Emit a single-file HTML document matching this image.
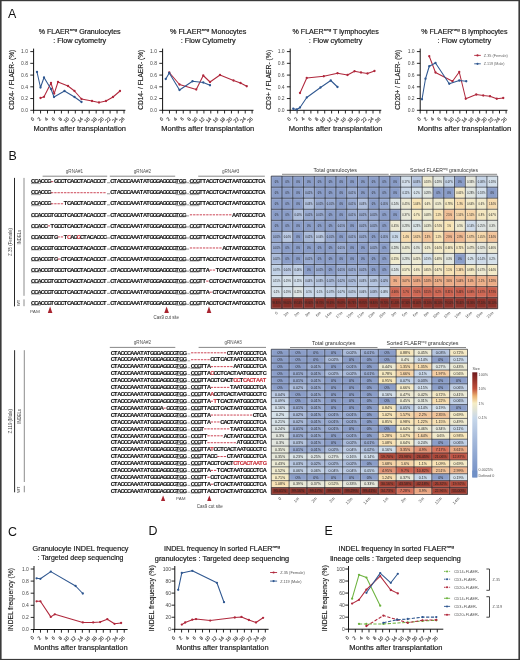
<!DOCTYPE html>
<html><head><meta charset="utf-8"><style>
html,body{margin:0;padding:0;background:#fff;}
svg{display:block;will-change:transform;}
text{font-family:"Liberation Sans", sans-serif;}
</style></head><body>
<svg width="520" height="660" viewBox="0 0 520 660">
<rect x="0" y="0" width="520" height="660" fill="#fff"/>
<rect x="0" y="0" width="520" height="1.2" fill="#3a3a3a"/>
<rect x="0" y="0" width="1.6" height="660" fill="#3a3a3a"/>
<rect x="518.4" y="0" width="1.6" height="660" fill="#3a3a3a"/>
<rect x="0" y="658.9" width="520" height="1.1" fill="#3a3a3a"/>
<text x="7.9" y="17.9" font-size="12.4" fill="#111" font-family='"Liberation Sans", sans-serif'>A</text>
<line x1="33.6" y1="48.6" x2="33.6" y2="110.8" stroke="#111" stroke-width="1.0"/>
<line x1="33.1" y1="110.3" x2="125.4" y2="110.3" stroke="#111" stroke-width="1.0"/>
<line x1="30.3" y1="110.30" x2="33.6" y2="110.30" stroke="#111" stroke-width="0.9"/>
<text x="28.0" y="112.00" font-size="5.0" fill="#4a4a4a" text-anchor="end">0.0</text>
<line x1="30.3" y1="98.56" x2="33.6" y2="98.56" stroke="#111" stroke-width="0.9"/>
<text x="28.0" y="100.26" font-size="5.0" fill="#4a4a4a" text-anchor="end">0.2</text>
<line x1="30.3" y1="86.82" x2="33.6" y2="86.82" stroke="#111" stroke-width="0.9"/>
<text x="28.0" y="88.52" font-size="5.0" fill="#4a4a4a" text-anchor="end">0.4</text>
<line x1="30.3" y1="75.08" x2="33.6" y2="75.08" stroke="#111" stroke-width="0.9"/>
<text x="28.0" y="76.78" font-size="5.0" fill="#4a4a4a" text-anchor="end">0.6</text>
<line x1="30.3" y1="63.34" x2="33.6" y2="63.34" stroke="#111" stroke-width="0.9"/>
<text x="28.0" y="65.04" font-size="5.0" fill="#4a4a4a" text-anchor="end">0.8</text>
<line x1="30.3" y1="51.60" x2="33.6" y2="51.60" stroke="#111" stroke-width="0.9"/>
<text x="28.0" y="53.30" font-size="5.0" fill="#4a4a4a" text-anchor="end">1.0</text>
<line x1="33.60" y1="110.3" x2="33.60" y2="113.5" stroke="#111" stroke-width="0.9"/>
<text x="34.60" y="119.2" font-size="4.9" fill="#333" stroke="#333" stroke-width="0.12" text-anchor="end" transform="rotate(-45 34.60 119.2)">0</text>
<line x1="40.55" y1="110.3" x2="40.55" y2="113.5" stroke="#111" stroke-width="0.9"/>
<text x="41.55" y="119.2" font-size="4.9" fill="#333" stroke="#333" stroke-width="0.12" text-anchor="end" transform="rotate(-45 41.55 119.2)">2</text>
<line x1="47.51" y1="110.3" x2="47.51" y2="113.5" stroke="#111" stroke-width="0.9"/>
<text x="48.51" y="119.2" font-size="4.9" fill="#333" stroke="#333" stroke-width="0.12" text-anchor="end" transform="rotate(-45 48.51 119.2)">4</text>
<line x1="54.46" y1="110.3" x2="54.46" y2="113.5" stroke="#111" stroke-width="0.9"/>
<text x="55.46" y="119.2" font-size="4.9" fill="#333" stroke="#333" stroke-width="0.12" text-anchor="end" transform="rotate(-45 55.46 119.2)">6</text>
<line x1="61.42" y1="110.3" x2="61.42" y2="113.5" stroke="#111" stroke-width="0.9"/>
<text x="62.42" y="119.2" font-size="4.9" fill="#333" stroke="#333" stroke-width="0.12" text-anchor="end" transform="rotate(-45 62.42 119.2)">8</text>
<line x1="68.37" y1="110.3" x2="68.37" y2="113.5" stroke="#111" stroke-width="0.9"/>
<text x="69.37" y="119.2" font-size="4.9" fill="#333" stroke="#333" stroke-width="0.12" text-anchor="end" transform="rotate(-45 69.37 119.2)">10</text>
<line x1="75.32" y1="110.3" x2="75.32" y2="113.5" stroke="#111" stroke-width="0.9"/>
<text x="76.32" y="119.2" font-size="4.9" fill="#333" stroke="#333" stroke-width="0.12" text-anchor="end" transform="rotate(-45 76.32 119.2)">12</text>
<line x1="82.28" y1="110.3" x2="82.28" y2="113.5" stroke="#111" stroke-width="0.9"/>
<text x="83.28" y="119.2" font-size="4.9" fill="#333" stroke="#333" stroke-width="0.12" text-anchor="end" transform="rotate(-45 83.28 119.2)">14</text>
<line x1="89.23" y1="110.3" x2="89.23" y2="113.5" stroke="#111" stroke-width="0.9"/>
<text x="90.23" y="119.2" font-size="4.9" fill="#333" stroke="#333" stroke-width="0.12" text-anchor="end" transform="rotate(-45 90.23 119.2)">16</text>
<line x1="96.18" y1="110.3" x2="96.18" y2="113.5" stroke="#111" stroke-width="0.9"/>
<text x="97.18" y="119.2" font-size="4.9" fill="#333" stroke="#333" stroke-width="0.12" text-anchor="end" transform="rotate(-45 97.18 119.2)">18</text>
<line x1="103.14" y1="110.3" x2="103.14" y2="113.5" stroke="#111" stroke-width="0.9"/>
<text x="104.14" y="119.2" font-size="4.9" fill="#333" stroke="#333" stroke-width="0.12" text-anchor="end" transform="rotate(-45 104.14 119.2)">20</text>
<line x1="110.09" y1="110.3" x2="110.09" y2="113.5" stroke="#111" stroke-width="0.9"/>
<text x="111.09" y="119.2" font-size="4.9" fill="#333" stroke="#333" stroke-width="0.12" text-anchor="end" transform="rotate(-45 111.09 119.2)">22</text>
<line x1="117.05" y1="110.3" x2="117.05" y2="113.5" stroke="#111" stroke-width="0.9"/>
<text x="118.05" y="119.2" font-size="4.9" fill="#333" stroke="#333" stroke-width="0.12" text-anchor="end" transform="rotate(-45 118.05 119.2)">24</text>
<line x1="124.00" y1="110.3" x2="124.00" y2="113.5" stroke="#111" stroke-width="0.9"/>
<text x="125.00" y="119.2" font-size="4.9" fill="#333" stroke="#333" stroke-width="0.12" text-anchor="end" transform="rotate(-45 125.00 119.2)">26</text>
<text x="79.69999999999999" y="34.2" font-size="6.6" fill="#1a1a1a" stroke="#1a1a1a" stroke-width="0.18" font-family='"Liberation Sans", sans-serif' text-anchor="middle" textLength="81.8" lengthAdjust="spacingAndGlyphs">% FLAER<tspan font-size="4.2" dy="-3.2">neg</tspan><tspan dy="3.2"> Granulocytes</tspan></text>
<text x="79.69999999999999" y="43.0" font-size="6.6" fill="#1a1a1a" stroke="#1a1a1a" stroke-width="0.18" font-family='"Liberation Sans", sans-serif' text-anchor="middle" textLength="53.099999999999994" lengthAdjust="spacingAndGlyphs">: Flow cytometry</text>
<text x="14.3" y="79.8" font-size="7.4" fill="#1a1a1a" stroke="#1a1a1a" stroke-width="0.14" font-family='"Liberation Sans", sans-serif' text-anchor="middle" textLength="60.0" lengthAdjust="spacingAndGlyphs" transform="rotate(-90 14.3 79.8)">CD24- / FLAER- (%)</text>
<text x="79.75" y="131.4" font-size="7.4" fill="#1a1a1a" stroke="#1a1a1a" stroke-width="0.18" font-family='"Liberation Sans", sans-serif' text-anchor="middle" textLength="92.50" lengthAdjust="spacingAndGlyphs">Months after transplantation</text>
<polyline points="40.5,98 44,96.8 51,83 54.2,93.6 58,82 68,86 74.5,91 81.5,99 92,101 99,102.5 106,101 113,97 120,91" fill="none" stroke="#b0283c" stroke-width="1.05" stroke-linejoin="round"/>
<circle cx="40.5" cy="98" r="1.15" fill="#b0283c"/>
<circle cx="44" cy="96.8" r="1.15" fill="#b0283c"/>
<circle cx="51" cy="83" r="1.15" fill="#b0283c"/>
<circle cx="54.2" cy="93.6" r="1.15" fill="#b0283c"/>
<circle cx="58" cy="82" r="1.15" fill="#b0283c"/>
<circle cx="68" cy="86" r="1.15" fill="#b0283c"/>
<circle cx="74.5" cy="91" r="1.15" fill="#b0283c"/>
<circle cx="81.5" cy="99" r="1.15" fill="#b0283c"/>
<circle cx="92" cy="101" r="1.15" fill="#b0283c"/>
<circle cx="99" cy="102.5" r="1.15" fill="#b0283c"/>
<circle cx="106" cy="101" r="1.15" fill="#b0283c"/>
<circle cx="113" cy="97" r="1.15" fill="#b0283c"/>
<circle cx="120" cy="91" r="1.15" fill="#b0283c"/>
<polyline points="37,72 40.5,87.5 44,77.5 51,89 54,97 64.5,91 74.5,97 81.5,102" fill="none" stroke="#2f5790" stroke-width="1.05" stroke-linejoin="round"/>
<circle cx="37" cy="72" r="1.15" fill="#2f5790"/>
<circle cx="40.5" cy="87.5" r="1.15" fill="#2f5790"/>
<circle cx="44" cy="77.5" r="1.15" fill="#2f5790"/>
<circle cx="51" cy="89" r="1.15" fill="#2f5790"/>
<circle cx="54" cy="97" r="1.15" fill="#2f5790"/>
<circle cx="64.5" cy="91" r="1.15" fill="#2f5790"/>
<circle cx="74.5" cy="97" r="1.15" fill="#2f5790"/>
<circle cx="81.5" cy="102" r="1.15" fill="#2f5790"/>
<line x1="162.6" y1="48.6" x2="162.6" y2="110.8" stroke="#111" stroke-width="1.0"/>
<line x1="162.1" y1="110.3" x2="253.5" y2="110.3" stroke="#111" stroke-width="1.0"/>
<line x1="159.29999999999998" y1="110.30" x2="162.6" y2="110.30" stroke="#111" stroke-width="0.9"/>
<text x="157.0" y="112.00" font-size="5.0" fill="#4a4a4a" text-anchor="end">0.0</text>
<line x1="159.29999999999998" y1="98.56" x2="162.6" y2="98.56" stroke="#111" stroke-width="0.9"/>
<text x="157.0" y="100.26" font-size="5.0" fill="#4a4a4a" text-anchor="end">0.2</text>
<line x1="159.29999999999998" y1="86.82" x2="162.6" y2="86.82" stroke="#111" stroke-width="0.9"/>
<text x="157.0" y="88.52" font-size="5.0" fill="#4a4a4a" text-anchor="end">0.4</text>
<line x1="159.29999999999998" y1="75.08" x2="162.6" y2="75.08" stroke="#111" stroke-width="0.9"/>
<text x="157.0" y="76.78" font-size="5.0" fill="#4a4a4a" text-anchor="end">0.6</text>
<line x1="159.29999999999998" y1="63.34" x2="162.6" y2="63.34" stroke="#111" stroke-width="0.9"/>
<text x="157.0" y="65.04" font-size="5.0" fill="#4a4a4a" text-anchor="end">0.8</text>
<line x1="159.29999999999998" y1="51.60" x2="162.6" y2="51.60" stroke="#111" stroke-width="0.9"/>
<text x="157.0" y="53.30" font-size="5.0" fill="#4a4a4a" text-anchor="end">1.0</text>
<line x1="162.60" y1="110.3" x2="162.60" y2="113.5" stroke="#111" stroke-width="0.9"/>
<text x="163.60" y="119.2" font-size="4.9" fill="#333" stroke="#333" stroke-width="0.12" text-anchor="end" transform="rotate(-45 163.60 119.2)">0</text>
<line x1="169.48" y1="110.3" x2="169.48" y2="113.5" stroke="#111" stroke-width="0.9"/>
<text x="170.48" y="119.2" font-size="4.9" fill="#333" stroke="#333" stroke-width="0.12" text-anchor="end" transform="rotate(-45 170.48 119.2)">2</text>
<line x1="176.37" y1="110.3" x2="176.37" y2="113.5" stroke="#111" stroke-width="0.9"/>
<text x="177.37" y="119.2" font-size="4.9" fill="#333" stroke="#333" stroke-width="0.12" text-anchor="end" transform="rotate(-45 177.37 119.2)">4</text>
<line x1="183.25" y1="110.3" x2="183.25" y2="113.5" stroke="#111" stroke-width="0.9"/>
<text x="184.25" y="119.2" font-size="4.9" fill="#333" stroke="#333" stroke-width="0.12" text-anchor="end" transform="rotate(-45 184.25 119.2)">6</text>
<line x1="190.14" y1="110.3" x2="190.14" y2="113.5" stroke="#111" stroke-width="0.9"/>
<text x="191.14" y="119.2" font-size="4.9" fill="#333" stroke="#333" stroke-width="0.12" text-anchor="end" transform="rotate(-45 191.14 119.2)">8</text>
<line x1="197.02" y1="110.3" x2="197.02" y2="113.5" stroke="#111" stroke-width="0.9"/>
<text x="198.02" y="119.2" font-size="4.9" fill="#333" stroke="#333" stroke-width="0.12" text-anchor="end" transform="rotate(-45 198.02 119.2)">10</text>
<line x1="203.91" y1="110.3" x2="203.91" y2="113.5" stroke="#111" stroke-width="0.9"/>
<text x="204.91" y="119.2" font-size="4.9" fill="#333" stroke="#333" stroke-width="0.12" text-anchor="end" transform="rotate(-45 204.91 119.2)">12</text>
<line x1="210.79" y1="110.3" x2="210.79" y2="113.5" stroke="#111" stroke-width="0.9"/>
<text x="211.79" y="119.2" font-size="4.9" fill="#333" stroke="#333" stroke-width="0.12" text-anchor="end" transform="rotate(-45 211.79 119.2)">14</text>
<line x1="217.68" y1="110.3" x2="217.68" y2="113.5" stroke="#111" stroke-width="0.9"/>
<text x="218.68" y="119.2" font-size="4.9" fill="#333" stroke="#333" stroke-width="0.12" text-anchor="end" transform="rotate(-45 218.68 119.2)">16</text>
<line x1="224.56" y1="110.3" x2="224.56" y2="113.5" stroke="#111" stroke-width="0.9"/>
<text x="225.56" y="119.2" font-size="4.9" fill="#333" stroke="#333" stroke-width="0.12" text-anchor="end" transform="rotate(-45 225.56 119.2)">18</text>
<line x1="231.45" y1="110.3" x2="231.45" y2="113.5" stroke="#111" stroke-width="0.9"/>
<text x="232.45" y="119.2" font-size="4.9" fill="#333" stroke="#333" stroke-width="0.12" text-anchor="end" transform="rotate(-45 232.45 119.2)">20</text>
<line x1="238.33" y1="110.3" x2="238.33" y2="113.5" stroke="#111" stroke-width="0.9"/>
<text x="239.33" y="119.2" font-size="4.9" fill="#333" stroke="#333" stroke-width="0.12" text-anchor="end" transform="rotate(-45 239.33 119.2)">22</text>
<line x1="245.22" y1="110.3" x2="245.22" y2="113.5" stroke="#111" stroke-width="0.9"/>
<text x="246.22" y="119.2" font-size="4.9" fill="#333" stroke="#333" stroke-width="0.12" text-anchor="end" transform="rotate(-45 246.22 119.2)">24</text>
<line x1="252.10" y1="110.3" x2="252.10" y2="113.5" stroke="#111" stroke-width="0.9"/>
<text x="253.10" y="119.2" font-size="4.9" fill="#333" stroke="#333" stroke-width="0.12" text-anchor="end" transform="rotate(-45 253.10 119.2)">26</text>
<text x="208.15" y="34.2" font-size="6.6" fill="#1a1a1a" stroke="#1a1a1a" stroke-width="0.18" font-family='"Liberation Sans", sans-serif' text-anchor="middle" textLength="76.30000000000001" lengthAdjust="spacingAndGlyphs">% FLAER<tspan font-size="4.2" dy="-3.2">neg</tspan><tspan dy="3.2">  Monocytes</tspan></text>
<text x="208.15" y="43.0" font-size="6.6" fill="#1a1a1a" stroke="#1a1a1a" stroke-width="0.18" font-family='"Liberation Sans", sans-serif' text-anchor="middle" textLength="55.0" lengthAdjust="spacingAndGlyphs">: Flow Cytometry</text>
<text x="143.4" y="79.8" font-size="7.4" fill="#1a1a1a" stroke="#1a1a1a" stroke-width="0.14" font-family='"Liberation Sans", sans-serif' text-anchor="middle" textLength="60.0" lengthAdjust="spacingAndGlyphs" transform="rotate(-90 143.4 79.8)">CD14- / FLAER- (%)</text>
<text x="207.80" y="131.4" font-size="7.4" fill="#1a1a1a" stroke="#1a1a1a" stroke-width="0.18" font-family='"Liberation Sans", sans-serif' text-anchor="middle" textLength="93.00" lengthAdjust="spacingAndGlyphs">Months after transplantation</text>
<polyline points="169.25,72.5 179.5,84.5 196.25,89.5 203.25,75.5 210,82 220,75 233.5,80.5 240.5,83 246.75,86.25" fill="none" stroke="#b0283c" stroke-width="1.05" stroke-linejoin="round"/>
<circle cx="169.25" cy="72.5" r="1.15" fill="#b0283c"/>
<circle cx="179.5" cy="84.5" r="1.15" fill="#b0283c"/>
<circle cx="196.25" cy="89.5" r="1.15" fill="#b0283c"/>
<circle cx="203.25" cy="75.5" r="1.15" fill="#b0283c"/>
<circle cx="210" cy="82" r="1.15" fill="#b0283c"/>
<circle cx="220" cy="75" r="1.15" fill="#b0283c"/>
<circle cx="233.5" cy="80.5" r="1.15" fill="#b0283c"/>
<circle cx="240.5" cy="83" r="1.15" fill="#b0283c"/>
<circle cx="246.75" cy="86.25" r="1.15" fill="#b0283c"/>
<polyline points="165.75,79 169.25,73 179.5,90 192.5,81.25 203.25,82.5 210,85.25" fill="none" stroke="#2f5790" stroke-width="1.05" stroke-linejoin="round"/>
<circle cx="165.75" cy="79" r="1.15" fill="#2f5790"/>
<circle cx="169.25" cy="73" r="1.15" fill="#2f5790"/>
<circle cx="179.5" cy="90" r="1.15" fill="#2f5790"/>
<circle cx="192.5" cy="81.25" r="1.15" fill="#2f5790"/>
<circle cx="203.25" cy="82.5" r="1.15" fill="#2f5790"/>
<circle cx="210" cy="85.25" r="1.15" fill="#2f5790"/>
<line x1="290.2" y1="48.6" x2="290.2" y2="110.8" stroke="#111" stroke-width="1.0"/>
<line x1="289.7" y1="110.3" x2="381.3" y2="110.3" stroke="#111" stroke-width="1.0"/>
<line x1="286.9" y1="110.30" x2="290.2" y2="110.30" stroke="#111" stroke-width="0.9"/>
<text x="284.6" y="112.00" font-size="5.0" fill="#4a4a4a" text-anchor="end">0.0</text>
<line x1="286.9" y1="98.56" x2="290.2" y2="98.56" stroke="#111" stroke-width="0.9"/>
<text x="284.6" y="100.26" font-size="5.0" fill="#4a4a4a" text-anchor="end">0.2</text>
<line x1="286.9" y1="86.82" x2="290.2" y2="86.82" stroke="#111" stroke-width="0.9"/>
<text x="284.6" y="88.52" font-size="5.0" fill="#4a4a4a" text-anchor="end">0.4</text>
<line x1="286.9" y1="75.08" x2="290.2" y2="75.08" stroke="#111" stroke-width="0.9"/>
<text x="284.6" y="76.78" font-size="5.0" fill="#4a4a4a" text-anchor="end">0.6</text>
<line x1="286.9" y1="63.34" x2="290.2" y2="63.34" stroke="#111" stroke-width="0.9"/>
<text x="284.6" y="65.04" font-size="5.0" fill="#4a4a4a" text-anchor="end">0.8</text>
<line x1="286.9" y1="51.60" x2="290.2" y2="51.60" stroke="#111" stroke-width="0.9"/>
<text x="284.6" y="53.30" font-size="5.0" fill="#4a4a4a" text-anchor="end">1.0</text>
<line x1="290.20" y1="110.3" x2="290.20" y2="113.5" stroke="#111" stroke-width="0.9"/>
<text x="291.20" y="119.2" font-size="4.9" fill="#333" stroke="#333" stroke-width="0.12" text-anchor="end" transform="rotate(-45 291.20 119.2)">0</text>
<line x1="297.10" y1="110.3" x2="297.10" y2="113.5" stroke="#111" stroke-width="0.9"/>
<text x="298.10" y="119.2" font-size="4.9" fill="#333" stroke="#333" stroke-width="0.12" text-anchor="end" transform="rotate(-45 298.10 119.2)">2</text>
<line x1="304.00" y1="110.3" x2="304.00" y2="113.5" stroke="#111" stroke-width="0.9"/>
<text x="305.00" y="119.2" font-size="4.9" fill="#333" stroke="#333" stroke-width="0.12" text-anchor="end" transform="rotate(-45 305.00 119.2)">4</text>
<line x1="310.90" y1="110.3" x2="310.90" y2="113.5" stroke="#111" stroke-width="0.9"/>
<text x="311.90" y="119.2" font-size="4.9" fill="#333" stroke="#333" stroke-width="0.12" text-anchor="end" transform="rotate(-45 311.90 119.2)">6</text>
<line x1="317.80" y1="110.3" x2="317.80" y2="113.5" stroke="#111" stroke-width="0.9"/>
<text x="318.80" y="119.2" font-size="4.9" fill="#333" stroke="#333" stroke-width="0.12" text-anchor="end" transform="rotate(-45 318.80 119.2)">8</text>
<line x1="324.70" y1="110.3" x2="324.70" y2="113.5" stroke="#111" stroke-width="0.9"/>
<text x="325.70" y="119.2" font-size="4.9" fill="#333" stroke="#333" stroke-width="0.12" text-anchor="end" transform="rotate(-45 325.70 119.2)">10</text>
<line x1="331.60" y1="110.3" x2="331.60" y2="113.5" stroke="#111" stroke-width="0.9"/>
<text x="332.60" y="119.2" font-size="4.9" fill="#333" stroke="#333" stroke-width="0.12" text-anchor="end" transform="rotate(-45 332.60 119.2)">12</text>
<line x1="338.50" y1="110.3" x2="338.50" y2="113.5" stroke="#111" stroke-width="0.9"/>
<text x="339.50" y="119.2" font-size="4.9" fill="#333" stroke="#333" stroke-width="0.12" text-anchor="end" transform="rotate(-45 339.50 119.2)">14</text>
<line x1="345.40" y1="110.3" x2="345.40" y2="113.5" stroke="#111" stroke-width="0.9"/>
<text x="346.40" y="119.2" font-size="4.9" fill="#333" stroke="#333" stroke-width="0.12" text-anchor="end" transform="rotate(-45 346.40 119.2)">16</text>
<line x1="352.30" y1="110.3" x2="352.30" y2="113.5" stroke="#111" stroke-width="0.9"/>
<text x="353.30" y="119.2" font-size="4.9" fill="#333" stroke="#333" stroke-width="0.12" text-anchor="end" transform="rotate(-45 353.30 119.2)">18</text>
<line x1="359.20" y1="110.3" x2="359.20" y2="113.5" stroke="#111" stroke-width="0.9"/>
<text x="360.20" y="119.2" font-size="4.9" fill="#333" stroke="#333" stroke-width="0.12" text-anchor="end" transform="rotate(-45 360.20 119.2)">20</text>
<line x1="366.10" y1="110.3" x2="366.10" y2="113.5" stroke="#111" stroke-width="0.9"/>
<text x="367.10" y="119.2" font-size="4.9" fill="#333" stroke="#333" stroke-width="0.12" text-anchor="end" transform="rotate(-45 367.10 119.2)">22</text>
<line x1="373.00" y1="110.3" x2="373.00" y2="113.5" stroke="#111" stroke-width="0.9"/>
<text x="374.00" y="119.2" font-size="4.9" fill="#333" stroke="#333" stroke-width="0.12" text-anchor="end" transform="rotate(-45 374.00 119.2)">24</text>
<line x1="379.90" y1="110.3" x2="379.90" y2="113.5" stroke="#111" stroke-width="0.9"/>
<text x="380.90" y="119.2" font-size="4.9" fill="#333" stroke="#333" stroke-width="0.12" text-anchor="end" transform="rotate(-45 380.90 119.2)">26</text>
<text x="335.65" y="34.2" font-size="6.6" fill="#1a1a1a" stroke="#1a1a1a" stroke-width="0.18" font-family='"Liberation Sans", sans-serif' text-anchor="middle" textLength="86.30000000000001" lengthAdjust="spacingAndGlyphs">% FLAER<tspan font-size="4.2" dy="-3.2">neg</tspan><tspan dy="3.2">  T lymphocytes</tspan></text>
<text x="335.65" y="43.0" font-size="6.6" fill="#1a1a1a" stroke="#1a1a1a" stroke-width="0.18" font-family='"Liberation Sans", sans-serif' text-anchor="middle" textLength="53.69999999999999" lengthAdjust="spacingAndGlyphs">: Flow cytometry</text>
<text x="270.8" y="79.8" font-size="7.4" fill="#1a1a1a" stroke="#1a1a1a" stroke-width="0.14" font-family='"Liberation Sans", sans-serif' text-anchor="middle" textLength="60.0" lengthAdjust="spacingAndGlyphs" transform="rotate(-90 270.8 79.8)">CD3+ / FLAER- (%)</text>
<text x="335.65" y="131.4" font-size="7.4" fill="#1a1a1a" stroke="#1a1a1a" stroke-width="0.18" font-family='"Liberation Sans", sans-serif' text-anchor="middle" textLength="93.70" lengthAdjust="spacingAndGlyphs">Months after transplantation</text>
<polyline points="300,93 306.75,78 323.75,76.25 337.5,73.25 347.5,75 354.5,71.25 361,72.5 367.5,73.5 374.5,71" fill="none" stroke="#b0283c" stroke-width="1.05" stroke-linejoin="round"/>
<circle cx="300" cy="93" r="1.15" fill="#b0283c"/>
<circle cx="306.75" cy="78" r="1.15" fill="#b0283c"/>
<circle cx="323.75" cy="76.25" r="1.15" fill="#b0283c"/>
<circle cx="337.5" cy="73.25" r="1.15" fill="#b0283c"/>
<circle cx="347.5" cy="75" r="1.15" fill="#b0283c"/>
<circle cx="354.5" cy="71.25" r="1.15" fill="#b0283c"/>
<circle cx="361" cy="72.5" r="1.15" fill="#b0283c"/>
<circle cx="367.5" cy="73.5" r="1.15" fill="#b0283c"/>
<circle cx="374.5" cy="71" r="1.15" fill="#b0283c"/>
<polyline points="293.25,108.75 296.75,109.5 300,107.5 306.75,97.5 320.5,87.5 330.75,80.5 337.5,87" fill="none" stroke="#2f5790" stroke-width="1.05" stroke-linejoin="round"/>
<circle cx="293.25" cy="108.75" r="1.15" fill="#2f5790"/>
<circle cx="296.75" cy="109.5" r="1.15" fill="#2f5790"/>
<circle cx="300" cy="107.5" r="1.15" fill="#2f5790"/>
<circle cx="306.75" cy="97.5" r="1.15" fill="#2f5790"/>
<circle cx="320.5" cy="87.5" r="1.15" fill="#2f5790"/>
<circle cx="330.75" cy="80.5" r="1.15" fill="#2f5790"/>
<circle cx="337.5" cy="87" r="1.15" fill="#2f5790"/>
<line x1="420.2" y1="48.6" x2="420.2" y2="110.8" stroke="#111" stroke-width="1.0"/>
<line x1="419.7" y1="110.3" x2="507.5" y2="110.3" stroke="#111" stroke-width="1.0"/>
<line x1="416.9" y1="110.30" x2="420.2" y2="110.30" stroke="#111" stroke-width="0.9"/>
<text x="414.6" y="112.00" font-size="5.0" fill="#4a4a4a" text-anchor="end">0.0</text>
<line x1="416.9" y1="98.56" x2="420.2" y2="98.56" stroke="#111" stroke-width="0.9"/>
<text x="414.6" y="100.26" font-size="5.0" fill="#4a4a4a" text-anchor="end">0.2</text>
<line x1="416.9" y1="86.82" x2="420.2" y2="86.82" stroke="#111" stroke-width="0.9"/>
<text x="414.6" y="88.52" font-size="5.0" fill="#4a4a4a" text-anchor="end">0.4</text>
<line x1="416.9" y1="75.08" x2="420.2" y2="75.08" stroke="#111" stroke-width="0.9"/>
<text x="414.6" y="76.78" font-size="5.0" fill="#4a4a4a" text-anchor="end">0.6</text>
<line x1="416.9" y1="63.34" x2="420.2" y2="63.34" stroke="#111" stroke-width="0.9"/>
<text x="414.6" y="65.04" font-size="5.0" fill="#4a4a4a" text-anchor="end">0.8</text>
<line x1="416.9" y1="51.60" x2="420.2" y2="51.60" stroke="#111" stroke-width="0.9"/>
<text x="414.6" y="53.30" font-size="5.0" fill="#4a4a4a" text-anchor="end">1.0</text>
<line x1="420.20" y1="110.3" x2="420.20" y2="113.5" stroke="#111" stroke-width="0.9"/>
<text x="421.20" y="119.2" font-size="4.9" fill="#333" stroke="#333" stroke-width="0.12" text-anchor="end" transform="rotate(-45 421.20 119.2)">0</text>
<line x1="426.81" y1="110.3" x2="426.81" y2="113.5" stroke="#111" stroke-width="0.9"/>
<text x="427.81" y="119.2" font-size="4.9" fill="#333" stroke="#333" stroke-width="0.12" text-anchor="end" transform="rotate(-45 427.81 119.2)">2</text>
<line x1="433.42" y1="110.3" x2="433.42" y2="113.5" stroke="#111" stroke-width="0.9"/>
<text x="434.42" y="119.2" font-size="4.9" fill="#333" stroke="#333" stroke-width="0.12" text-anchor="end" transform="rotate(-45 434.42 119.2)">4</text>
<line x1="440.02" y1="110.3" x2="440.02" y2="113.5" stroke="#111" stroke-width="0.9"/>
<text x="441.02" y="119.2" font-size="4.9" fill="#333" stroke="#333" stroke-width="0.12" text-anchor="end" transform="rotate(-45 441.02 119.2)">6</text>
<line x1="446.63" y1="110.3" x2="446.63" y2="113.5" stroke="#111" stroke-width="0.9"/>
<text x="447.63" y="119.2" font-size="4.9" fill="#333" stroke="#333" stroke-width="0.12" text-anchor="end" transform="rotate(-45 447.63 119.2)">8</text>
<line x1="453.24" y1="110.3" x2="453.24" y2="113.5" stroke="#111" stroke-width="0.9"/>
<text x="454.24" y="119.2" font-size="4.9" fill="#333" stroke="#333" stroke-width="0.12" text-anchor="end" transform="rotate(-45 454.24 119.2)">10</text>
<line x1="459.85" y1="110.3" x2="459.85" y2="113.5" stroke="#111" stroke-width="0.9"/>
<text x="460.85" y="119.2" font-size="4.9" fill="#333" stroke="#333" stroke-width="0.12" text-anchor="end" transform="rotate(-45 460.85 119.2)">12</text>
<line x1="466.45" y1="110.3" x2="466.45" y2="113.5" stroke="#111" stroke-width="0.9"/>
<text x="467.45" y="119.2" font-size="4.9" fill="#333" stroke="#333" stroke-width="0.12" text-anchor="end" transform="rotate(-45 467.45 119.2)">14</text>
<line x1="473.06" y1="110.3" x2="473.06" y2="113.5" stroke="#111" stroke-width="0.9"/>
<text x="474.06" y="119.2" font-size="4.9" fill="#333" stroke="#333" stroke-width="0.12" text-anchor="end" transform="rotate(-45 474.06 119.2)">16</text>
<line x1="479.67" y1="110.3" x2="479.67" y2="113.5" stroke="#111" stroke-width="0.9"/>
<text x="480.67" y="119.2" font-size="4.9" fill="#333" stroke="#333" stroke-width="0.12" text-anchor="end" transform="rotate(-45 480.67 119.2)">18</text>
<line x1="486.28" y1="110.3" x2="486.28" y2="113.5" stroke="#111" stroke-width="0.9"/>
<text x="487.28" y="119.2" font-size="4.9" fill="#333" stroke="#333" stroke-width="0.12" text-anchor="end" transform="rotate(-45 487.28 119.2)">20</text>
<line x1="492.88" y1="110.3" x2="492.88" y2="113.5" stroke="#111" stroke-width="0.9"/>
<text x="493.88" y="119.2" font-size="4.9" fill="#333" stroke="#333" stroke-width="0.12" text-anchor="end" transform="rotate(-45 493.88 119.2)">22</text>
<line x1="499.49" y1="110.3" x2="499.49" y2="113.5" stroke="#111" stroke-width="0.9"/>
<text x="500.49" y="119.2" font-size="4.9" fill="#333" stroke="#333" stroke-width="0.12" text-anchor="end" transform="rotate(-45 500.49 119.2)">24</text>
<line x1="506.10" y1="110.3" x2="506.10" y2="113.5" stroke="#111" stroke-width="0.9"/>
<text x="507.10" y="119.2" font-size="4.9" fill="#333" stroke="#333" stroke-width="0.12" text-anchor="end" transform="rotate(-45 507.10 119.2)">26</text>
<text x="464.4" y="34.2" font-size="6.6" fill="#1a1a1a" stroke="#1a1a1a" stroke-width="0.18" font-family='"Liberation Sans", sans-serif' text-anchor="middle" textLength="86.19999999999999" lengthAdjust="spacingAndGlyphs">% FLAER<tspan font-size="4.2" dy="-3.2">neg</tspan><tspan dy="3.2">  B lymphocytes</tspan></text>
<text x="464.4" y="43.0" font-size="6.6" fill="#1a1a1a" stroke="#1a1a1a" stroke-width="0.18" font-family='"Liberation Sans", sans-serif' text-anchor="middle" textLength="53.80000000000001" lengthAdjust="spacingAndGlyphs">: Flow cytometry</text>
<text x="399.6" y="79.8" font-size="7.4" fill="#1a1a1a" stroke="#1a1a1a" stroke-width="0.14" font-family='"Liberation Sans", sans-serif' text-anchor="middle" textLength="60.0" lengthAdjust="spacingAndGlyphs" transform="rotate(-90 399.6 79.8)">CD20+ / FLAER- (%)</text>
<text x="464.40" y="131.4" font-size="7.4" fill="#1a1a1a" stroke="#1a1a1a" stroke-width="0.18" font-family='"Liberation Sans", sans-serif' text-anchor="middle" textLength="93.80" lengthAdjust="spacingAndGlyphs">Months after transplantation</text>
<polyline points="429.25,56.25 435.5,72.5 452.5,81.25 459.25,72 465.75,98.75 476.25,94.5 483.25,95.5 490,96.25 496.75,98.75 503.25,98" fill="none" stroke="#b0283c" stroke-width="1.05" stroke-linejoin="round"/>
<circle cx="429.25" cy="56.25" r="1.15" fill="#b0283c"/>
<circle cx="435.5" cy="72.5" r="1.15" fill="#b0283c"/>
<circle cx="452.5" cy="81.25" r="1.15" fill="#b0283c"/>
<circle cx="459.25" cy="72" r="1.15" fill="#b0283c"/>
<circle cx="465.75" cy="98.75" r="1.15" fill="#b0283c"/>
<circle cx="476.25" cy="94.5" r="1.15" fill="#b0283c"/>
<circle cx="483.25" cy="95.5" r="1.15" fill="#b0283c"/>
<circle cx="490" cy="96.25" r="1.15" fill="#b0283c"/>
<circle cx="496.75" cy="98.75" r="1.15" fill="#b0283c"/>
<circle cx="503.25" cy="98" r="1.15" fill="#b0283c"/>
<polyline points="422,99.25 425.5,78.75 429.25,66.25 435.5,63 449.25,83.75 459.25,80.5 466.25,81.25" fill="none" stroke="#2f5790" stroke-width="1.05" stroke-linejoin="round"/>
<circle cx="422" cy="99.25" r="1.15" fill="#2f5790"/>
<circle cx="425.5" cy="78.75" r="1.15" fill="#2f5790"/>
<circle cx="429.25" cy="66.25" r="1.15" fill="#2f5790"/>
<circle cx="435.5" cy="63" r="1.15" fill="#2f5790"/>
<circle cx="449.25" cy="83.75" r="1.15" fill="#2f5790"/>
<circle cx="459.25" cy="80.5" r="1.15" fill="#2f5790"/>
<circle cx="466.25" cy="81.25" r="1.15" fill="#2f5790"/>
<line x1="474.2" y1="55.4" x2="480.8" y2="55.4" stroke="#b0283c" stroke-width="0.9"/>
<circle cx="477.5" cy="55.4" r="1.1" fill="#b0283c"/>
<text x="483.8" y="56.85" font-size="4.2" fill="#666" font-family='"Liberation Sans", sans-serif' textLength="24.0" lengthAdjust="spacingAndGlyphs" >Z.35 (Female)</text>
<line x1="474.2" y1="63.8" x2="480.8" y2="63.8" stroke="#2f5790" stroke-width="0.9"/>
<circle cx="477.5" cy="63.8" r="1.1" fill="#2f5790"/>
<text x="483.8" y="65.25" font-size="4.2" fill="#666" font-family='"Liberation Sans", sans-serif' textLength="20.8" lengthAdjust="spacingAndGlyphs" >Z.119 (Male)</text>
<text x="8.6" y="159.9" font-size="12.4" fill="#111" font-family='"Liberation Sans", sans-serif'>B</text>
<line x1="42.6" y1="176.2" x2="107.2" y2="176.2" stroke="#555" stroke-width="0.7"/>
<text x="74.5" y="173.20" font-size="4.6" fill="#555" text-anchor="middle">gRNA#1</text>
<line x1="109.8" y1="176.2" x2="175.2" y2="176.2" stroke="#555" stroke-width="0.7"/>
<text x="142.5" y="173.20" font-size="4.6" fill="#555" text-anchor="middle">gRNA#2</text>
<line x1="198.2" y1="176.2" x2="264.8" y2="176.2" stroke="#555" stroke-width="0.7"/>
<text x="230.7" y="173.20" font-size="4.6" fill="#555" text-anchor="middle">gRNA#3</text>
<line x1="50.97" y1="181.68" x2="53.29" y2="181.68" stroke="#cc4656" stroke-width="1.0"/>
<text x="31.00 34.27 37.54 40.81 44.08 47.35 53.89 57.16 60.43 63.70 66.97 70.24 73.51 76.78 80.05 83.32 86.59 89.86 93.13 96.40 99.67 102.94" y="183.38" font-size="5.6" fill="#111" font-family='"Liberation Mono", monospace' font-weight="bold" stroke="#111" stroke-width="0.15">CCACCGGCCTCAGCTACACCCT</text>
<line x1="31.00" y1="183.57" x2="40.81" y2="183.57" stroke="#555" stroke-width="0.55"/>
<rect x="107.10" y="182.38" width="0.8" height="0.8" fill="#555"/>
<rect x="108.10" y="182.38" width="0.8" height="0.8" fill="#555"/>
<rect x="109.10" y="182.38" width="0.8" height="0.8" fill="#555"/>
<text x="110.20 113.47 116.74 120.01 123.28 126.55 129.82 133.09 136.36 139.63 142.90 146.17 149.44 152.71 155.98 159.25 162.52 165.79 169.06 172.33 175.60 178.87 182.14" y="183.38" font-size="5.6" fill="#111" font-family='"Liberation Mono", monospace' font-weight="bold" stroke="#111" stroke-width="0.15">CTACCCAAATATGGGAGGCGTGG</text>
<line x1="175.60" y1="183.57" x2="185.41" y2="183.57" stroke="#555" stroke-width="0.55"/>
<rect x="185.65" y="182.38" width="0.8" height="0.8" fill="#555"/>
<rect x="186.95" y="182.38" width="0.8" height="0.8" fill="#555"/>
<rect x="188.25" y="182.38" width="0.8" height="0.8" fill="#555"/>
<text x="189.50 192.77 196.04 199.31 202.58 205.85 209.12 212.39 215.66 218.93 222.20 225.47 228.74 232.01 235.28 238.55 241.82 245.09 248.36 251.63 254.90 258.17 261.44" y="183.38" font-size="5.6" fill="#111" font-family='"Liberation Mono", monospace' font-weight="bold" stroke="#111" stroke-width="0.15">CCGTTACCTCACTAATGGCCTCA</text>
<line x1="189.50" y1="183.57" x2="199.31" y2="183.57" stroke="#555" stroke-width="0.55"/>
<line x1="50.97" y1="192.72" x2="53.29" y2="192.72" stroke="#cc4656" stroke-width="1.0"/>
<line x1="54.24" y1="192.72" x2="56.56" y2="192.72" stroke="#cc4656" stroke-width="1.0"/>
<line x1="57.51" y1="192.72" x2="59.83" y2="192.72" stroke="#cc4656" stroke-width="1.0"/>
<line x1="60.78" y1="192.72" x2="63.10" y2="192.72" stroke="#cc4656" stroke-width="1.0"/>
<line x1="64.05" y1="192.72" x2="66.37" y2="192.72" stroke="#cc4656" stroke-width="1.0"/>
<line x1="67.32" y1="192.72" x2="69.64" y2="192.72" stroke="#cc4656" stroke-width="1.0"/>
<line x1="70.59" y1="192.72" x2="72.91" y2="192.72" stroke="#cc4656" stroke-width="1.0"/>
<line x1="73.86" y1="192.72" x2="76.18" y2="192.72" stroke="#cc4656" stroke-width="1.0"/>
<line x1="77.13" y1="192.72" x2="79.45" y2="192.72" stroke="#cc4656" stroke-width="1.0"/>
<line x1="80.40" y1="192.72" x2="82.72" y2="192.72" stroke="#cc4656" stroke-width="1.0"/>
<line x1="83.67" y1="192.72" x2="85.99" y2="192.72" stroke="#cc4656" stroke-width="1.0"/>
<line x1="86.94" y1="192.72" x2="89.26" y2="192.72" stroke="#cc4656" stroke-width="1.0"/>
<line x1="90.21" y1="192.72" x2="92.53" y2="192.72" stroke="#cc4656" stroke-width="1.0"/>
<line x1="93.48" y1="192.72" x2="95.80" y2="192.72" stroke="#cc4656" stroke-width="1.0"/>
<line x1="96.75" y1="192.72" x2="99.07" y2="192.72" stroke="#cc4656" stroke-width="1.0"/>
<line x1="100.02" y1="192.72" x2="102.34" y2="192.72" stroke="#cc4656" stroke-width="1.0"/>
<line x1="103.29" y1="192.72" x2="105.61" y2="192.72" stroke="#cc4656" stroke-width="1.0"/>
<text x="31.00 34.27 37.54 40.81 44.08 47.35" y="194.42" font-size="5.6" fill="#111" font-family='"Liberation Mono", monospace' font-weight="bold" stroke="#111" stroke-width="0.15">CCACCG</text>
<line x1="31.00" y1="194.62" x2="40.81" y2="194.62" stroke="#555" stroke-width="0.55"/>
<rect x="107.10" y="193.42" width="0.8" height="0.8" fill="#555"/>
<rect x="108.10" y="193.42" width="0.8" height="0.8" fill="#555"/>
<rect x="109.10" y="193.42" width="0.8" height="0.8" fill="#555"/>
<text x="110.20 113.47 116.74 120.01 123.28 126.55 129.82 133.09 136.36 139.63 142.90 146.17 149.44 152.71 155.98 159.25 162.52 165.79 169.06 172.33 175.60 178.87 182.14" y="194.42" font-size="5.6" fill="#111" font-family='"Liberation Mono", monospace' font-weight="bold" stroke="#111" stroke-width="0.15">CTACCCAAATATGGGAGGCGTGG</text>
<line x1="175.60" y1="194.62" x2="185.41" y2="194.62" stroke="#555" stroke-width="0.55"/>
<rect x="185.65" y="193.42" width="0.8" height="0.8" fill="#555"/>
<rect x="186.95" y="193.42" width="0.8" height="0.8" fill="#555"/>
<rect x="188.25" y="193.42" width="0.8" height="0.8" fill="#555"/>
<text x="189.50 192.77 196.04 199.31 202.58 205.85 209.12 212.39 215.66 218.93 222.20 225.47 228.74 232.01 235.28 238.55 241.82 245.09 248.36 251.63 254.90 258.17 261.44" y="194.42" font-size="5.6" fill="#111" font-family='"Liberation Mono", monospace' font-weight="bold" stroke="#111" stroke-width="0.15">CCGTTACCTCACTAATGGCCTCA</text>
<line x1="189.50" y1="194.62" x2="199.31" y2="194.62" stroke="#555" stroke-width="0.55"/>
<line x1="50.97" y1="203.78" x2="53.29" y2="203.78" stroke="#cc4656" stroke-width="1.0"/>
<line x1="54.24" y1="203.78" x2="56.56" y2="203.78" stroke="#cc4656" stroke-width="1.0"/>
<line x1="57.51" y1="203.78" x2="59.83" y2="203.78" stroke="#cc4656" stroke-width="1.0"/>
<line x1="60.78" y1="203.78" x2="63.10" y2="203.78" stroke="#cc4656" stroke-width="1.0"/>
<text x="31.00 34.27 37.54 40.81 44.08 47.35 63.70 66.97 70.24 73.51 76.78 80.05 83.32 86.59 89.86 93.13 96.40 99.67 102.94" y="205.47" font-size="5.6" fill="#111" font-family='"Liberation Mono", monospace' font-weight="bold" stroke="#111" stroke-width="0.15">CCACCGTCAGCTACACCCT</text>
<line x1="31.00" y1="205.67" x2="40.81" y2="205.67" stroke="#555" stroke-width="0.55"/>
<rect x="107.10" y="204.47" width="0.8" height="0.8" fill="#555"/>
<rect x="108.10" y="204.47" width="0.8" height="0.8" fill="#555"/>
<rect x="109.10" y="204.47" width="0.8" height="0.8" fill="#555"/>
<text x="110.20 113.47 116.74 120.01 123.28 126.55 129.82 133.09 136.36 139.63 142.90 146.17 149.44 152.71 155.98 159.25 162.52 165.79 169.06 172.33 175.60 178.87 182.14" y="205.47" font-size="5.6" fill="#111" font-family='"Liberation Mono", monospace' font-weight="bold" stroke="#111" stroke-width="0.15">CTACCCAAATATGGGAGGCGTGG</text>
<line x1="175.60" y1="205.67" x2="185.41" y2="205.67" stroke="#555" stroke-width="0.55"/>
<rect x="185.65" y="204.47" width="0.8" height="0.8" fill="#555"/>
<rect x="186.95" y="204.47" width="0.8" height="0.8" fill="#555"/>
<rect x="188.25" y="204.47" width="0.8" height="0.8" fill="#555"/>
<text x="189.50 192.77 196.04 199.31 202.58 205.85 209.12 212.39 215.66 218.93 222.20 225.47 228.74 232.01 235.28 238.55 241.82 245.09 248.36 251.63 254.90 258.17 261.44" y="205.47" font-size="5.6" fill="#111" font-family='"Liberation Mono", monospace' font-weight="bold" stroke="#111" stroke-width="0.15">CCGTTACCTCACTAATGGCCTCA</text>
<line x1="189.50" y1="205.67" x2="199.31" y2="205.67" stroke="#555" stroke-width="0.55"/>
<text x="31.00 34.27 37.54 40.81 44.08 47.35 50.62 53.89 57.16 60.43 63.70 66.97 70.24 73.51 76.78 80.05 83.32 86.59 89.86 93.13 96.40 99.67 102.94" y="216.52" font-size="5.6" fill="#111" font-family='"Liberation Mono", monospace' font-weight="bold" stroke="#111" stroke-width="0.15">CCACCGTGCCTCAGCTACACCCT</text>
<line x1="31.00" y1="216.72" x2="40.81" y2="216.72" stroke="#555" stroke-width="0.55"/>
<rect x="107.10" y="215.52" width="0.8" height="0.8" fill="#555"/>
<rect x="108.10" y="215.52" width="0.8" height="0.8" fill="#555"/>
<rect x="109.10" y="215.52" width="0.8" height="0.8" fill="#555"/>
<text x="110.20 113.47 116.74 120.01 123.28 126.55 129.82 133.09 136.36 139.63 142.90 146.17 149.44 152.71 155.98 159.25 162.52 165.79 169.06 172.33 175.60 178.87 182.14" y="216.52" font-size="5.6" fill="#111" font-family='"Liberation Mono", monospace' font-weight="bold" stroke="#111" stroke-width="0.15">CTACCCAAATATGGGAGGCGTGG</text>
<line x1="175.60" y1="216.72" x2="185.41" y2="216.72" stroke="#555" stroke-width="0.55"/>
<rect x="185.65" y="215.52" width="0.8" height="0.8" fill="#555"/>
<rect x="186.95" y="215.52" width="0.8" height="0.8" fill="#555"/>
<rect x="188.25" y="215.52" width="0.8" height="0.8" fill="#555"/>
<line x1="189.85" y1="214.82" x2="192.17" y2="214.82" stroke="#cc4656" stroke-width="1.0"/>
<line x1="193.12" y1="214.82" x2="195.44" y2="214.82" stroke="#cc4656" stroke-width="1.0"/>
<line x1="196.39" y1="214.82" x2="198.71" y2="214.82" stroke="#cc4656" stroke-width="1.0"/>
<line x1="199.66" y1="214.82" x2="201.98" y2="214.82" stroke="#cc4656" stroke-width="1.0"/>
<line x1="202.93" y1="214.82" x2="205.25" y2="214.82" stroke="#cc4656" stroke-width="1.0"/>
<line x1="206.20" y1="214.82" x2="208.52" y2="214.82" stroke="#cc4656" stroke-width="1.0"/>
<line x1="209.47" y1="214.82" x2="211.79" y2="214.82" stroke="#cc4656" stroke-width="1.0"/>
<line x1="212.74" y1="214.82" x2="215.06" y2="214.82" stroke="#cc4656" stroke-width="1.0"/>
<line x1="216.01" y1="214.82" x2="218.33" y2="214.82" stroke="#cc4656" stroke-width="1.0"/>
<line x1="219.28" y1="214.82" x2="221.60" y2="214.82" stroke="#cc4656" stroke-width="1.0"/>
<line x1="222.55" y1="214.82" x2="224.87" y2="214.82" stroke="#cc4656" stroke-width="1.0"/>
<line x1="225.82" y1="214.82" x2="228.14" y2="214.82" stroke="#cc4656" stroke-width="1.0"/>
<line x1="229.09" y1="214.82" x2="231.41" y2="214.82" stroke="#cc4656" stroke-width="1.0"/>
<text x="232.01 235.28 238.55 241.82 245.09 248.36 251.63 254.90 258.17 261.44" y="216.52" font-size="5.6" fill="#111" font-family='"Liberation Mono", monospace' font-weight="bold" stroke="#111" stroke-width="0.15">AATGGCCTCA</text>
<line x1="47.70" y1="225.88" x2="50.02" y2="225.88" stroke="#cc4656" stroke-width="1.0"/>
<text x="31.00 34.27 37.54 40.81 44.08 50.62 53.89 57.16 60.43 63.70 66.97 70.24 73.51 76.78 80.05 83.32 86.59 89.86 93.13 96.40 99.67 102.94" y="227.57" font-size="5.6" fill="#111" font-family='"Liberation Mono", monospace' font-weight="bold" stroke="#111" stroke-width="0.15">CCACCTGCCTCAGCTACACCCT</text>
<line x1="31.00" y1="227.77" x2="40.81" y2="227.77" stroke="#555" stroke-width="0.55"/>
<rect x="107.10" y="226.57" width="0.8" height="0.8" fill="#555"/>
<rect x="108.10" y="226.57" width="0.8" height="0.8" fill="#555"/>
<rect x="109.10" y="226.57" width="0.8" height="0.8" fill="#555"/>
<text x="110.20 113.47 116.74 120.01 123.28 126.55 129.82 133.09 136.36 139.63 142.90 146.17 149.44 152.71 155.98 159.25 162.52 165.79 169.06 172.33 175.60 178.87 182.14" y="227.57" font-size="5.6" fill="#111" font-family='"Liberation Mono", monospace' font-weight="bold" stroke="#111" stroke-width="0.15">CTACCCAAATATGGGAGGCGTGG</text>
<line x1="175.60" y1="227.77" x2="185.41" y2="227.77" stroke="#555" stroke-width="0.55"/>
<rect x="185.65" y="226.57" width="0.8" height="0.8" fill="#555"/>
<rect x="186.95" y="226.57" width="0.8" height="0.8" fill="#555"/>
<rect x="188.25" y="226.57" width="0.8" height="0.8" fill="#555"/>
<text x="189.50 192.77 196.04 199.31 202.58 205.85 209.12 212.39 215.66 218.93 222.20 225.47 228.74 232.01 235.28 238.55 241.82 245.09 248.36 251.63 254.90 258.17 261.44" y="227.57" font-size="5.6" fill="#111" font-family='"Liberation Mono", monospace' font-weight="bold" stroke="#111" stroke-width="0.15">CCGTTACCTCACTAATGGCCTCA</text>
<line x1="189.50" y1="227.77" x2="199.31" y2="227.77" stroke="#555" stroke-width="0.55"/>
<line x1="57.51" y1="236.93" x2="59.83" y2="236.93" stroke="#cc4656" stroke-width="1.0"/>
<line x1="60.78" y1="236.93" x2="63.10" y2="236.93" stroke="#cc4656" stroke-width="1.0"/>
<text x="31.00 34.27 37.54 40.81 44.08 47.35 50.62 53.89 63.70" y="238.62" font-size="5.6" fill="#111" font-family='"Liberation Mono", monospace' font-weight="bold" stroke="#111" stroke-width="0.15">CCACCGTGT</text>
<text x="66.97" y="238.62" font-size="5.6" fill="#c8323c" font-family='"Liberation Mono", monospace' font-weight="bold" stroke="#c8323c" stroke-width="0.15">C</text>
<text x="70.24 73.51" y="238.62" font-size="5.6" fill="#111" font-family='"Liberation Mono", monospace' font-weight="bold" stroke="#111" stroke-width="0.15">AG</text>
<text x="76.78" y="238.62" font-size="5.6" fill="#c8323c" font-family='"Liberation Mono", monospace' font-weight="bold" stroke="#c8323c" stroke-width="0.15">G</text>
<text x="80.05 83.32 86.59 89.86 93.13 96.40 99.67 102.94" y="238.62" font-size="5.6" fill="#111" font-family='"Liberation Mono", monospace' font-weight="bold" stroke="#111" stroke-width="0.15">CTACACCC</text>
<line x1="31.00" y1="238.82" x2="40.81" y2="238.82" stroke="#555" stroke-width="0.55"/>
<rect x="107.10" y="237.62" width="0.8" height="0.8" fill="#555"/>
<rect x="108.10" y="237.62" width="0.8" height="0.8" fill="#555"/>
<rect x="109.10" y="237.62" width="0.8" height="0.8" fill="#555"/>
<text x="110.20 113.47 116.74 120.01 123.28 126.55 129.82 133.09 136.36 139.63 142.90 146.17 149.44 152.71 155.98 159.25 162.52 165.79 169.06 172.33 175.60 178.87 182.14" y="238.62" font-size="5.6" fill="#111" font-family='"Liberation Mono", monospace' font-weight="bold" stroke="#111" stroke-width="0.15">CTACCCAAATATGGGAGGCGTGG</text>
<line x1="175.60" y1="238.82" x2="185.41" y2="238.82" stroke="#555" stroke-width="0.55"/>
<rect x="185.65" y="237.62" width="0.8" height="0.8" fill="#555"/>
<rect x="186.95" y="237.62" width="0.8" height="0.8" fill="#555"/>
<rect x="188.25" y="237.62" width="0.8" height="0.8" fill="#555"/>
<text x="189.50 192.77 196.04 199.31 202.58 205.85 209.12 212.39 215.66 218.93 222.20 225.47 228.74 232.01 235.28 238.55 241.82 245.09 248.36 251.63 254.90 258.17 261.44" y="238.62" font-size="5.6" fill="#111" font-family='"Liberation Mono", monospace' font-weight="bold" stroke="#111" stroke-width="0.15">CCGTTACCTCACTAATGGCCTCA</text>
<line x1="189.50" y1="238.82" x2="199.31" y2="238.82" stroke="#555" stroke-width="0.55"/>
<text x="31.00 34.27 37.54 40.81 44.08 47.35 50.62 53.89 57.16 60.43 63.70 66.97 70.24 73.51 76.78 80.05 83.32 86.59 89.86 93.13 96.40 99.67 102.94" y="249.67" font-size="5.6" fill="#111" font-family='"Liberation Mono", monospace' font-weight="bold" stroke="#111" stroke-width="0.15">CCACCGTGCCTCAGCTACACCCT</text>
<line x1="31.00" y1="249.87" x2="40.81" y2="249.87" stroke="#555" stroke-width="0.55"/>
<rect x="107.10" y="248.67" width="0.8" height="0.8" fill="#555"/>
<rect x="108.10" y="248.67" width="0.8" height="0.8" fill="#555"/>
<rect x="109.10" y="248.67" width="0.8" height="0.8" fill="#555"/>
<text x="110.20 113.47 116.74 120.01 123.28 126.55 129.82 133.09 136.36 139.63 142.90 146.17 149.44 152.71 155.98 159.25 162.52 165.79 169.06 172.33 175.60 178.87 182.14" y="249.67" font-size="5.6" fill="#111" font-family='"Liberation Mono", monospace' font-weight="bold" stroke="#111" stroke-width="0.15">CTACCCAAATATGGGAGGCGTGG</text>
<line x1="175.60" y1="249.87" x2="185.41" y2="249.87" stroke="#555" stroke-width="0.55"/>
<rect x="185.65" y="248.67" width="0.8" height="0.8" fill="#555"/>
<rect x="186.95" y="248.67" width="0.8" height="0.8" fill="#555"/>
<rect x="188.25" y="248.67" width="0.8" height="0.8" fill="#555"/>
<line x1="189.85" y1="247.97" x2="192.17" y2="247.97" stroke="#cc4656" stroke-width="1.0"/>
<line x1="193.12" y1="247.97" x2="195.44" y2="247.97" stroke="#cc4656" stroke-width="1.0"/>
<line x1="196.39" y1="247.97" x2="198.71" y2="247.97" stroke="#cc4656" stroke-width="1.0"/>
<line x1="199.66" y1="247.97" x2="201.98" y2="247.97" stroke="#cc4656" stroke-width="1.0"/>
<line x1="202.93" y1="247.97" x2="205.25" y2="247.97" stroke="#cc4656" stroke-width="1.0"/>
<line x1="206.20" y1="247.97" x2="208.52" y2="247.97" stroke="#cc4656" stroke-width="1.0"/>
<line x1="209.47" y1="247.97" x2="211.79" y2="247.97" stroke="#cc4656" stroke-width="1.0"/>
<line x1="212.74" y1="247.97" x2="215.06" y2="247.97" stroke="#cc4656" stroke-width="1.0"/>
<line x1="216.01" y1="247.97" x2="218.33" y2="247.97" stroke="#cc4656" stroke-width="1.0"/>
<line x1="219.28" y1="247.97" x2="221.60" y2="247.97" stroke="#cc4656" stroke-width="1.0"/>
<text x="222.20 225.47 228.74 232.01 235.28 238.55 241.82 245.09 248.36 251.63 254.90 258.17 261.44" y="249.67" font-size="5.6" fill="#111" font-family='"Liberation Mono", monospace' font-weight="bold" stroke="#111" stroke-width="0.15">ACTAATGGCCTCA</text>
<line x1="57.51" y1="259.02" x2="59.83" y2="259.02" stroke="#cc4656" stroke-width="1.0"/>
<text x="31.00 34.27 37.54 40.81 44.08 47.35 50.62 53.89 60.43 63.70 66.97 70.24 73.51 76.78 80.05 83.32 86.59 89.86 93.13 96.40 99.67 102.94" y="260.72" font-size="5.6" fill="#111" font-family='"Liberation Mono", monospace' font-weight="bold" stroke="#111" stroke-width="0.15">CCACCGTGCTCAGCTACACCCT</text>
<line x1="31.00" y1="260.92" x2="40.81" y2="260.92" stroke="#555" stroke-width="0.55"/>
<rect x="107.10" y="259.72" width="0.8" height="0.8" fill="#555"/>
<rect x="108.10" y="259.72" width="0.8" height="0.8" fill="#555"/>
<rect x="109.10" y="259.72" width="0.8" height="0.8" fill="#555"/>
<text x="110.20 113.47 116.74 120.01 123.28 126.55 129.82 133.09 136.36 139.63 142.90 146.17 149.44 152.71 155.98 159.25 162.52 165.79 169.06 172.33 175.60 178.87 182.14" y="260.72" font-size="5.6" fill="#111" font-family='"Liberation Mono", monospace' font-weight="bold" stroke="#111" stroke-width="0.15">CTACCCAAATATGGGAGGCGTGG</text>
<line x1="175.60" y1="260.92" x2="185.41" y2="260.92" stroke="#555" stroke-width="0.55"/>
<rect x="185.65" y="259.72" width="0.8" height="0.8" fill="#555"/>
<rect x="186.95" y="259.72" width="0.8" height="0.8" fill="#555"/>
<rect x="188.25" y="259.72" width="0.8" height="0.8" fill="#555"/>
<text x="189.50 192.77 196.04 199.31 202.58 205.85 209.12 212.39 215.66 218.93 222.20 225.47 228.74 232.01 235.28 238.55 241.82 245.09 248.36 251.63 254.90 258.17 261.44" y="260.72" font-size="5.6" fill="#111" font-family='"Liberation Mono", monospace' font-weight="bold" stroke="#111" stroke-width="0.15">CCGTTACCTCACTAATGGCCTCA</text>
<line x1="189.50" y1="260.92" x2="199.31" y2="260.92" stroke="#555" stroke-width="0.55"/>
<text x="31.00 34.27 37.54 40.81 44.08 47.35 50.62 53.89 57.16 60.43 63.70 66.97 70.24 73.51 76.78 80.05 83.32 86.59 89.86 93.13 96.40 99.67 102.94" y="271.77" font-size="5.6" fill="#111" font-family='"Liberation Mono", monospace' font-weight="bold" stroke="#111" stroke-width="0.15">CCACCGTGCCTCAGCTACACCCT</text>
<line x1="31.00" y1="271.97" x2="40.81" y2="271.97" stroke="#555" stroke-width="0.55"/>
<rect x="107.10" y="270.77" width="0.8" height="0.8" fill="#555"/>
<rect x="108.10" y="270.77" width="0.8" height="0.8" fill="#555"/>
<rect x="109.10" y="270.77" width="0.8" height="0.8" fill="#555"/>
<text x="110.20 113.47 116.74 120.01 123.28 126.55 129.82 133.09 136.36 139.63 142.90 146.17 149.44 152.71 155.98 159.25 162.52 165.79 169.06 172.33 175.60 178.87 182.14" y="271.77" font-size="5.6" fill="#111" font-family='"Liberation Mono", monospace' font-weight="bold" stroke="#111" stroke-width="0.15">CTACCCAAATATGGGAGGCGTGG</text>
<line x1="175.60" y1="271.97" x2="185.41" y2="271.97" stroke="#555" stroke-width="0.55"/>
<rect x="185.65" y="270.77" width="0.8" height="0.8" fill="#555"/>
<rect x="186.95" y="270.77" width="0.8" height="0.8" fill="#555"/>
<rect x="188.25" y="270.77" width="0.8" height="0.8" fill="#555"/>
<line x1="209.47" y1="270.07" x2="211.79" y2="270.07" stroke="#cc4656" stroke-width="1.0"/>
<line x1="212.74" y1="270.07" x2="215.06" y2="270.07" stroke="#cc4656" stroke-width="1.0"/>
<text x="189.50 192.77 196.04 199.31 202.58 205.85 215.66 218.93 222.20 225.47 228.74 232.01 235.28 238.55 241.82 245.09 248.36 251.63 254.90 258.17 261.44" y="271.77" font-size="5.6" fill="#111" font-family='"Liberation Mono", monospace' font-weight="bold" stroke="#111" stroke-width="0.15">CCGTTATCACTAATGGCCTCA</text>
<line x1="189.50" y1="271.97" x2="199.31" y2="271.97" stroke="#555" stroke-width="0.55"/>
<text x="31.00 34.27 37.54 40.81 44.08 47.35 50.62 53.89 57.16 60.43 63.70 66.97 70.24 73.51 76.78 80.05 83.32 86.59 89.86 93.13 96.40 99.67 102.94" y="282.82" font-size="5.6" fill="#111" font-family='"Liberation Mono", monospace' font-weight="bold" stroke="#111" stroke-width="0.15">CCACCGTGCCTCAGCTACACCCT</text>
<line x1="31.00" y1="283.02" x2="40.81" y2="283.02" stroke="#555" stroke-width="0.55"/>
<rect x="107.10" y="281.82" width="0.8" height="0.8" fill="#555"/>
<rect x="108.10" y="281.82" width="0.8" height="0.8" fill="#555"/>
<rect x="109.10" y="281.82" width="0.8" height="0.8" fill="#555"/>
<text x="110.20 113.47 116.74 120.01 123.28 126.55 129.82 133.09 136.36 139.63 142.90 146.17 149.44 152.71 155.98 159.25 162.52 165.79 169.06 172.33 175.60 178.87 182.14" y="282.82" font-size="5.6" fill="#111" font-family='"Liberation Mono", monospace' font-weight="bold" stroke="#111" stroke-width="0.15">CTACCCAAATATGGGAGGCGTGG</text>
<line x1="175.60" y1="283.02" x2="185.41" y2="283.02" stroke="#555" stroke-width="0.55"/>
<rect x="185.65" y="281.82" width="0.8" height="0.8" fill="#555"/>
<rect x="186.95" y="281.82" width="0.8" height="0.8" fill="#555"/>
<rect x="188.25" y="281.82" width="0.8" height="0.8" fill="#555"/>
<line x1="206.20" y1="281.12" x2="208.52" y2="281.12" stroke="#cc4656" stroke-width="1.0"/>
<text x="189.50 192.77 196.04 199.31 202.58 209.12 212.39 215.66 218.93 222.20 225.47 228.74 232.01 235.28 238.55 241.82 245.09 248.36 251.63 254.90 258.17 261.44" y="282.82" font-size="5.6" fill="#111" font-family='"Liberation Mono", monospace' font-weight="bold" stroke="#111" stroke-width="0.15">CCGTTCCTCACTAATGGCCTCA</text>
<line x1="189.50" y1="283.02" x2="199.31" y2="283.02" stroke="#555" stroke-width="0.55"/>
<text x="31.00 34.27 37.54 40.81 44.08 47.35 50.62 53.89 57.16 60.43 63.70 66.97 70.24 73.51 76.78 80.05 83.32 86.59 89.86 93.13 96.40 99.67 102.94" y="293.88" font-size="5.6" fill="#111" font-family='"Liberation Mono", monospace' font-weight="bold" stroke="#111" stroke-width="0.15">CCACCGTGCCTCAGCTACACCCT</text>
<line x1="31.00" y1="294.07" x2="40.81" y2="294.07" stroke="#555" stroke-width="0.55"/>
<rect x="107.10" y="292.88" width="0.8" height="0.8" fill="#555"/>
<rect x="108.10" y="292.88" width="0.8" height="0.8" fill="#555"/>
<rect x="109.10" y="292.88" width="0.8" height="0.8" fill="#555"/>
<text x="110.20 113.47 116.74 120.01 123.28 126.55 129.82 133.09 136.36 139.63 142.90 146.17 149.44 152.71 155.98 159.25 162.52 165.79 169.06 172.33 175.60 178.87 182.14" y="293.88" font-size="5.6" fill="#111" font-family='"Liberation Mono", monospace' font-weight="bold" stroke="#111" stroke-width="0.15">CTACCCAAATATGGGAGGCGTGG</text>
<line x1="175.60" y1="294.07" x2="185.41" y2="294.07" stroke="#555" stroke-width="0.55"/>
<rect x="185.65" y="292.88" width="0.8" height="0.8" fill="#555"/>
<rect x="186.95" y="292.88" width="0.8" height="0.8" fill="#555"/>
<rect x="188.25" y="292.88" width="0.8" height="0.8" fill="#555"/>
<line x1="209.47" y1="292.18" x2="211.79" y2="292.18" stroke="#cc4656" stroke-width="1.0"/>
<text x="189.50 192.77 196.04 199.31 202.58 205.85 212.39 215.66 218.93 222.20 225.47 228.74 232.01 235.28 238.55 241.82 245.09 248.36 251.63 254.90 258.17 261.44" y="293.88" font-size="5.6" fill="#111" font-family='"Liberation Mono", monospace' font-weight="bold" stroke="#111" stroke-width="0.15">CCGTTACTCACTAATGGCCTCA</text>
<line x1="189.50" y1="294.07" x2="199.31" y2="294.07" stroke="#555" stroke-width="0.55"/>
<text x="31.00 34.27 37.54 40.81 44.08 47.35 50.62 53.89 57.16 60.43 63.70 66.97 70.24 73.51 76.78 80.05 83.32 86.59 89.86 93.13 96.40 99.67 102.94" y="304.92" font-size="5.6" fill="#111" font-family='"Liberation Mono", monospace' font-weight="bold" stroke="#111" stroke-width="0.15">CCACCGTGCCTCAGCTACACCCT</text>
<line x1="31.00" y1="305.12" x2="40.81" y2="305.12" stroke="#555" stroke-width="0.55"/>
<rect x="107.10" y="303.92" width="0.8" height="0.8" fill="#555"/>
<rect x="108.10" y="303.92" width="0.8" height="0.8" fill="#555"/>
<rect x="109.10" y="303.92" width="0.8" height="0.8" fill="#555"/>
<text x="110.20 113.47 116.74 120.01 123.28 126.55 129.82 133.09 136.36 139.63 142.90 146.17 149.44 152.71 155.98 159.25 162.52 165.79 169.06 172.33 175.60 178.87 182.14" y="304.92" font-size="5.6" fill="#111" font-family='"Liberation Mono", monospace' font-weight="bold" stroke="#111" stroke-width="0.15">CTACCCAAATATGGGAGGCGTGG</text>
<line x1="175.60" y1="305.12" x2="185.41" y2="305.12" stroke="#555" stroke-width="0.55"/>
<rect x="185.65" y="303.92" width="0.8" height="0.8" fill="#555"/>
<rect x="186.95" y="303.92" width="0.8" height="0.8" fill="#555"/>
<rect x="188.25" y="303.92" width="0.8" height="0.8" fill="#555"/>
<text x="189.50 192.77 196.04 199.31 202.58 205.85 209.12 212.39 215.66 218.93 222.20 225.47 228.74 232.01 235.28 238.55 241.82 245.09 248.36 251.63 254.90 258.17 261.44" y="304.92" font-size="5.6" fill="#111" font-family='"Liberation Mono", monospace' font-weight="bold" stroke="#111" stroke-width="0.15">CCGTTACCTCACTAATGGCCTCA</text>
<line x1="189.50" y1="305.12" x2="199.31" y2="305.12" stroke="#555" stroke-width="0.55"/>
<rect x="271.20" y="176.10" width="10.79" height="11.05" fill="#8a9dc8"/>
<rect x="272.10" y="177.00" width="8.99" height="9.25" fill="none" stroke="#ffffff" stroke-opacity="0.22" stroke-width="0.6"/>
<text x="276.59" y="182.56" font-size="2.6" fill="#262626" text-anchor="middle">0%</text>
<rect x="281.99" y="176.10" width="10.79" height="11.05" fill="#8a9dc8"/>
<rect x="282.89" y="177.00" width="8.99" height="9.25" fill="none" stroke="#ffffff" stroke-opacity="0.22" stroke-width="0.6"/>
<text x="287.38" y="182.56" font-size="2.6" fill="#262626" text-anchor="middle">0%</text>
<rect x="292.77" y="176.10" width="10.79" height="11.05" fill="#8a9dc8"/>
<rect x="293.67" y="177.00" width="8.99" height="9.25" fill="none" stroke="#ffffff" stroke-opacity="0.22" stroke-width="0.6"/>
<text x="298.16" y="182.56" font-size="2.6" fill="#262626" text-anchor="middle">0%</text>
<rect x="303.56" y="176.10" width="10.79" height="11.05" fill="#8a9dc8"/>
<rect x="304.46" y="177.00" width="8.99" height="9.25" fill="none" stroke="#ffffff" stroke-opacity="0.22" stroke-width="0.6"/>
<text x="308.95" y="182.56" font-size="2.6" fill="#262626" text-anchor="middle">0%</text>
<rect x="314.34" y="176.10" width="10.79" height="11.05" fill="#8a9dc8"/>
<rect x="315.24" y="177.00" width="8.99" height="9.25" fill="none" stroke="#ffffff" stroke-opacity="0.22" stroke-width="0.6"/>
<text x="319.74" y="182.56" font-size="2.6" fill="#262626" text-anchor="middle">0%</text>
<rect x="325.13" y="176.10" width="10.79" height="11.05" fill="#8a9dc8"/>
<rect x="326.03" y="177.00" width="8.99" height="9.25" fill="none" stroke="#ffffff" stroke-opacity="0.22" stroke-width="0.6"/>
<text x="330.52" y="182.56" font-size="2.6" fill="#262626" text-anchor="middle">0%</text>
<rect x="335.91" y="176.10" width="10.79" height="11.05" fill="#8a9dc8"/>
<rect x="336.81" y="177.00" width="8.99" height="9.25" fill="none" stroke="#ffffff" stroke-opacity="0.22" stroke-width="0.6"/>
<text x="341.31" y="182.56" font-size="2.6" fill="#262626" text-anchor="middle">0%</text>
<rect x="346.70" y="176.10" width="10.79" height="11.05" fill="#8a9dc8"/>
<rect x="347.60" y="177.00" width="8.99" height="9.25" fill="none" stroke="#ffffff" stroke-opacity="0.22" stroke-width="0.6"/>
<text x="352.09" y="182.56" font-size="2.6" fill="#262626" text-anchor="middle">0%</text>
<rect x="357.49" y="176.10" width="10.79" height="11.05" fill="#8a9dc8"/>
<rect x="358.39" y="177.00" width="8.99" height="9.25" fill="none" stroke="#ffffff" stroke-opacity="0.22" stroke-width="0.6"/>
<text x="362.88" y="182.56" font-size="2.6" fill="#262626" text-anchor="middle">0%</text>
<rect x="368.27" y="176.10" width="10.79" height="11.05" fill="#8a9dc8"/>
<rect x="369.17" y="177.00" width="8.99" height="9.25" fill="none" stroke="#ffffff" stroke-opacity="0.22" stroke-width="0.6"/>
<text x="373.66" y="182.56" font-size="2.6" fill="#262626" text-anchor="middle">0%</text>
<rect x="379.06" y="176.10" width="10.79" height="11.05" fill="#8a9dc8"/>
<rect x="379.96" y="177.00" width="8.99" height="9.25" fill="none" stroke="#ffffff" stroke-opacity="0.22" stroke-width="0.6"/>
<text x="384.45" y="182.56" font-size="2.6" fill="#262626" text-anchor="middle">0%</text>
<rect x="389.84" y="176.10" width="10.79" height="11.05" fill="#8a9dc8"/>
<rect x="390.74" y="177.00" width="8.99" height="9.25" fill="none" stroke="#ffffff" stroke-opacity="0.22" stroke-width="0.6"/>
<text x="395.24" y="182.56" font-size="2.6" fill="#262626" text-anchor="middle">0%</text>
<rect x="400.63" y="176.10" width="10.79" height="11.05" fill="#d2deea"/>
<rect x="401.53" y="177.00" width="8.99" height="9.25" fill="none" stroke="#ffffff" stroke-opacity="0.22" stroke-width="0.6"/>
<text x="406.02" y="182.56" font-size="2.6" fill="#262626" text-anchor="middle">0.17%</text>
<rect x="411.41" y="176.10" width="10.79" height="11.05" fill="#b4c4df"/>
<rect x="412.31" y="177.00" width="8.99" height="9.25" fill="none" stroke="#ffffff" stroke-opacity="0.22" stroke-width="0.6"/>
<text x="416.81" y="182.56" font-size="2.6" fill="#262626" text-anchor="middle">0.03%</text>
<rect x="422.20" y="176.10" width="10.79" height="11.05" fill="#eeeacf"/>
<rect x="423.10" y="177.00" width="8.99" height="9.25" fill="none" stroke="#ffffff" stroke-opacity="0.22" stroke-width="0.6"/>
<text x="427.59" y="182.56" font-size="2.6" fill="#262626" text-anchor="middle">0.18%</text>
<rect x="432.99" y="176.10" width="10.79" height="11.05" fill="#dfe5e0"/>
<rect x="433.89" y="177.00" width="8.99" height="9.25" fill="none" stroke="#ffffff" stroke-opacity="0.22" stroke-width="0.6"/>
<text x="438.38" y="182.56" font-size="2.6" fill="#262626" text-anchor="middle">0.28%</text>
<rect x="443.77" y="176.10" width="10.79" height="11.05" fill="#c1d1e6"/>
<rect x="444.67" y="177.00" width="8.99" height="9.25" fill="none" stroke="#ffffff" stroke-opacity="0.22" stroke-width="0.6"/>
<text x="449.16" y="182.56" font-size="2.6" fill="#262626" text-anchor="middle">0.07%</text>
<rect x="454.56" y="176.10" width="10.79" height="11.05" fill="#8a9dc8"/>
<rect x="455.46" y="177.00" width="8.99" height="9.25" fill="none" stroke="#ffffff" stroke-opacity="0.22" stroke-width="0.6"/>
<text x="459.95" y="182.56" font-size="2.6" fill="#262626" text-anchor="middle">0%</text>
<rect x="465.34" y="176.10" width="10.79" height="11.05" fill="#e4e6db"/>
<rect x="466.24" y="177.00" width="8.99" height="9.25" fill="none" stroke="#ffffff" stroke-opacity="0.22" stroke-width="0.6"/>
<text x="470.74" y="182.56" font-size="2.6" fill="#262626" text-anchor="middle">0.33%</text>
<rect x="476.13" y="176.10" width="10.79" height="11.05" fill="#c4d3e6"/>
<rect x="477.03" y="177.00" width="8.99" height="9.25" fill="none" stroke="#ffffff" stroke-opacity="0.22" stroke-width="0.6"/>
<text x="481.52" y="182.56" font-size="2.6" fill="#262626" text-anchor="middle">0.08%</text>
<rect x="486.91" y="176.10" width="10.79" height="11.05" fill="#d3dfea"/>
<rect x="487.81" y="177.00" width="8.99" height="9.25" fill="none" stroke="#ffffff" stroke-opacity="0.22" stroke-width="0.6"/>
<text x="492.31" y="182.56" font-size="2.6" fill="#262626" text-anchor="middle">0.18%</text>
<rect x="271.20" y="187.15" width="10.79" height="11.05" fill="#8a9dc8"/>
<rect x="272.10" y="188.05" width="8.99" height="9.25" fill="none" stroke="#ffffff" stroke-opacity="0.22" stroke-width="0.6"/>
<text x="276.59" y="193.61" font-size="2.6" fill="#262626" text-anchor="middle">0%</text>
<rect x="281.99" y="187.15" width="10.79" height="11.05" fill="#8a9dc8"/>
<rect x="282.89" y="188.05" width="8.99" height="9.25" fill="none" stroke="#ffffff" stroke-opacity="0.22" stroke-width="0.6"/>
<text x="287.38" y="193.61" font-size="2.6" fill="#262626" text-anchor="middle">0%</text>
<rect x="292.77" y="187.15" width="10.79" height="11.05" fill="#8a9dc8"/>
<rect x="293.67" y="188.05" width="8.99" height="9.25" fill="none" stroke="#ffffff" stroke-opacity="0.22" stroke-width="0.6"/>
<text x="298.16" y="193.61" font-size="2.6" fill="#262626" text-anchor="middle">0%</text>
<rect x="303.56" y="187.15" width="10.79" height="11.05" fill="#98aad1"/>
<rect x="304.46" y="188.05" width="8.99" height="9.25" fill="none" stroke="#ffffff" stroke-opacity="0.22" stroke-width="0.6"/>
<text x="308.95" y="193.61" font-size="2.6" fill="#262626" text-anchor="middle">0.01%</text>
<rect x="314.34" y="187.15" width="10.79" height="11.05" fill="#8a9dc8"/>
<rect x="315.24" y="188.05" width="8.99" height="9.25" fill="none" stroke="#ffffff" stroke-opacity="0.22" stroke-width="0.6"/>
<text x="319.74" y="193.61" font-size="2.6" fill="#262626" text-anchor="middle">0%</text>
<rect x="325.13" y="187.15" width="10.79" height="11.05" fill="#8a9dc8"/>
<rect x="326.03" y="188.05" width="8.99" height="9.25" fill="none" stroke="#ffffff" stroke-opacity="0.22" stroke-width="0.6"/>
<text x="330.52" y="193.61" font-size="2.6" fill="#262626" text-anchor="middle">0%</text>
<rect x="335.91" y="187.15" width="10.79" height="11.05" fill="#8a9dc8"/>
<rect x="336.81" y="188.05" width="8.99" height="9.25" fill="none" stroke="#ffffff" stroke-opacity="0.22" stroke-width="0.6"/>
<text x="341.31" y="193.61" font-size="2.6" fill="#262626" text-anchor="middle">0%</text>
<rect x="346.70" y="187.15" width="10.79" height="11.05" fill="#98aad1"/>
<rect x="347.60" y="188.05" width="8.99" height="9.25" fill="none" stroke="#ffffff" stroke-opacity="0.22" stroke-width="0.6"/>
<text x="352.09" y="193.61" font-size="2.6" fill="#262626" text-anchor="middle">0.01%</text>
<rect x="357.49" y="187.15" width="10.79" height="11.05" fill="#8a9dc8"/>
<rect x="358.39" y="188.05" width="8.99" height="9.25" fill="none" stroke="#ffffff" stroke-opacity="0.22" stroke-width="0.6"/>
<text x="362.88" y="193.61" font-size="2.6" fill="#262626" text-anchor="middle">0%</text>
<rect x="368.27" y="187.15" width="10.79" height="11.05" fill="#8a9dc8"/>
<rect x="369.17" y="188.05" width="8.99" height="9.25" fill="none" stroke="#ffffff" stroke-opacity="0.22" stroke-width="0.6"/>
<text x="373.66" y="193.61" font-size="2.6" fill="#262626" text-anchor="middle">0%</text>
<rect x="379.06" y="187.15" width="10.79" height="11.05" fill="#8a9dc8"/>
<rect x="379.96" y="188.05" width="8.99" height="9.25" fill="none" stroke="#ffffff" stroke-opacity="0.22" stroke-width="0.6"/>
<text x="384.45" y="193.61" font-size="2.6" fill="#262626" text-anchor="middle">0%</text>
<rect x="389.84" y="187.15" width="10.79" height="11.05" fill="#8a9dc8"/>
<rect x="390.74" y="188.05" width="8.99" height="9.25" fill="none" stroke="#ffffff" stroke-opacity="0.22" stroke-width="0.6"/>
<text x="395.24" y="193.61" font-size="2.6" fill="#262626" text-anchor="middle">0%</text>
<rect x="400.63" y="187.15" width="10.79" height="11.05" fill="#c9d8e8"/>
<rect x="401.53" y="188.05" width="8.99" height="9.25" fill="none" stroke="#ffffff" stroke-opacity="0.22" stroke-width="0.6"/>
<text x="406.02" y="193.61" font-size="2.6" fill="#262626" text-anchor="middle">0.11%</text>
<rect x="411.41" y="187.15" width="10.79" height="11.05" fill="#d5e1ea"/>
<rect x="412.31" y="188.05" width="8.99" height="9.25" fill="none" stroke="#ffffff" stroke-opacity="0.22" stroke-width="0.6"/>
<text x="416.81" y="193.61" font-size="2.6" fill="#262626" text-anchor="middle">0.2%</text>
<rect x="422.20" y="187.15" width="10.79" height="11.05" fill="#dfe5e0"/>
<rect x="423.10" y="188.05" width="8.99" height="9.25" fill="none" stroke="#ffffff" stroke-opacity="0.22" stroke-width="0.6"/>
<text x="427.59" y="193.61" font-size="2.6" fill="#262626" text-anchor="middle">0.28%</text>
<rect x="432.99" y="187.15" width="10.79" height="11.05" fill="#8a9dc8"/>
<rect x="433.89" y="188.05" width="8.99" height="9.25" fill="none" stroke="#ffffff" stroke-opacity="0.22" stroke-width="0.6"/>
<text x="438.38" y="193.61" font-size="2.6" fill="#262626" text-anchor="middle">0%</text>
<rect x="443.77" y="187.15" width="10.79" height="11.05" fill="#8a9dc8"/>
<rect x="444.67" y="188.05" width="8.99" height="9.25" fill="none" stroke="#ffffff" stroke-opacity="0.22" stroke-width="0.6"/>
<text x="449.16" y="193.61" font-size="2.6" fill="#262626" text-anchor="middle">0%</text>
<rect x="454.56" y="187.15" width="10.79" height="11.05" fill="#f3e9c6"/>
<rect x="455.46" y="188.05" width="8.99" height="9.25" fill="none" stroke="#ffffff" stroke-opacity="0.22" stroke-width="0.6"/>
<text x="459.95" y="193.61" font-size="2.6" fill="#262626" text-anchor="middle">0.65%</text>
<rect x="465.34" y="187.15" width="10.79" height="11.05" fill="#dfe5e0"/>
<rect x="466.24" y="188.05" width="8.99" height="9.25" fill="none" stroke="#ffffff" stroke-opacity="0.22" stroke-width="0.6"/>
<text x="470.74" y="193.61" font-size="2.6" fill="#262626" text-anchor="middle">0.28%</text>
<rect x="476.13" y="187.15" width="10.79" height="11.05" fill="#d3dfea"/>
<rect x="477.03" y="188.05" width="8.99" height="9.25" fill="none" stroke="#ffffff" stroke-opacity="0.22" stroke-width="0.6"/>
<text x="481.52" y="193.61" font-size="2.6" fill="#262626" text-anchor="middle">0.18%</text>
<rect x="486.91" y="187.15" width="10.79" height="11.05" fill="#8a9dc8"/>
<rect x="487.81" y="188.05" width="8.99" height="9.25" fill="none" stroke="#ffffff" stroke-opacity="0.22" stroke-width="0.6"/>
<text x="492.31" y="193.61" font-size="2.6" fill="#262626" text-anchor="middle">0%</text>
<rect x="271.20" y="198.20" width="10.79" height="11.05" fill="#8a9dc8"/>
<rect x="272.10" y="199.10" width="8.99" height="9.25" fill="none" stroke="#ffffff" stroke-opacity="0.22" stroke-width="0.6"/>
<text x="276.59" y="204.66" font-size="2.6" fill="#262626" text-anchor="middle">0%</text>
<rect x="281.99" y="198.20" width="10.79" height="11.05" fill="#8a9dc8"/>
<rect x="282.89" y="199.10" width="8.99" height="9.25" fill="none" stroke="#ffffff" stroke-opacity="0.22" stroke-width="0.6"/>
<text x="287.38" y="204.66" font-size="2.6" fill="#262626" text-anchor="middle">0%</text>
<rect x="292.77" y="198.20" width="10.79" height="11.05" fill="#8a9dc8"/>
<rect x="293.67" y="199.10" width="8.99" height="9.25" fill="none" stroke="#ffffff" stroke-opacity="0.22" stroke-width="0.6"/>
<text x="298.16" y="204.66" font-size="2.6" fill="#262626" text-anchor="middle">0%</text>
<rect x="303.56" y="198.20" width="10.79" height="11.05" fill="#afbfdd"/>
<rect x="304.46" y="199.10" width="8.99" height="9.25" fill="none" stroke="#ffffff" stroke-opacity="0.22" stroke-width="0.6"/>
<text x="308.95" y="204.66" font-size="2.6" fill="#262626" text-anchor="middle">0.03%</text>
<rect x="314.34" y="198.20" width="10.79" height="11.05" fill="#98aad1"/>
<rect x="315.24" y="199.10" width="8.99" height="9.25" fill="none" stroke="#ffffff" stroke-opacity="0.22" stroke-width="0.6"/>
<text x="319.74" y="204.66" font-size="2.6" fill="#262626" text-anchor="middle">0.01%</text>
<rect x="325.13" y="198.20" width="10.79" height="11.05" fill="#98aad1"/>
<rect x="326.03" y="199.10" width="8.99" height="9.25" fill="none" stroke="#ffffff" stroke-opacity="0.22" stroke-width="0.6"/>
<text x="330.52" y="204.66" font-size="2.6" fill="#262626" text-anchor="middle">0.01%</text>
<rect x="335.91" y="198.20" width="10.79" height="11.05" fill="#8a9dc8"/>
<rect x="336.81" y="199.10" width="8.99" height="9.25" fill="none" stroke="#ffffff" stroke-opacity="0.22" stroke-width="0.6"/>
<text x="341.31" y="204.66" font-size="2.6" fill="#262626" text-anchor="middle">0%</text>
<rect x="346.70" y="198.20" width="10.79" height="11.05" fill="#98aad1"/>
<rect x="347.60" y="199.10" width="8.99" height="9.25" fill="none" stroke="#ffffff" stroke-opacity="0.22" stroke-width="0.6"/>
<text x="352.09" y="204.66" font-size="2.6" fill="#262626" text-anchor="middle">0.01%</text>
<rect x="357.49" y="198.20" width="10.79" height="11.05" fill="#afbfdd"/>
<rect x="358.39" y="199.10" width="8.99" height="9.25" fill="none" stroke="#ffffff" stroke-opacity="0.22" stroke-width="0.6"/>
<text x="362.88" y="204.66" font-size="2.6" fill="#262626" text-anchor="middle">0.03%</text>
<rect x="368.27" y="198.20" width="10.79" height="11.05" fill="#8a9dc8"/>
<rect x="369.17" y="199.10" width="8.99" height="9.25" fill="none" stroke="#ffffff" stroke-opacity="0.22" stroke-width="0.6"/>
<text x="373.66" y="204.66" font-size="2.6" fill="#262626" text-anchor="middle">0%</text>
<rect x="379.06" y="198.20" width="10.79" height="11.05" fill="#98aad1"/>
<rect x="379.96" y="199.10" width="8.99" height="9.25" fill="none" stroke="#ffffff" stroke-opacity="0.22" stroke-width="0.6"/>
<text x="384.45" y="204.66" font-size="2.6" fill="#262626" text-anchor="middle">0.01%</text>
<rect x="389.84" y="198.20" width="10.79" height="11.05" fill="#dbe3e4"/>
<rect x="390.74" y="199.10" width="8.99" height="9.25" fill="none" stroke="#ffffff" stroke-opacity="0.22" stroke-width="0.6"/>
<text x="395.24" y="204.66" font-size="2.6" fill="#262626" text-anchor="middle">0.24%</text>
<rect x="400.63" y="198.20" width="10.79" height="11.05" fill="#ece9d2"/>
<rect x="401.53" y="199.10" width="8.99" height="9.25" fill="none" stroke="#ffffff" stroke-opacity="0.22" stroke-width="0.6"/>
<text x="406.02" y="204.66" font-size="2.6" fill="#262626" text-anchor="middle">0.45%</text>
<rect x="411.41" y="198.20" width="10.79" height="11.05" fill="#f8e4b5"/>
<rect x="412.31" y="199.10" width="8.99" height="9.25" fill="none" stroke="#ffffff" stroke-opacity="0.22" stroke-width="0.6"/>
<text x="416.81" y="204.66" font-size="2.6" fill="#262626" text-anchor="middle">1.04%</text>
<rect x="422.20" y="198.20" width="10.79" height="11.05" fill="#f2eaca"/>
<rect x="423.10" y="199.10" width="8.99" height="9.25" fill="none" stroke="#ffffff" stroke-opacity="0.22" stroke-width="0.6"/>
<text x="427.59" y="204.66" font-size="2.6" fill="#262626" text-anchor="middle">0.6%</text>
<rect x="432.99" y="198.20" width="10.79" height="11.05" fill="#eeeacf"/>
<rect x="433.89" y="199.10" width="8.99" height="9.25" fill="none" stroke="#ffffff" stroke-opacity="0.22" stroke-width="0.6"/>
<text x="438.38" y="204.66" font-size="2.6" fill="#262626" text-anchor="middle">0.5%</text>
<rect x="443.77" y="198.20" width="10.79" height="11.05" fill="#f5e8bf"/>
<rect x="444.67" y="199.10" width="8.99" height="9.25" fill="none" stroke="#ffffff" stroke-opacity="0.22" stroke-width="0.6"/>
<text x="449.16" y="204.66" font-size="2.6" fill="#262626" text-anchor="middle">0.78%</text>
<rect x="454.56" y="198.20" width="10.79" height="11.05" fill="#f6dcae"/>
<rect x="455.46" y="199.10" width="8.99" height="9.25" fill="none" stroke="#ffffff" stroke-opacity="0.22" stroke-width="0.6"/>
<text x="459.95" y="204.66" font-size="2.6" fill="#262626" text-anchor="middle">1.3%</text>
<rect x="465.34" y="198.20" width="10.79" height="11.05" fill="#f3eac7"/>
<rect x="466.24" y="199.10" width="8.99" height="9.25" fill="none" stroke="#ffffff" stroke-opacity="0.22" stroke-width="0.6"/>
<text x="470.74" y="204.66" font-size="2.6" fill="#262626" text-anchor="middle">0.64%</text>
<rect x="476.13" y="198.20" width="10.79" height="11.05" fill="#f2eaca"/>
<rect x="477.03" y="199.10" width="8.99" height="9.25" fill="none" stroke="#ffffff" stroke-opacity="0.22" stroke-width="0.6"/>
<text x="481.52" y="204.66" font-size="2.6" fill="#262626" text-anchor="middle">0.6%</text>
<rect x="486.91" y="198.20" width="10.79" height="11.05" fill="#f6daad"/>
<rect x="487.81" y="199.10" width="8.99" height="9.25" fill="none" stroke="#ffffff" stroke-opacity="0.22" stroke-width="0.6"/>
<text x="492.31" y="204.66" font-size="2.6" fill="#262626" text-anchor="middle">1.34%</text>
<rect x="271.20" y="209.25" width="10.79" height="11.05" fill="#8a9dc8"/>
<rect x="272.10" y="210.15" width="8.99" height="9.25" fill="none" stroke="#ffffff" stroke-opacity="0.22" stroke-width="0.6"/>
<text x="276.59" y="215.71" font-size="2.6" fill="#262626" text-anchor="middle">0%</text>
<rect x="281.99" y="209.25" width="10.79" height="11.05" fill="#8a9dc8"/>
<rect x="282.89" y="210.15" width="8.99" height="9.25" fill="none" stroke="#ffffff" stroke-opacity="0.22" stroke-width="0.6"/>
<text x="287.38" y="215.71" font-size="2.6" fill="#262626" text-anchor="middle">0%</text>
<rect x="292.77" y="209.25" width="10.79" height="11.05" fill="#afbfdd"/>
<rect x="293.67" y="210.15" width="8.99" height="9.25" fill="none" stroke="#ffffff" stroke-opacity="0.22" stroke-width="0.6"/>
<text x="298.16" y="215.71" font-size="2.6" fill="#262626" text-anchor="middle">0.03%</text>
<rect x="303.56" y="209.25" width="10.79" height="11.05" fill="#98aad1"/>
<rect x="304.46" y="210.15" width="8.99" height="9.25" fill="none" stroke="#ffffff" stroke-opacity="0.22" stroke-width="0.6"/>
<text x="308.95" y="215.71" font-size="2.6" fill="#262626" text-anchor="middle">0.01%</text>
<rect x="314.34" y="209.25" width="10.79" height="11.05" fill="#98aad1"/>
<rect x="315.24" y="210.15" width="8.99" height="9.25" fill="none" stroke="#ffffff" stroke-opacity="0.22" stroke-width="0.6"/>
<text x="319.74" y="215.71" font-size="2.6" fill="#262626" text-anchor="middle">0.01%</text>
<rect x="325.13" y="209.25" width="10.79" height="11.05" fill="#8a9dc8"/>
<rect x="326.03" y="210.15" width="8.99" height="9.25" fill="none" stroke="#ffffff" stroke-opacity="0.22" stroke-width="0.6"/>
<text x="330.52" y="215.71" font-size="2.6" fill="#262626" text-anchor="middle">0%</text>
<rect x="335.91" y="209.25" width="10.79" height="11.05" fill="#8a9dc8"/>
<rect x="336.81" y="210.15" width="8.99" height="9.25" fill="none" stroke="#ffffff" stroke-opacity="0.22" stroke-width="0.6"/>
<text x="341.31" y="215.71" font-size="2.6" fill="#262626" text-anchor="middle">0%</text>
<rect x="346.70" y="209.25" width="10.79" height="11.05" fill="#98aad1"/>
<rect x="347.60" y="210.15" width="8.99" height="9.25" fill="none" stroke="#ffffff" stroke-opacity="0.22" stroke-width="0.6"/>
<text x="352.09" y="215.71" font-size="2.6" fill="#262626" text-anchor="middle">0.01%</text>
<rect x="357.49" y="209.25" width="10.79" height="11.05" fill="#98aad1"/>
<rect x="358.39" y="210.15" width="8.99" height="9.25" fill="none" stroke="#ffffff" stroke-opacity="0.22" stroke-width="0.6"/>
<text x="362.88" y="215.71" font-size="2.6" fill="#262626" text-anchor="middle">0.01%</text>
<rect x="368.27" y="209.25" width="10.79" height="11.05" fill="#98aad1"/>
<rect x="369.17" y="210.15" width="8.99" height="9.25" fill="none" stroke="#ffffff" stroke-opacity="0.22" stroke-width="0.6"/>
<text x="373.66" y="215.71" font-size="2.6" fill="#262626" text-anchor="middle">0.01%</text>
<rect x="379.06" y="209.25" width="10.79" height="11.05" fill="#8a9dc8"/>
<rect x="379.96" y="210.15" width="8.99" height="9.25" fill="none" stroke="#ffffff" stroke-opacity="0.22" stroke-width="0.6"/>
<text x="384.45" y="215.71" font-size="2.6" fill="#262626" text-anchor="middle">0%</text>
<rect x="389.84" y="209.25" width="10.79" height="11.05" fill="#8a9dc8"/>
<rect x="390.74" y="210.15" width="8.99" height="9.25" fill="none" stroke="#ffffff" stroke-opacity="0.22" stroke-width="0.6"/>
<text x="395.24" y="215.71" font-size="2.6" fill="#262626" text-anchor="middle">0%</text>
<rect x="400.63" y="209.25" width="10.79" height="11.05" fill="#e7e7d8"/>
<rect x="401.53" y="210.15" width="8.99" height="9.25" fill="none" stroke="#ffffff" stroke-opacity="0.22" stroke-width="0.6"/>
<text x="406.02" y="215.71" font-size="2.6" fill="#262626" text-anchor="middle">0.37%</text>
<rect x="411.41" y="209.25" width="10.79" height="11.05" fill="#f4e9c4"/>
<rect x="412.31" y="210.15" width="8.99" height="9.25" fill="none" stroke="#ffffff" stroke-opacity="0.22" stroke-width="0.6"/>
<text x="416.81" y="215.71" font-size="2.6" fill="#262626" text-anchor="middle">0.7%</text>
<rect x="422.20" y="209.25" width="10.79" height="11.05" fill="#edead0"/>
<rect x="423.10" y="210.15" width="8.99" height="9.25" fill="none" stroke="#ffffff" stroke-opacity="0.22" stroke-width="0.6"/>
<text x="427.59" y="215.71" font-size="2.6" fill="#262626" text-anchor="middle">0.48%</text>
<rect x="432.99" y="209.25" width="10.79" height="11.05" fill="#f7e2b3"/>
<rect x="433.89" y="210.15" width="8.99" height="9.25" fill="none" stroke="#ffffff" stroke-opacity="0.22" stroke-width="0.6"/>
<text x="438.38" y="215.71" font-size="2.6" fill="#262626" text-anchor="middle">1.1%</text>
<rect x="443.77" y="209.25" width="10.79" height="11.05" fill="#f1bf96"/>
<rect x="444.67" y="210.15" width="8.99" height="9.25" fill="none" stroke="#ffffff" stroke-opacity="0.22" stroke-width="0.6"/>
<text x="449.16" y="215.71" font-size="2.6" fill="#262626" text-anchor="middle">2.5%</text>
<rect x="454.56" y="209.25" width="10.79" height="11.05" fill="#f5d5a8"/>
<rect x="455.46" y="210.15" width="8.99" height="9.25" fill="none" stroke="#ffffff" stroke-opacity="0.22" stroke-width="0.6"/>
<text x="459.95" y="215.71" font-size="2.6" fill="#262626" text-anchor="middle">1.55%</text>
<rect x="465.34" y="209.25" width="10.79" height="11.05" fill="#f5d5a8"/>
<rect x="466.24" y="210.15" width="8.99" height="9.25" fill="none" stroke="#ffffff" stroke-opacity="0.22" stroke-width="0.6"/>
<text x="470.74" y="215.71" font-size="2.6" fill="#262626" text-anchor="middle">1.55%</text>
<rect x="476.13" y="209.25" width="10.79" height="11.05" fill="#f5e7bf"/>
<rect x="477.03" y="210.15" width="8.99" height="9.25" fill="none" stroke="#ffffff" stroke-opacity="0.22" stroke-width="0.6"/>
<text x="481.52" y="215.71" font-size="2.6" fill="#262626" text-anchor="middle">0.8%</text>
<rect x="486.91" y="209.25" width="10.79" height="11.05" fill="#f3e9c5"/>
<rect x="487.81" y="210.15" width="8.99" height="9.25" fill="none" stroke="#ffffff" stroke-opacity="0.22" stroke-width="0.6"/>
<text x="492.31" y="215.71" font-size="2.6" fill="#262626" text-anchor="middle">0.67%</text>
<rect x="271.20" y="220.30" width="10.79" height="11.05" fill="#8a9dc8"/>
<rect x="272.10" y="221.20" width="8.99" height="9.25" fill="none" stroke="#ffffff" stroke-opacity="0.22" stroke-width="0.6"/>
<text x="276.59" y="226.76" font-size="2.6" fill="#262626" text-anchor="middle">0%</text>
<rect x="281.99" y="220.30" width="10.79" height="11.05" fill="#8a9dc8"/>
<rect x="282.89" y="221.20" width="8.99" height="9.25" fill="none" stroke="#ffffff" stroke-opacity="0.22" stroke-width="0.6"/>
<text x="287.38" y="226.76" font-size="2.6" fill="#262626" text-anchor="middle">0%</text>
<rect x="292.77" y="220.30" width="10.79" height="11.05" fill="#8a9dc8"/>
<rect x="293.67" y="221.20" width="8.99" height="9.25" fill="none" stroke="#ffffff" stroke-opacity="0.22" stroke-width="0.6"/>
<text x="298.16" y="226.76" font-size="2.6" fill="#262626" text-anchor="middle">0%</text>
<rect x="303.56" y="220.30" width="10.79" height="11.05" fill="#8a9dc8"/>
<rect x="304.46" y="221.20" width="8.99" height="9.25" fill="none" stroke="#ffffff" stroke-opacity="0.22" stroke-width="0.6"/>
<text x="308.95" y="226.76" font-size="2.6" fill="#262626" text-anchor="middle">0%</text>
<rect x="314.34" y="220.30" width="10.79" height="11.05" fill="#8a9dc8"/>
<rect x="315.24" y="221.20" width="8.99" height="9.25" fill="none" stroke="#ffffff" stroke-opacity="0.22" stroke-width="0.6"/>
<text x="319.74" y="226.76" font-size="2.6" fill="#262626" text-anchor="middle">0%</text>
<rect x="325.13" y="220.30" width="10.79" height="11.05" fill="#8a9dc8"/>
<rect x="326.03" y="221.20" width="8.99" height="9.25" fill="none" stroke="#ffffff" stroke-opacity="0.22" stroke-width="0.6"/>
<text x="330.52" y="226.76" font-size="2.6" fill="#262626" text-anchor="middle">0%</text>
<rect x="335.91" y="220.30" width="10.79" height="11.05" fill="#98aad1"/>
<rect x="336.81" y="221.20" width="8.99" height="9.25" fill="none" stroke="#ffffff" stroke-opacity="0.22" stroke-width="0.6"/>
<text x="341.31" y="226.76" font-size="2.6" fill="#262626" text-anchor="middle">0.01%</text>
<rect x="346.70" y="220.30" width="10.79" height="11.05" fill="#8a9dc8"/>
<rect x="347.60" y="221.20" width="8.99" height="9.25" fill="none" stroke="#ffffff" stroke-opacity="0.22" stroke-width="0.6"/>
<text x="352.09" y="226.76" font-size="2.6" fill="#262626" text-anchor="middle">0%</text>
<rect x="357.49" y="220.30" width="10.79" height="11.05" fill="#98aad1"/>
<rect x="358.39" y="221.20" width="8.99" height="9.25" fill="none" stroke="#ffffff" stroke-opacity="0.22" stroke-width="0.6"/>
<text x="362.88" y="226.76" font-size="2.6" fill="#262626" text-anchor="middle">0.01%</text>
<rect x="368.27" y="220.30" width="10.79" height="11.05" fill="#98aad1"/>
<rect x="369.17" y="221.20" width="8.99" height="9.25" fill="none" stroke="#ffffff" stroke-opacity="0.22" stroke-width="0.6"/>
<text x="373.66" y="226.76" font-size="2.6" fill="#262626" text-anchor="middle">0.01%</text>
<rect x="379.06" y="220.30" width="10.79" height="11.05" fill="#8a9dc8"/>
<rect x="379.96" y="221.20" width="8.99" height="9.25" fill="none" stroke="#ffffff" stroke-opacity="0.22" stroke-width="0.6"/>
<text x="384.45" y="226.76" font-size="2.6" fill="#262626" text-anchor="middle">0%</text>
<rect x="389.84" y="220.30" width="10.79" height="11.05" fill="#ece9d2"/>
<rect x="390.74" y="221.20" width="8.99" height="9.25" fill="none" stroke="#ffffff" stroke-opacity="0.22" stroke-width="0.6"/>
<text x="395.24" y="226.76" font-size="2.6" fill="#262626" text-anchor="middle">0.45%</text>
<rect x="400.63" y="220.30" width="10.79" height="11.05" fill="#dfe5e0"/>
<rect x="401.53" y="221.20" width="8.99" height="9.25" fill="none" stroke="#ffffff" stroke-opacity="0.22" stroke-width="0.6"/>
<text x="406.02" y="226.76" font-size="2.6" fill="#262626" text-anchor="middle">0.28%</text>
<rect x="411.41" y="220.30" width="10.79" height="11.05" fill="#d9e3e6"/>
<rect x="412.31" y="221.20" width="8.99" height="9.25" fill="none" stroke="#ffffff" stroke-opacity="0.22" stroke-width="0.6"/>
<text x="416.81" y="226.76" font-size="2.6" fill="#262626" text-anchor="middle">0.23%</text>
<rect x="422.20" y="220.30" width="10.79" height="11.05" fill="#eae9d3"/>
<rect x="423.10" y="221.20" width="8.99" height="9.25" fill="none" stroke="#ffffff" stroke-opacity="0.22" stroke-width="0.6"/>
<text x="427.59" y="226.76" font-size="2.6" fill="#262626" text-anchor="middle">0.43%</text>
<rect x="432.99" y="220.30" width="10.79" height="11.05" fill="#f4e8c2"/>
<rect x="433.89" y="221.20" width="8.99" height="9.25" fill="none" stroke="#ffffff" stroke-opacity="0.22" stroke-width="0.6"/>
<text x="438.38" y="226.76" font-size="2.6" fill="#262626" text-anchor="middle">0.74%</text>
<rect x="443.77" y="220.30" width="10.79" height="11.05" fill="#f8e5b6"/>
<rect x="444.67" y="221.20" width="8.99" height="9.25" fill="none" stroke="#ffffff" stroke-opacity="0.22" stroke-width="0.6"/>
<text x="449.16" y="226.76" font-size="2.6" fill="#262626" text-anchor="middle">1%</text>
<rect x="454.56" y="220.30" width="10.79" height="11.05" fill="#eeeacf"/>
<rect x="455.46" y="221.20" width="8.99" height="9.25" fill="none" stroke="#ffffff" stroke-opacity="0.22" stroke-width="0.6"/>
<text x="459.95" y="226.76" font-size="2.6" fill="#262626" text-anchor="middle">0.5%</text>
<rect x="465.34" y="220.30" width="10.79" height="11.05" fill="#cedbe9"/>
<rect x="466.24" y="221.20" width="8.99" height="9.25" fill="none" stroke="#ffffff" stroke-opacity="0.22" stroke-width="0.6"/>
<text x="470.74" y="226.76" font-size="2.6" fill="#262626" text-anchor="middle">0.14%</text>
<rect x="476.13" y="220.30" width="10.79" height="11.05" fill="#dce3e3"/>
<rect x="477.03" y="221.20" width="8.99" height="9.25" fill="none" stroke="#ffffff" stroke-opacity="0.22" stroke-width="0.6"/>
<text x="481.52" y="226.76" font-size="2.6" fill="#262626" text-anchor="middle">0.25%</text>
<rect x="486.91" y="220.30" width="10.79" height="11.05" fill="#e1e5de"/>
<rect x="487.81" y="221.20" width="8.99" height="9.25" fill="none" stroke="#ffffff" stroke-opacity="0.22" stroke-width="0.6"/>
<text x="492.31" y="226.76" font-size="2.6" fill="#262626" text-anchor="middle">0.3%</text>
<rect x="271.20" y="231.35" width="10.79" height="11.05" fill="#98aad1"/>
<rect x="272.10" y="232.25" width="8.99" height="9.25" fill="none" stroke="#ffffff" stroke-opacity="0.22" stroke-width="0.6"/>
<text x="276.59" y="237.81" font-size="2.6" fill="#262626" text-anchor="middle">0.01%</text>
<rect x="281.99" y="231.35" width="10.79" height="11.05" fill="#b9c8e2"/>
<rect x="282.89" y="232.25" width="8.99" height="9.25" fill="none" stroke="#ffffff" stroke-opacity="0.22" stroke-width="0.6"/>
<text x="287.38" y="237.81" font-size="2.6" fill="#262626" text-anchor="middle">0.04%</text>
<rect x="292.77" y="231.35" width="10.79" height="11.05" fill="#8a9dc8"/>
<rect x="293.67" y="232.25" width="8.99" height="9.25" fill="none" stroke="#ffffff" stroke-opacity="0.22" stroke-width="0.6"/>
<text x="298.16" y="237.81" font-size="2.6" fill="#262626" text-anchor="middle">0%</text>
<rect x="303.56" y="231.35" width="10.79" height="11.05" fill="#a9bada"/>
<rect x="304.46" y="232.25" width="8.99" height="9.25" fill="none" stroke="#ffffff" stroke-opacity="0.22" stroke-width="0.6"/>
<text x="308.95" y="237.81" font-size="2.6" fill="#262626" text-anchor="middle">0.02%</text>
<rect x="314.34" y="231.35" width="10.79" height="11.05" fill="#b9c8e2"/>
<rect x="315.24" y="232.25" width="8.99" height="9.25" fill="none" stroke="#ffffff" stroke-opacity="0.22" stroke-width="0.6"/>
<text x="319.74" y="237.81" font-size="2.6" fill="#262626" text-anchor="middle">0.04%</text>
<rect x="325.13" y="231.35" width="10.79" height="11.05" fill="#98aad1"/>
<rect x="326.03" y="232.25" width="8.99" height="9.25" fill="none" stroke="#ffffff" stroke-opacity="0.22" stroke-width="0.6"/>
<text x="330.52" y="237.81" font-size="2.6" fill="#262626" text-anchor="middle">0.01%</text>
<rect x="335.91" y="231.35" width="10.79" height="11.05" fill="#8a9dc8"/>
<rect x="336.81" y="232.25" width="8.99" height="9.25" fill="none" stroke="#ffffff" stroke-opacity="0.22" stroke-width="0.6"/>
<text x="341.31" y="237.81" font-size="2.6" fill="#262626" text-anchor="middle">0%</text>
<rect x="346.70" y="231.35" width="10.79" height="11.05" fill="#98aad1"/>
<rect x="347.60" y="232.25" width="8.99" height="9.25" fill="none" stroke="#ffffff" stroke-opacity="0.22" stroke-width="0.6"/>
<text x="352.09" y="237.81" font-size="2.6" fill="#262626" text-anchor="middle">0.01%</text>
<rect x="357.49" y="231.35" width="10.79" height="11.05" fill="#98aad1"/>
<rect x="358.39" y="232.25" width="8.99" height="9.25" fill="none" stroke="#ffffff" stroke-opacity="0.22" stroke-width="0.6"/>
<text x="362.88" y="237.81" font-size="2.6" fill="#262626" text-anchor="middle">0.01%</text>
<rect x="368.27" y="231.35" width="10.79" height="11.05" fill="#8a9dc8"/>
<rect x="369.17" y="232.25" width="8.99" height="9.25" fill="none" stroke="#ffffff" stroke-opacity="0.22" stroke-width="0.6"/>
<text x="373.66" y="237.81" font-size="2.6" fill="#262626" text-anchor="middle">0%</text>
<rect x="379.06" y="231.35" width="10.79" height="11.05" fill="#98aad1"/>
<rect x="379.96" y="232.25" width="8.99" height="9.25" fill="none" stroke="#ffffff" stroke-opacity="0.22" stroke-width="0.6"/>
<text x="384.45" y="237.81" font-size="2.6" fill="#262626" text-anchor="middle">0.01%</text>
<rect x="389.84" y="231.35" width="10.79" height="11.05" fill="#c7d6e8"/>
<rect x="390.74" y="232.25" width="8.99" height="9.25" fill="none" stroke="#ffffff" stroke-opacity="0.22" stroke-width="0.6"/>
<text x="395.24" y="237.81" font-size="2.6" fill="#262626" text-anchor="middle">0.1%</text>
<rect x="400.63" y="231.35" width="10.79" height="11.05" fill="#f6d9ab"/>
<rect x="401.53" y="232.25" width="8.99" height="9.25" fill="none" stroke="#ffffff" stroke-opacity="0.22" stroke-width="0.6"/>
<text x="406.02" y="237.81" font-size="2.6" fill="#262626" text-anchor="middle">1.4%</text>
<rect x="411.41" y="231.35" width="10.79" height="11.05" fill="#f5d4a7"/>
<rect x="412.31" y="232.25" width="8.99" height="9.25" fill="none" stroke="#ffffff" stroke-opacity="0.22" stroke-width="0.6"/>
<text x="416.81" y="237.81" font-size="2.6" fill="#262626" text-anchor="middle">1.61%</text>
<rect x="422.20" y="231.35" width="10.79" height="11.05" fill="#f2c499"/>
<rect x="423.10" y="232.25" width="8.99" height="9.25" fill="none" stroke="#ffffff" stroke-opacity="0.22" stroke-width="0.6"/>
<text x="427.59" y="237.81" font-size="2.6" fill="#262626" text-anchor="middle">2.3%</text>
<rect x="432.99" y="231.35" width="10.79" height="11.05" fill="#f7e2b3"/>
<rect x="433.89" y="232.25" width="8.99" height="9.25" fill="none" stroke="#ffffff" stroke-opacity="0.22" stroke-width="0.6"/>
<text x="438.38" y="237.81" font-size="2.6" fill="#262626" text-anchor="middle">1.1%</text>
<rect x="443.77" y="231.35" width="10.79" height="11.05" fill="#efb68f"/>
<rect x="444.67" y="232.25" width="8.99" height="9.25" fill="none" stroke="#ffffff" stroke-opacity="0.22" stroke-width="0.6"/>
<text x="449.16" y="237.81" font-size="2.6" fill="#262626" text-anchor="middle">2.9%</text>
<rect x="454.56" y="231.35" width="10.79" height="11.05" fill="#efb890"/>
<rect x="455.46" y="232.25" width="8.99" height="9.25" fill="none" stroke="#ffffff" stroke-opacity="0.22" stroke-width="0.6"/>
<text x="459.95" y="237.81" font-size="2.6" fill="#262626" text-anchor="middle">2.8%</text>
<rect x="465.34" y="231.35" width="10.79" height="11.05" fill="#f5d2a6"/>
<rect x="466.24" y="232.25" width="8.99" height="9.25" fill="none" stroke="#ffffff" stroke-opacity="0.22" stroke-width="0.6"/>
<text x="470.74" y="237.81" font-size="2.6" fill="#262626" text-anchor="middle">1.67%</text>
<rect x="476.13" y="231.35" width="10.79" height="11.05" fill="#f6d8aa"/>
<rect x="477.03" y="232.25" width="8.99" height="9.25" fill="none" stroke="#ffffff" stroke-opacity="0.22" stroke-width="0.6"/>
<text x="481.52" y="237.81" font-size="2.6" fill="#262626" text-anchor="middle">1.45%</text>
<rect x="486.91" y="231.35" width="10.79" height="11.05" fill="#f2c399"/>
<rect x="487.81" y="232.25" width="8.99" height="9.25" fill="none" stroke="#ffffff" stroke-opacity="0.22" stroke-width="0.6"/>
<text x="492.31" y="237.81" font-size="2.6" fill="#262626" text-anchor="middle">2.34%</text>
<rect x="271.20" y="242.40" width="10.79" height="11.05" fill="#98aad1"/>
<rect x="272.10" y="243.30" width="8.99" height="9.25" fill="none" stroke="#ffffff" stroke-opacity="0.22" stroke-width="0.6"/>
<text x="276.59" y="248.86" font-size="2.6" fill="#262626" text-anchor="middle">0.01%</text>
<rect x="281.99" y="242.40" width="10.79" height="11.05" fill="#8a9dc8"/>
<rect x="282.89" y="243.30" width="8.99" height="9.25" fill="none" stroke="#ffffff" stroke-opacity="0.22" stroke-width="0.6"/>
<text x="287.38" y="248.86" font-size="2.6" fill="#262626" text-anchor="middle">0%</text>
<rect x="292.77" y="242.40" width="10.79" height="11.05" fill="#8a9dc8"/>
<rect x="293.67" y="243.30" width="8.99" height="9.25" fill="none" stroke="#ffffff" stroke-opacity="0.22" stroke-width="0.6"/>
<text x="298.16" y="248.86" font-size="2.6" fill="#262626" text-anchor="middle">0%</text>
<rect x="303.56" y="242.40" width="10.79" height="11.05" fill="#8a9dc8"/>
<rect x="304.46" y="243.30" width="8.99" height="9.25" fill="none" stroke="#ffffff" stroke-opacity="0.22" stroke-width="0.6"/>
<text x="308.95" y="248.86" font-size="2.6" fill="#262626" text-anchor="middle">0%</text>
<rect x="314.34" y="242.40" width="10.79" height="11.05" fill="#8a9dc8"/>
<rect x="315.24" y="243.30" width="8.99" height="9.25" fill="none" stroke="#ffffff" stroke-opacity="0.22" stroke-width="0.6"/>
<text x="319.74" y="248.86" font-size="2.6" fill="#262626" text-anchor="middle">0%</text>
<rect x="325.13" y="242.40" width="10.79" height="11.05" fill="#8a9dc8"/>
<rect x="326.03" y="243.30" width="8.99" height="9.25" fill="none" stroke="#ffffff" stroke-opacity="0.22" stroke-width="0.6"/>
<text x="330.52" y="248.86" font-size="2.6" fill="#262626" text-anchor="middle">0%</text>
<rect x="335.91" y="242.40" width="10.79" height="11.05" fill="#98aad1"/>
<rect x="336.81" y="243.30" width="8.99" height="9.25" fill="none" stroke="#ffffff" stroke-opacity="0.22" stroke-width="0.6"/>
<text x="341.31" y="248.86" font-size="2.6" fill="#262626" text-anchor="middle">0.01%</text>
<rect x="346.70" y="242.40" width="10.79" height="11.05" fill="#8a9dc8"/>
<rect x="347.60" y="243.30" width="8.99" height="9.25" fill="none" stroke="#ffffff" stroke-opacity="0.22" stroke-width="0.6"/>
<text x="352.09" y="248.86" font-size="2.6" fill="#262626" text-anchor="middle">0%</text>
<rect x="357.49" y="242.40" width="10.79" height="11.05" fill="#8a9dc8"/>
<rect x="358.39" y="243.30" width="8.99" height="9.25" fill="none" stroke="#ffffff" stroke-opacity="0.22" stroke-width="0.6"/>
<text x="362.88" y="248.86" font-size="2.6" fill="#262626" text-anchor="middle">0%</text>
<rect x="368.27" y="242.40" width="10.79" height="11.05" fill="#98aad1"/>
<rect x="369.17" y="243.30" width="8.99" height="9.25" fill="none" stroke="#ffffff" stroke-opacity="0.22" stroke-width="0.6"/>
<text x="373.66" y="248.86" font-size="2.6" fill="#262626" text-anchor="middle">0.01%</text>
<rect x="379.06" y="242.40" width="10.79" height="11.05" fill="#8a9dc8"/>
<rect x="379.96" y="243.30" width="8.99" height="9.25" fill="none" stroke="#ffffff" stroke-opacity="0.22" stroke-width="0.6"/>
<text x="384.45" y="248.86" font-size="2.6" fill="#262626" text-anchor="middle">0%</text>
<rect x="389.84" y="242.40" width="10.79" height="11.05" fill="#dfe5e0"/>
<rect x="390.74" y="243.30" width="8.99" height="9.25" fill="none" stroke="#ffffff" stroke-opacity="0.22" stroke-width="0.6"/>
<text x="395.24" y="248.86" font-size="2.6" fill="#262626" text-anchor="middle">0.28%</text>
<rect x="400.63" y="242.40" width="10.79" height="11.05" fill="#eae9d3"/>
<rect x="401.53" y="243.30" width="8.99" height="9.25" fill="none" stroke="#ffffff" stroke-opacity="0.22" stroke-width="0.6"/>
<text x="406.02" y="248.86" font-size="2.6" fill="#262626" text-anchor="middle">0.43%</text>
<rect x="411.41" y="242.40" width="10.79" height="11.05" fill="#e1e5de"/>
<rect x="412.31" y="243.30" width="8.99" height="9.25" fill="none" stroke="#ffffff" stroke-opacity="0.22" stroke-width="0.6"/>
<text x="416.81" y="248.86" font-size="2.6" fill="#262626" text-anchor="middle">0.3%</text>
<rect x="422.20" y="242.40" width="10.79" height="11.05" fill="#eeeacf"/>
<rect x="423.10" y="243.30" width="8.99" height="9.25" fill="none" stroke="#ffffff" stroke-opacity="0.22" stroke-width="0.6"/>
<text x="427.59" y="248.86" font-size="2.6" fill="#262626" text-anchor="middle">0.5%</text>
<rect x="432.99" y="242.40" width="10.79" height="11.05" fill="#f3eac7"/>
<rect x="433.89" y="243.30" width="8.99" height="9.25" fill="none" stroke="#ffffff" stroke-opacity="0.22" stroke-width="0.6"/>
<text x="438.38" y="248.86" font-size="2.6" fill="#262626" text-anchor="middle">0.64%</text>
<rect x="443.77" y="242.40" width="10.79" height="11.05" fill="#f3e9c6"/>
<rect x="444.67" y="243.30" width="8.99" height="9.25" fill="none" stroke="#ffffff" stroke-opacity="0.22" stroke-width="0.6"/>
<text x="449.16" y="248.86" font-size="2.6" fill="#262626" text-anchor="middle">0.66%</text>
<rect x="454.56" y="242.40" width="10.79" height="11.05" fill="#f5e8c1"/>
<rect x="455.46" y="243.30" width="8.99" height="9.25" fill="none" stroke="#ffffff" stroke-opacity="0.22" stroke-width="0.6"/>
<text x="459.95" y="248.86" font-size="2.6" fill="#262626" text-anchor="middle">0.75%</text>
<rect x="465.34" y="242.40" width="10.79" height="11.05" fill="#ede9d1"/>
<rect x="466.24" y="243.30" width="8.99" height="9.25" fill="none" stroke="#ffffff" stroke-opacity="0.22" stroke-width="0.6"/>
<text x="470.74" y="248.86" font-size="2.6" fill="#262626" text-anchor="middle">0.47%</text>
<rect x="476.13" y="242.40" width="10.79" height="11.05" fill="#e3e6dc"/>
<rect x="477.03" y="243.30" width="8.99" height="9.25" fill="none" stroke="#ffffff" stroke-opacity="0.22" stroke-width="0.6"/>
<text x="481.52" y="248.86" font-size="2.6" fill="#262626" text-anchor="middle">0.32%</text>
<rect x="486.91" y="242.40" width="10.79" height="11.05" fill="#ece9d2"/>
<rect x="487.81" y="243.30" width="8.99" height="9.25" fill="none" stroke="#ffffff" stroke-opacity="0.22" stroke-width="0.6"/>
<text x="492.31" y="248.86" font-size="2.6" fill="#262626" text-anchor="middle">0.46%</text>
<rect x="271.20" y="253.45" width="10.79" height="11.05" fill="#a9bada"/>
<rect x="272.10" y="254.35" width="8.99" height="9.25" fill="none" stroke="#ffffff" stroke-opacity="0.22" stroke-width="0.6"/>
<text x="276.59" y="259.91" font-size="2.6" fill="#262626" text-anchor="middle">0.02%</text>
<rect x="281.99" y="253.45" width="10.79" height="11.05" fill="#8a9dc8"/>
<rect x="282.89" y="254.35" width="8.99" height="9.25" fill="none" stroke="#ffffff" stroke-opacity="0.22" stroke-width="0.6"/>
<text x="287.38" y="259.91" font-size="2.6" fill="#262626" text-anchor="middle">0%</text>
<rect x="292.77" y="253.45" width="10.79" height="11.05" fill="#8a9dc8"/>
<rect x="293.67" y="254.35" width="8.99" height="9.25" fill="none" stroke="#ffffff" stroke-opacity="0.22" stroke-width="0.6"/>
<text x="298.16" y="259.91" font-size="2.6" fill="#262626" text-anchor="middle">0%</text>
<rect x="303.56" y="253.45" width="10.79" height="11.05" fill="#98aad1"/>
<rect x="304.46" y="254.35" width="8.99" height="9.25" fill="none" stroke="#ffffff" stroke-opacity="0.22" stroke-width="0.6"/>
<text x="308.95" y="259.91" font-size="2.6" fill="#262626" text-anchor="middle">0.01%</text>
<rect x="314.34" y="253.45" width="10.79" height="11.05" fill="#8a9dc8"/>
<rect x="315.24" y="254.35" width="8.99" height="9.25" fill="none" stroke="#ffffff" stroke-opacity="0.22" stroke-width="0.6"/>
<text x="319.74" y="259.91" font-size="2.6" fill="#262626" text-anchor="middle">0%</text>
<rect x="325.13" y="253.45" width="10.79" height="11.05" fill="#8a9dc8"/>
<rect x="326.03" y="254.35" width="8.99" height="9.25" fill="none" stroke="#ffffff" stroke-opacity="0.22" stroke-width="0.6"/>
<text x="330.52" y="259.91" font-size="2.6" fill="#262626" text-anchor="middle">0%</text>
<rect x="335.91" y="253.45" width="10.79" height="11.05" fill="#8a9dc8"/>
<rect x="336.81" y="254.35" width="8.99" height="9.25" fill="none" stroke="#ffffff" stroke-opacity="0.22" stroke-width="0.6"/>
<text x="341.31" y="259.91" font-size="2.6" fill="#262626" text-anchor="middle">0%</text>
<rect x="346.70" y="253.45" width="10.79" height="11.05" fill="#8a9dc8"/>
<rect x="347.60" y="254.35" width="8.99" height="9.25" fill="none" stroke="#ffffff" stroke-opacity="0.22" stroke-width="0.6"/>
<text x="352.09" y="259.91" font-size="2.6" fill="#262626" text-anchor="middle">0%</text>
<rect x="357.49" y="253.45" width="10.79" height="11.05" fill="#8a9dc8"/>
<rect x="358.39" y="254.35" width="8.99" height="9.25" fill="none" stroke="#ffffff" stroke-opacity="0.22" stroke-width="0.6"/>
<text x="362.88" y="259.91" font-size="2.6" fill="#262626" text-anchor="middle">0%</text>
<rect x="368.27" y="253.45" width="10.79" height="11.05" fill="#8a9dc8"/>
<rect x="369.17" y="254.35" width="8.99" height="9.25" fill="none" stroke="#ffffff" stroke-opacity="0.22" stroke-width="0.6"/>
<text x="373.66" y="259.91" font-size="2.6" fill="#262626" text-anchor="middle">0%</text>
<rect x="379.06" y="253.45" width="10.79" height="11.05" fill="#8a9dc8"/>
<rect x="379.96" y="254.35" width="8.99" height="9.25" fill="none" stroke="#ffffff" stroke-opacity="0.22" stroke-width="0.6"/>
<text x="384.45" y="259.91" font-size="2.6" fill="#262626" text-anchor="middle">0%</text>
<rect x="389.84" y="253.45" width="10.79" height="11.05" fill="#f0ebcd"/>
<rect x="390.74" y="254.35" width="8.99" height="9.25" fill="none" stroke="#ffffff" stroke-opacity="0.22" stroke-width="0.6"/>
<text x="395.24" y="259.91" font-size="2.6" fill="#262626" text-anchor="middle">0.55%</text>
<rect x="400.63" y="253.45" width="10.79" height="11.05" fill="#dfe5e0"/>
<rect x="401.53" y="254.35" width="8.99" height="9.25" fill="none" stroke="#ffffff" stroke-opacity="0.22" stroke-width="0.6"/>
<text x="406.02" y="259.91" font-size="2.6" fill="#262626" text-anchor="middle">0.28%</text>
<rect x="411.41" y="253.45" width="10.79" height="11.05" fill="#ece9d2"/>
<rect x="412.31" y="254.35" width="8.99" height="9.25" fill="none" stroke="#ffffff" stroke-opacity="0.22" stroke-width="0.6"/>
<text x="416.81" y="259.91" font-size="2.6" fill="#262626" text-anchor="middle">0.45%</text>
<rect x="422.20" y="253.45" width="10.79" height="11.05" fill="#d4e0ea"/>
<rect x="423.10" y="254.35" width="8.99" height="9.25" fill="none" stroke="#ffffff" stroke-opacity="0.22" stroke-width="0.6"/>
<text x="427.59" y="259.91" font-size="2.6" fill="#262626" text-anchor="middle">0.19%</text>
<rect x="432.99" y="253.45" width="10.79" height="11.05" fill="#edead0"/>
<rect x="433.89" y="254.35" width="8.99" height="9.25" fill="none" stroke="#ffffff" stroke-opacity="0.22" stroke-width="0.6"/>
<text x="438.38" y="259.91" font-size="2.6" fill="#262626" text-anchor="middle">0.48%</text>
<rect x="443.77" y="253.45" width="10.79" height="11.05" fill="#e1e5de"/>
<rect x="444.67" y="254.35" width="8.99" height="9.25" fill="none" stroke="#ffffff" stroke-opacity="0.22" stroke-width="0.6"/>
<text x="449.16" y="259.91" font-size="2.6" fill="#262626" text-anchor="middle">0.3%</text>
<rect x="454.56" y="253.45" width="10.79" height="11.05" fill="#8a9dc8"/>
<rect x="455.46" y="254.35" width="8.99" height="9.25" fill="none" stroke="#ffffff" stroke-opacity="0.22" stroke-width="0.6"/>
<text x="459.95" y="259.91" font-size="2.6" fill="#262626" text-anchor="middle">0%</text>
<rect x="465.34" y="253.45" width="10.79" height="11.05" fill="#d5e1ea"/>
<rect x="466.24" y="254.35" width="8.99" height="9.25" fill="none" stroke="#ffffff" stroke-opacity="0.22" stroke-width="0.6"/>
<text x="470.74" y="259.91" font-size="2.6" fill="#262626" text-anchor="middle">0.2%</text>
<rect x="476.13" y="253.45" width="10.79" height="11.05" fill="#cedbe9"/>
<rect x="477.03" y="254.35" width="8.99" height="9.25" fill="none" stroke="#ffffff" stroke-opacity="0.22" stroke-width="0.6"/>
<text x="481.52" y="259.91" font-size="2.6" fill="#262626" text-anchor="middle">0.14%</text>
<rect x="486.91" y="253.45" width="10.79" height="11.05" fill="#d5e1ea"/>
<rect x="487.81" y="254.35" width="8.99" height="9.25" fill="none" stroke="#ffffff" stroke-opacity="0.22" stroke-width="0.6"/>
<text x="492.31" y="259.91" font-size="2.6" fill="#262626" text-anchor="middle">0.2%</text>
<rect x="271.20" y="264.50" width="10.79" height="11.05" fill="#c1d1e6"/>
<rect x="272.10" y="265.40" width="8.99" height="9.25" fill="none" stroke="#ffffff" stroke-opacity="0.22" stroke-width="0.6"/>
<text x="276.59" y="270.96" font-size="2.6" fill="#262626" text-anchor="middle">0.07%</text>
<rect x="281.99" y="264.50" width="10.79" height="11.05" fill="#b9c8e2"/>
<rect x="282.89" y="265.40" width="8.99" height="9.25" fill="none" stroke="#ffffff" stroke-opacity="0.22" stroke-width="0.6"/>
<text x="287.38" y="270.96" font-size="2.6" fill="#262626" text-anchor="middle">0.04%</text>
<rect x="292.77" y="264.50" width="10.79" height="11.05" fill="#bfcee4"/>
<rect x="293.67" y="265.40" width="8.99" height="9.25" fill="none" stroke="#ffffff" stroke-opacity="0.22" stroke-width="0.6"/>
<text x="298.16" y="270.96" font-size="2.6" fill="#262626" text-anchor="middle">0.06%</text>
<rect x="303.56" y="264.50" width="10.79" height="11.05" fill="#8a9dc8"/>
<rect x="304.46" y="265.40" width="8.99" height="9.25" fill="none" stroke="#ffffff" stroke-opacity="0.22" stroke-width="0.6"/>
<text x="308.95" y="270.96" font-size="2.6" fill="#262626" text-anchor="middle">0%</text>
<rect x="314.34" y="264.50" width="10.79" height="11.05" fill="#98aad1"/>
<rect x="315.24" y="265.40" width="8.99" height="9.25" fill="none" stroke="#ffffff" stroke-opacity="0.22" stroke-width="0.6"/>
<text x="319.74" y="270.96" font-size="2.6" fill="#262626" text-anchor="middle">0.01%</text>
<rect x="325.13" y="264.50" width="10.79" height="11.05" fill="#8a9dc8"/>
<rect x="326.03" y="265.40" width="8.99" height="9.25" fill="none" stroke="#ffffff" stroke-opacity="0.22" stroke-width="0.6"/>
<text x="330.52" y="270.96" font-size="2.6" fill="#262626" text-anchor="middle">0%</text>
<rect x="335.91" y="264.50" width="10.79" height="11.05" fill="#98aad1"/>
<rect x="336.81" y="265.40" width="8.99" height="9.25" fill="none" stroke="#ffffff" stroke-opacity="0.22" stroke-width="0.6"/>
<text x="341.31" y="270.96" font-size="2.6" fill="#262626" text-anchor="middle">0.01%</text>
<rect x="346.70" y="264.50" width="10.79" height="11.05" fill="#98aad1"/>
<rect x="347.60" y="265.40" width="8.99" height="9.25" fill="none" stroke="#ffffff" stroke-opacity="0.22" stroke-width="0.6"/>
<text x="352.09" y="270.96" font-size="2.6" fill="#262626" text-anchor="middle">0.01%</text>
<rect x="357.49" y="264.50" width="10.79" height="11.05" fill="#98aad1"/>
<rect x="358.39" y="265.40" width="8.99" height="9.25" fill="none" stroke="#ffffff" stroke-opacity="0.22" stroke-width="0.6"/>
<text x="362.88" y="270.96" font-size="2.6" fill="#262626" text-anchor="middle">0.01%</text>
<rect x="368.27" y="264.50" width="10.79" height="11.05" fill="#8a9dc8"/>
<rect x="369.17" y="265.40" width="8.99" height="9.25" fill="none" stroke="#ffffff" stroke-opacity="0.22" stroke-width="0.6"/>
<text x="373.66" y="270.96" font-size="2.6" fill="#262626" text-anchor="middle">0%</text>
<rect x="379.06" y="264.50" width="10.79" height="11.05" fill="#8a9dc8"/>
<rect x="379.96" y="265.40" width="8.99" height="9.25" fill="none" stroke="#ffffff" stroke-opacity="0.22" stroke-width="0.6"/>
<text x="384.45" y="270.96" font-size="2.6" fill="#262626" text-anchor="middle">0%</text>
<rect x="389.84" y="264.50" width="10.79" height="11.05" fill="#dbe3e4"/>
<rect x="390.74" y="265.40" width="8.99" height="9.25" fill="none" stroke="#ffffff" stroke-opacity="0.22" stroke-width="0.6"/>
<text x="395.24" y="270.96" font-size="2.6" fill="#262626" text-anchor="middle">0.24%</text>
<rect x="400.63" y="264.50" width="10.79" height="11.05" fill="#f1ebcb"/>
<rect x="401.53" y="265.40" width="8.99" height="9.25" fill="none" stroke="#ffffff" stroke-opacity="0.22" stroke-width="0.6"/>
<text x="406.02" y="270.96" font-size="2.6" fill="#262626" text-anchor="middle">0.57%</text>
<rect x="411.41" y="264.50" width="10.79" height="11.05" fill="#f2eaca"/>
<rect x="412.31" y="265.40" width="8.99" height="9.25" fill="none" stroke="#ffffff" stroke-opacity="0.22" stroke-width="0.6"/>
<text x="416.81" y="270.96" font-size="2.6" fill="#262626" text-anchor="middle">0.6%</text>
<rect x="422.20" y="264.50" width="10.79" height="11.05" fill="#f3e9c6"/>
<rect x="423.10" y="265.40" width="8.99" height="9.25" fill="none" stroke="#ffffff" stroke-opacity="0.22" stroke-width="0.6"/>
<text x="427.59" y="270.96" font-size="2.6" fill="#262626" text-anchor="middle">0.65%</text>
<rect x="432.99" y="264.50" width="10.79" height="11.05" fill="#f3e9c5"/>
<rect x="433.89" y="265.40" width="8.99" height="9.25" fill="none" stroke="#ffffff" stroke-opacity="0.22" stroke-width="0.6"/>
<text x="438.38" y="270.96" font-size="2.6" fill="#262626" text-anchor="middle">0.67%</text>
<rect x="443.77" y="264.50" width="10.79" height="11.05" fill="#f7e2b3"/>
<rect x="444.67" y="265.40" width="8.99" height="9.25" fill="none" stroke="#ffffff" stroke-opacity="0.22" stroke-width="0.6"/>
<text x="449.16" y="270.96" font-size="2.6" fill="#262626" text-anchor="middle">1.1%</text>
<rect x="454.56" y="264.50" width="10.79" height="11.05" fill="#f6daad"/>
<rect x="455.46" y="265.40" width="8.99" height="9.25" fill="none" stroke="#ffffff" stroke-opacity="0.22" stroke-width="0.6"/>
<text x="459.95" y="270.96" font-size="2.6" fill="#262626" text-anchor="middle">1.34%</text>
<rect x="465.34" y="264.50" width="10.79" height="11.05" fill="#f3e9c4"/>
<rect x="466.24" y="265.40" width="8.99" height="9.25" fill="none" stroke="#ffffff" stroke-opacity="0.22" stroke-width="0.6"/>
<text x="470.74" y="270.96" font-size="2.6" fill="#262626" text-anchor="middle">0.69%</text>
<rect x="476.13" y="264.50" width="10.79" height="11.05" fill="#ede9d1"/>
<rect x="477.03" y="265.40" width="8.99" height="9.25" fill="none" stroke="#ffffff" stroke-opacity="0.22" stroke-width="0.6"/>
<text x="481.52" y="270.96" font-size="2.6" fill="#262626" text-anchor="middle">0.47%</text>
<rect x="486.91" y="264.50" width="10.79" height="11.05" fill="#f3eac7"/>
<rect x="487.81" y="265.40" width="8.99" height="9.25" fill="none" stroke="#ffffff" stroke-opacity="0.22" stroke-width="0.6"/>
<text x="492.31" y="270.96" font-size="2.6" fill="#262626" text-anchor="middle">0.64%</text>
<rect x="271.20" y="275.55" width="10.79" height="11.05" fill="#cfdce9"/>
<rect x="272.10" y="276.45" width="8.99" height="9.25" fill="none" stroke="#ffffff" stroke-opacity="0.22" stroke-width="0.6"/>
<text x="276.59" y="282.01" font-size="2.6" fill="#262626" text-anchor="middle">0.15%</text>
<rect x="281.99" y="275.55" width="10.79" height="11.05" fill="#d4e0ea"/>
<rect x="282.89" y="276.45" width="8.99" height="9.25" fill="none" stroke="#ffffff" stroke-opacity="0.22" stroke-width="0.6"/>
<text x="287.38" y="282.01" font-size="2.6" fill="#262626" text-anchor="middle">0.19%</text>
<rect x="292.77" y="275.55" width="10.79" height="11.05" fill="#cfdce9"/>
<rect x="293.67" y="276.45" width="8.99" height="9.25" fill="none" stroke="#ffffff" stroke-opacity="0.22" stroke-width="0.6"/>
<text x="298.16" y="282.01" font-size="2.6" fill="#262626" text-anchor="middle">0.15%</text>
<rect x="303.56" y="275.55" width="10.79" height="11.05" fill="#b9c8e2"/>
<rect x="304.46" y="276.45" width="8.99" height="9.25" fill="none" stroke="#ffffff" stroke-opacity="0.22" stroke-width="0.6"/>
<text x="308.95" y="282.01" font-size="2.6" fill="#262626" text-anchor="middle">0.04%</text>
<rect x="314.34" y="275.55" width="10.79" height="11.05" fill="#b4c4df"/>
<rect x="315.24" y="276.45" width="8.99" height="9.25" fill="none" stroke="#ffffff" stroke-opacity="0.22" stroke-width="0.6"/>
<text x="319.74" y="282.01" font-size="2.6" fill="#262626" text-anchor="middle">0.03%</text>
<rect x="325.13" y="275.55" width="10.79" height="11.05" fill="#a9bada"/>
<rect x="326.03" y="276.45" width="8.99" height="9.25" fill="none" stroke="#ffffff" stroke-opacity="0.22" stroke-width="0.6"/>
<text x="330.52" y="282.01" font-size="2.6" fill="#262626" text-anchor="middle">0.02%</text>
<rect x="335.91" y="275.55" width="10.79" height="11.05" fill="#a9bada"/>
<rect x="336.81" y="276.45" width="8.99" height="9.25" fill="none" stroke="#ffffff" stroke-opacity="0.22" stroke-width="0.6"/>
<text x="341.31" y="282.01" font-size="2.6" fill="#262626" text-anchor="middle">0.02%</text>
<rect x="346.70" y="275.55" width="10.79" height="11.05" fill="#a9bada"/>
<rect x="347.60" y="276.45" width="8.99" height="9.25" fill="none" stroke="#ffffff" stroke-opacity="0.22" stroke-width="0.6"/>
<text x="352.09" y="282.01" font-size="2.6" fill="#262626" text-anchor="middle">0.02%</text>
<rect x="357.49" y="275.55" width="10.79" height="11.05" fill="#b4c4df"/>
<rect x="358.39" y="276.45" width="8.99" height="9.25" fill="none" stroke="#ffffff" stroke-opacity="0.22" stroke-width="0.6"/>
<text x="362.88" y="282.01" font-size="2.6" fill="#262626" text-anchor="middle">0.03%</text>
<rect x="368.27" y="275.55" width="10.79" height="11.05" fill="#b4c4df"/>
<rect x="369.17" y="276.45" width="8.99" height="9.25" fill="none" stroke="#ffffff" stroke-opacity="0.22" stroke-width="0.6"/>
<text x="373.66" y="282.01" font-size="2.6" fill="#262626" text-anchor="middle">0.03%</text>
<rect x="379.06" y="275.55" width="10.79" height="11.05" fill="#a9bada"/>
<rect x="379.96" y="276.45" width="8.99" height="9.25" fill="none" stroke="#ffffff" stroke-opacity="0.22" stroke-width="0.6"/>
<text x="384.45" y="282.01" font-size="2.6" fill="#262626" text-anchor="middle">0.02%</text>
<rect x="389.84" y="275.55" width="10.79" height="11.05" fill="#ecac87"/>
<rect x="390.74" y="276.45" width="8.99" height="9.25" fill="none" stroke="#ffffff" stroke-opacity="0.22" stroke-width="0.6"/>
<text x="395.24" y="282.01" font-size="2.6" fill="#262626" text-anchor="middle">3%</text>
<rect x="400.63" y="275.55" width="10.79" height="11.05" fill="#ecac86"/>
<rect x="401.53" y="276.45" width="8.99" height="9.25" fill="none" stroke="#ffffff" stroke-opacity="0.22" stroke-width="0.6"/>
<text x="406.02" y="282.01" font-size="2.6" fill="#262626" text-anchor="middle">3.07%</text>
<rect x="411.41" y="275.55" width="10.79" height="11.05" fill="#eba783"/>
<rect x="412.31" y="276.45" width="8.99" height="9.25" fill="none" stroke="#ffffff" stroke-opacity="0.22" stroke-width="0.6"/>
<text x="416.81" y="282.01" font-size="2.6" fill="#262626" text-anchor="middle">5.03%</text>
<rect x="422.20" y="275.55" width="10.79" height="11.05" fill="#eba782"/>
<rect x="423.10" y="276.45" width="8.99" height="9.25" fill="none" stroke="#ffffff" stroke-opacity="0.22" stroke-width="0.6"/>
<text x="427.59" y="282.01" font-size="2.6" fill="#262626" text-anchor="middle">5.18%</text>
<rect x="432.99" y="275.55" width="10.79" height="11.05" fill="#ecad87"/>
<rect x="433.89" y="276.45" width="8.99" height="9.25" fill="none" stroke="#ffffff" stroke-opacity="0.22" stroke-width="0.6"/>
<text x="438.38" y="282.01" font-size="2.6" fill="#262626" text-anchor="middle">2.67%</text>
<rect x="443.77" y="275.55" width="10.79" height="11.05" fill="#ecab85"/>
<rect x="444.67" y="276.45" width="8.99" height="9.25" fill="none" stroke="#ffffff" stroke-opacity="0.22" stroke-width="0.6"/>
<text x="449.16" y="282.01" font-size="2.6" fill="#262626" text-anchor="middle">3.6%</text>
<rect x="454.56" y="275.55" width="10.79" height="11.05" fill="#eba783"/>
<rect x="455.46" y="276.45" width="8.99" height="9.25" fill="none" stroke="#ffffff" stroke-opacity="0.22" stroke-width="0.6"/>
<text x="459.95" y="282.01" font-size="2.6" fill="#262626" text-anchor="middle">5.04%</text>
<rect x="465.34" y="275.55" width="10.79" height="11.05" fill="#ecab86"/>
<rect x="466.24" y="276.45" width="8.99" height="9.25" fill="none" stroke="#ffffff" stroke-opacity="0.22" stroke-width="0.6"/>
<text x="470.74" y="282.01" font-size="2.6" fill="#262626" text-anchor="middle">3.4%</text>
<rect x="476.13" y="275.55" width="10.79" height="11.05" fill="#edaf88"/>
<rect x="477.03" y="276.45" width="8.99" height="9.25" fill="none" stroke="#ffffff" stroke-opacity="0.22" stroke-width="0.6"/>
<text x="481.52" y="282.01" font-size="2.6" fill="#262626" text-anchor="middle">2.1%</text>
<rect x="486.91" y="275.55" width="10.79" height="11.05" fill="#ecac86"/>
<rect x="487.81" y="276.45" width="8.99" height="9.25" fill="none" stroke="#ffffff" stroke-opacity="0.22" stroke-width="0.6"/>
<text x="492.31" y="282.01" font-size="2.6" fill="#262626" text-anchor="middle">3.28%</text>
<rect x="271.20" y="286.60" width="10.79" height="11.05" fill="#d5e1ea"/>
<rect x="272.10" y="287.50" width="8.99" height="9.25" fill="none" stroke="#ffffff" stroke-opacity="0.22" stroke-width="0.6"/>
<text x="276.59" y="293.06" font-size="2.6" fill="#262626" text-anchor="middle">0.2%</text>
<rect x="281.99" y="286.60" width="10.79" height="11.05" fill="#d4e0ea"/>
<rect x="282.89" y="287.50" width="8.99" height="9.25" fill="none" stroke="#ffffff" stroke-opacity="0.22" stroke-width="0.6"/>
<text x="287.38" y="293.06" font-size="2.6" fill="#262626" text-anchor="middle">0.19%</text>
<rect x="292.77" y="286.60" width="10.79" height="11.05" fill="#dce3e3"/>
<rect x="293.67" y="287.50" width="8.99" height="9.25" fill="none" stroke="#ffffff" stroke-opacity="0.22" stroke-width="0.6"/>
<text x="298.16" y="293.06" font-size="2.6" fill="#262626" text-anchor="middle">0.25%</text>
<rect x="303.56" y="286.60" width="10.79" height="11.05" fill="#c7d6e8"/>
<rect x="304.46" y="287.50" width="8.99" height="9.25" fill="none" stroke="#ffffff" stroke-opacity="0.22" stroke-width="0.6"/>
<text x="308.95" y="293.06" font-size="2.6" fill="#262626" text-anchor="middle">0.1%</text>
<rect x="314.34" y="286.60" width="10.79" height="11.05" fill="#c7d6e8"/>
<rect x="315.24" y="287.50" width="8.99" height="9.25" fill="none" stroke="#ffffff" stroke-opacity="0.22" stroke-width="0.6"/>
<text x="319.74" y="293.06" font-size="2.6" fill="#262626" text-anchor="middle">0.1%</text>
<rect x="325.13" y="286.60" width="10.79" height="11.05" fill="#c1d1e6"/>
<rect x="326.03" y="287.50" width="8.99" height="9.25" fill="none" stroke="#ffffff" stroke-opacity="0.22" stroke-width="0.6"/>
<text x="330.52" y="293.06" font-size="2.6" fill="#262626" text-anchor="middle">0.07%</text>
<rect x="335.91" y="286.60" width="10.79" height="11.05" fill="#c1d1e6"/>
<rect x="336.81" y="287.50" width="8.99" height="9.25" fill="none" stroke="#ffffff" stroke-opacity="0.22" stroke-width="0.6"/>
<text x="341.31" y="293.06" font-size="2.6" fill="#262626" text-anchor="middle">0.07%</text>
<rect x="346.70" y="286.60" width="10.79" height="11.05" fill="#bccce3"/>
<rect x="347.60" y="287.50" width="8.99" height="9.25" fill="none" stroke="#ffffff" stroke-opacity="0.22" stroke-width="0.6"/>
<text x="352.09" y="293.06" font-size="2.6" fill="#262626" text-anchor="middle">0.05%</text>
<rect x="357.49" y="286.60" width="10.79" height="11.05" fill="#bfcee4"/>
<rect x="358.39" y="287.50" width="8.99" height="9.25" fill="none" stroke="#ffffff" stroke-opacity="0.22" stroke-width="0.6"/>
<text x="362.88" y="293.06" font-size="2.6" fill="#262626" text-anchor="middle">0.06%</text>
<rect x="368.27" y="286.60" width="10.79" height="11.05" fill="#b4c4df"/>
<rect x="369.17" y="287.50" width="8.99" height="9.25" fill="none" stroke="#ffffff" stroke-opacity="0.22" stroke-width="0.6"/>
<text x="373.66" y="293.06" font-size="2.6" fill="#262626" text-anchor="middle">0.03%</text>
<rect x="379.06" y="286.60" width="10.79" height="11.05" fill="#c4d3e6"/>
<rect x="379.96" y="287.50" width="8.99" height="9.25" fill="none" stroke="#ffffff" stroke-opacity="0.22" stroke-width="0.6"/>
<text x="384.45" y="293.06" font-size="2.6" fill="#262626" text-anchor="middle">0.08%</text>
<rect x="389.84" y="286.60" width="10.79" height="11.05" fill="#d06854"/>
<rect x="390.74" y="287.50" width="8.99" height="9.25" fill="none" stroke="#ffffff" stroke-opacity="0.22" stroke-width="0.6"/>
<text x="395.24" y="293.06" font-size="2.6" fill="#262626" text-anchor="middle">4.66%</text>
<rect x="400.63" y="286.60" width="10.79" height="11.05" fill="#d06854"/>
<rect x="401.53" y="287.50" width="8.99" height="9.25" fill="none" stroke="#ffffff" stroke-opacity="0.22" stroke-width="0.6"/>
<text x="406.02" y="293.06" font-size="2.6" fill="#262626" text-anchor="middle">5.7%</text>
<rect x="411.41" y="286.60" width="10.79" height="11.05" fill="#d06854"/>
<rect x="412.31" y="287.50" width="8.99" height="9.25" fill="none" stroke="#ffffff" stroke-opacity="0.22" stroke-width="0.6"/>
<text x="416.81" y="293.06" font-size="2.6" fill="#262626" text-anchor="middle">7.01%</text>
<rect x="422.20" y="286.60" width="10.79" height="11.05" fill="#cc6350"/>
<rect x="423.10" y="287.50" width="8.99" height="9.25" fill="none" stroke="#ffffff" stroke-opacity="0.22" stroke-width="0.6"/>
<text x="427.59" y="293.06" font-size="2.6" fill="#262626" text-anchor="middle">8.15%</text>
<rect x="432.99" y="286.60" width="10.79" height="11.05" fill="#d06854"/>
<rect x="433.89" y="287.50" width="8.99" height="9.25" fill="none" stroke="#ffffff" stroke-opacity="0.22" stroke-width="0.6"/>
<text x="438.38" y="293.06" font-size="2.6" fill="#262626" text-anchor="middle">6.2%</text>
<rect x="443.77" y="286.60" width="10.79" height="11.05" fill="#cc624f"/>
<rect x="444.67" y="287.50" width="8.99" height="9.25" fill="none" stroke="#ffffff" stroke-opacity="0.22" stroke-width="0.6"/>
<text x="449.16" y="293.06" font-size="2.6" fill="#262626" text-anchor="middle">8.31%</text>
<rect x="454.56" y="286.60" width="10.79" height="11.05" fill="#c75c4a"/>
<rect x="455.46" y="287.50" width="8.99" height="9.25" fill="none" stroke="#ffffff" stroke-opacity="0.22" stroke-width="0.6"/>
<text x="459.95" y="293.06" font-size="2.6" fill="#262626" text-anchor="middle">9.46%</text>
<rect x="465.34" y="286.60" width="10.79" height="11.05" fill="#d06854"/>
<rect x="466.24" y="287.50" width="8.99" height="9.25" fill="none" stroke="#ffffff" stroke-opacity="0.22" stroke-width="0.6"/>
<text x="470.74" y="293.06" font-size="2.6" fill="#262626" text-anchor="middle">6.09%</text>
<rect x="476.13" y="286.60" width="10.79" height="11.05" fill="#d06854"/>
<rect x="477.03" y="287.50" width="8.99" height="9.25" fill="none" stroke="#ffffff" stroke-opacity="0.22" stroke-width="0.6"/>
<text x="481.52" y="293.06" font-size="2.6" fill="#262626" text-anchor="middle">5.67%</text>
<rect x="486.91" y="286.60" width="10.79" height="11.05" fill="#ca604d"/>
<rect x="487.81" y="287.50" width="8.99" height="9.25" fill="none" stroke="#ffffff" stroke-opacity="0.22" stroke-width="0.6"/>
<text x="492.31" y="293.06" font-size="2.6" fill="#262626" text-anchor="middle">8.73%</text>
<rect x="271.20" y="297.65" width="10.79" height="11.05" fill="#862f28"/>
<rect x="272.10" y="298.55" width="8.99" height="9.25" fill="none" stroke="#ffffff" stroke-opacity="0.22" stroke-width="0.6"/>
<text x="276.59" y="304.11" font-size="2.6" fill="#262626" text-anchor="middle">99.80%</text>
<rect x="281.99" y="297.65" width="10.79" height="11.05" fill="#862f28"/>
<rect x="282.89" y="298.55" width="8.99" height="9.25" fill="none" stroke="#ffffff" stroke-opacity="0.22" stroke-width="0.6"/>
<text x="287.38" y="304.11" font-size="2.6" fill="#262626" text-anchor="middle">99.64%</text>
<rect x="292.77" y="297.65" width="10.79" height="11.05" fill="#862f28"/>
<rect x="293.67" y="298.55" width="8.99" height="9.25" fill="none" stroke="#ffffff" stroke-opacity="0.22" stroke-width="0.6"/>
<text x="298.16" y="304.11" font-size="2.6" fill="#262626" text-anchor="middle">99.54%</text>
<rect x="303.56" y="297.65" width="10.79" height="11.05" fill="#862f28"/>
<rect x="304.46" y="298.55" width="8.99" height="9.25" fill="none" stroke="#ffffff" stroke-opacity="0.22" stroke-width="0.6"/>
<text x="308.95" y="304.11" font-size="2.6" fill="#262626" text-anchor="middle">99.60%</text>
<rect x="314.34" y="297.65" width="10.79" height="11.05" fill="#862f28"/>
<rect x="315.24" y="298.55" width="8.99" height="9.25" fill="none" stroke="#ffffff" stroke-opacity="0.22" stroke-width="0.6"/>
<text x="319.74" y="304.11" font-size="2.6" fill="#262626" text-anchor="middle">99.70%</text>
<rect x="325.13" y="297.65" width="10.79" height="11.05" fill="#862f28"/>
<rect x="326.03" y="298.55" width="8.99" height="9.25" fill="none" stroke="#ffffff" stroke-opacity="0.22" stroke-width="0.6"/>
<text x="330.52" y="304.11" font-size="2.6" fill="#262626" text-anchor="middle">99.69%</text>
<rect x="335.91" y="297.65" width="10.79" height="11.05" fill="#862f28"/>
<rect x="336.81" y="298.55" width="8.99" height="9.25" fill="none" stroke="#ffffff" stroke-opacity="0.22" stroke-width="0.6"/>
<text x="341.31" y="304.11" font-size="2.6" fill="#262626" text-anchor="middle">99.69%</text>
<rect x="346.70" y="297.65" width="10.79" height="11.05" fill="#862f28"/>
<rect x="347.60" y="298.55" width="8.99" height="9.25" fill="none" stroke="#ffffff" stroke-opacity="0.22" stroke-width="0.6"/>
<text x="352.09" y="304.11" font-size="2.6" fill="#262626" text-anchor="middle">99.73%</text>
<rect x="357.49" y="297.65" width="10.79" height="11.05" fill="#862f28"/>
<rect x="358.39" y="298.55" width="8.99" height="9.25" fill="none" stroke="#ffffff" stroke-opacity="0.22" stroke-width="0.6"/>
<text x="362.88" y="304.11" font-size="2.6" fill="#262626" text-anchor="middle">99.70%</text>
<rect x="368.27" y="297.65" width="10.79" height="11.05" fill="#862f28"/>
<rect x="369.17" y="298.55" width="8.99" height="9.25" fill="none" stroke="#ffffff" stroke-opacity="0.22" stroke-width="0.6"/>
<text x="373.66" y="304.11" font-size="2.6" fill="#262626" text-anchor="middle">99.80%</text>
<rect x="379.06" y="297.65" width="10.79" height="11.05" fill="#862f28"/>
<rect x="379.96" y="298.55" width="8.99" height="9.25" fill="none" stroke="#ffffff" stroke-opacity="0.22" stroke-width="0.6"/>
<text x="384.45" y="304.11" font-size="2.6" fill="#262626" text-anchor="middle">99.70%</text>
<rect x="389.84" y="297.65" width="10.79" height="11.05" fill="#8b3229"/>
<rect x="390.74" y="298.55" width="8.99" height="9.25" fill="none" stroke="#ffffff" stroke-opacity="0.22" stroke-width="0.6"/>
<text x="395.24" y="304.11" font-size="2.6" fill="#262626" text-anchor="middle">81.40%</text>
<rect x="400.63" y="297.65" width="10.79" height="11.05" fill="#893129"/>
<rect x="401.53" y="298.55" width="8.99" height="9.25" fill="none" stroke="#ffffff" stroke-opacity="0.22" stroke-width="0.6"/>
<text x="406.02" y="304.11" font-size="2.6" fill="#262626" text-anchor="middle">87.30%</text>
<rect x="411.41" y="297.65" width="10.79" height="11.05" fill="#8a3129"/>
<rect x="412.31" y="298.55" width="8.99" height="9.25" fill="none" stroke="#ffffff" stroke-opacity="0.22" stroke-width="0.6"/>
<text x="416.81" y="304.11" font-size="2.6" fill="#262626" text-anchor="middle">85.40%</text>
<rect x="422.20" y="297.65" width="10.79" height="11.05" fill="#8a3129"/>
<rect x="423.10" y="298.55" width="8.99" height="9.25" fill="none" stroke="#ffffff" stroke-opacity="0.22" stroke-width="0.6"/>
<text x="427.59" y="304.11" font-size="2.6" fill="#262626" text-anchor="middle">83.10%</text>
<rect x="432.99" y="297.65" width="10.79" height="11.05" fill="#893129"/>
<rect x="433.89" y="298.55" width="8.99" height="9.25" fill="none" stroke="#ffffff" stroke-opacity="0.22" stroke-width="0.6"/>
<text x="438.38" y="304.11" font-size="2.6" fill="#262626" text-anchor="middle">86.10%</text>
<rect x="443.77" y="297.65" width="10.79" height="11.05" fill="#8b322a"/>
<rect x="444.67" y="298.55" width="8.99" height="9.25" fill="none" stroke="#ffffff" stroke-opacity="0.22" stroke-width="0.6"/>
<text x="449.16" y="304.11" font-size="2.6" fill="#262626" text-anchor="middle">79.10%</text>
<rect x="454.56" y="297.65" width="10.79" height="11.05" fill="#8b322a"/>
<rect x="455.46" y="298.55" width="8.99" height="9.25" fill="none" stroke="#ffffff" stroke-opacity="0.22" stroke-width="0.6"/>
<text x="459.95" y="304.11" font-size="2.6" fill="#262626" text-anchor="middle">78.40%</text>
<rect x="465.34" y="297.65" width="10.79" height="11.05" fill="#8a3129"/>
<rect x="466.24" y="298.55" width="8.99" height="9.25" fill="none" stroke="#ffffff" stroke-opacity="0.22" stroke-width="0.6"/>
<text x="470.74" y="304.11" font-size="2.6" fill="#262626" text-anchor="middle">84.30%</text>
<rect x="476.13" y="297.65" width="10.79" height="11.05" fill="#893129"/>
<rect x="477.03" y="298.55" width="8.99" height="9.25" fill="none" stroke="#ffffff" stroke-opacity="0.22" stroke-width="0.6"/>
<text x="481.52" y="304.11" font-size="2.6" fill="#262626" text-anchor="middle">87.10%</text>
<rect x="486.91" y="297.65" width="10.79" height="11.05" fill="#8b322a"/>
<rect x="487.81" y="298.55" width="8.99" height="9.25" fill="none" stroke="#ffffff" stroke-opacity="0.22" stroke-width="0.6"/>
<text x="492.31" y="304.11" font-size="2.6" fill="#262626" text-anchor="middle">80.10%</text>
<line x1="271.20" y1="176.10" x2="271.20" y2="308.70" stroke="#1e2026" stroke-opacity="0.72" stroke-width="0.9"/>
<line x1="281.99" y1="176.10" x2="281.99" y2="308.70" stroke="#1e2026" stroke-opacity="0.72" stroke-width="0.9"/>
<line x1="292.77" y1="176.10" x2="292.77" y2="308.70" stroke="#1e2026" stroke-opacity="0.72" stroke-width="0.9"/>
<line x1="303.56" y1="176.10" x2="303.56" y2="308.70" stroke="#1e2026" stroke-opacity="0.72" stroke-width="0.9"/>
<line x1="314.34" y1="176.10" x2="314.34" y2="308.70" stroke="#1e2026" stroke-opacity="0.72" stroke-width="0.9"/>
<line x1="325.13" y1="176.10" x2="325.13" y2="308.70" stroke="#1e2026" stroke-opacity="0.72" stroke-width="0.9"/>
<line x1="335.91" y1="176.10" x2="335.91" y2="308.70" stroke="#1e2026" stroke-opacity="0.72" stroke-width="0.9"/>
<line x1="346.70" y1="176.10" x2="346.70" y2="308.70" stroke="#1e2026" stroke-opacity="0.72" stroke-width="0.9"/>
<line x1="357.49" y1="176.10" x2="357.49" y2="308.70" stroke="#1e2026" stroke-opacity="0.72" stroke-width="0.9"/>
<line x1="368.27" y1="176.10" x2="368.27" y2="308.70" stroke="#1e2026" stroke-opacity="0.72" stroke-width="0.9"/>
<line x1="379.06" y1="176.10" x2="379.06" y2="308.70" stroke="#1e2026" stroke-opacity="0.72" stroke-width="0.9"/>
<line x1="389.84" y1="176.10" x2="389.84" y2="308.70" stroke="#1e2026" stroke-opacity="0.72" stroke-width="0.9"/>
<line x1="400.63" y1="176.10" x2="400.63" y2="308.70" stroke="#1e2026" stroke-opacity="0.72" stroke-width="0.9"/>
<line x1="411.41" y1="176.10" x2="411.41" y2="308.70" stroke="#1e2026" stroke-opacity="0.72" stroke-width="0.9"/>
<line x1="422.20" y1="176.10" x2="422.20" y2="308.70" stroke="#1e2026" stroke-opacity="0.72" stroke-width="0.9"/>
<line x1="432.99" y1="176.10" x2="432.99" y2="308.70" stroke="#1e2026" stroke-opacity="0.72" stroke-width="0.9"/>
<line x1="443.77" y1="176.10" x2="443.77" y2="308.70" stroke="#1e2026" stroke-opacity="0.72" stroke-width="0.9"/>
<line x1="454.56" y1="176.10" x2="454.56" y2="308.70" stroke="#1e2026" stroke-opacity="0.72" stroke-width="0.9"/>
<line x1="465.34" y1="176.10" x2="465.34" y2="308.70" stroke="#1e2026" stroke-opacity="0.72" stroke-width="0.9"/>
<line x1="476.13" y1="176.10" x2="476.13" y2="308.70" stroke="#1e2026" stroke-opacity="0.72" stroke-width="0.9"/>
<line x1="486.91" y1="176.10" x2="486.91" y2="308.70" stroke="#1e2026" stroke-opacity="0.72" stroke-width="0.9"/>
<line x1="497.70" y1="176.10" x2="497.70" y2="308.70" stroke="#1e2026" stroke-opacity="0.72" stroke-width="0.9"/>
<line x1="271.20" y1="176.10" x2="497.70" y2="176.10" stroke="#1e2026" stroke-opacity="0.72" stroke-width="0.9"/>
<line x1="271.20" y1="187.15" x2="497.70" y2="187.15" stroke="#1e2026" stroke-opacity="0.72" stroke-width="0.9"/>
<line x1="271.20" y1="198.20" x2="497.70" y2="198.20" stroke="#1e2026" stroke-opacity="0.72" stroke-width="0.9"/>
<line x1="271.20" y1="209.25" x2="497.70" y2="209.25" stroke="#1e2026" stroke-opacity="0.72" stroke-width="0.9"/>
<line x1="271.20" y1="220.30" x2="497.70" y2="220.30" stroke="#1e2026" stroke-opacity="0.72" stroke-width="0.9"/>
<line x1="271.20" y1="231.35" x2="497.70" y2="231.35" stroke="#1e2026" stroke-opacity="0.72" stroke-width="0.9"/>
<line x1="271.20" y1="242.40" x2="497.70" y2="242.40" stroke="#1e2026" stroke-opacity="0.72" stroke-width="0.9"/>
<line x1="271.20" y1="253.45" x2="497.70" y2="253.45" stroke="#1e2026" stroke-opacity="0.72" stroke-width="0.9"/>
<line x1="271.20" y1="264.50" x2="497.70" y2="264.50" stroke="#1e2026" stroke-opacity="0.72" stroke-width="0.9"/>
<line x1="271.20" y1="275.55" x2="497.70" y2="275.55" stroke="#1e2026" stroke-opacity="0.72" stroke-width="0.9"/>
<line x1="271.20" y1="286.60" x2="497.70" y2="286.60" stroke="#1e2026" stroke-opacity="0.72" stroke-width="0.9"/>
<line x1="271.20" y1="297.65" x2="497.70" y2="297.65" stroke="#1e2026" stroke-opacity="0.72" stroke-width="0.9"/>
<line x1="271.20" y1="308.70" x2="497.70" y2="308.70" stroke="#1e2026" stroke-opacity="0.72" stroke-width="0.9"/>
<text x="278.09" y="313.10" font-size="4.0" fill="#555" text-anchor="end" transform="rotate(-45 278.09 313.10)">0</text>
<text x="288.88" y="313.10" font-size="4.0" fill="#555" text-anchor="end" transform="rotate(-45 288.88 313.10)">1m</text>
<text x="299.66" y="313.10" font-size="4.0" fill="#555" text-anchor="end" transform="rotate(-45 299.66 313.10)">2m</text>
<text x="310.45" y="313.10" font-size="4.0" fill="#555" text-anchor="end" transform="rotate(-45 310.45 313.10)">3m</text>
<text x="321.24" y="313.10" font-size="4.0" fill="#555" text-anchor="end" transform="rotate(-45 321.24 313.10)">6m</text>
<text x="332.02" y="313.10" font-size="4.0" fill="#555" text-anchor="end" transform="rotate(-45 332.02 313.10)">14m</text>
<text x="342.81" y="313.10" font-size="4.0" fill="#555" text-anchor="end" transform="rotate(-45 342.81 313.10)">17m</text>
<text x="353.59" y="313.10" font-size="4.0" fill="#555" text-anchor="end" transform="rotate(-45 353.59 313.10)">19m</text>
<text x="364.38" y="313.10" font-size="4.0" fill="#555" text-anchor="end" transform="rotate(-45 364.38 313.10)">21m</text>
<text x="375.16" y="313.10" font-size="4.0" fill="#555" text-anchor="end" transform="rotate(-45 375.16 313.10)">23m</text>
<text x="385.95" y="313.10" font-size="4.0" fill="#555" text-anchor="end" transform="rotate(-45 385.95 313.10)">25m</text>
<text x="396.74" y="313.10" font-size="4.0" fill="#555" text-anchor="end" transform="rotate(-45 396.74 313.10)">3m</text>
<text x="407.52" y="313.10" font-size="4.0" fill="#555" text-anchor="end" transform="rotate(-45 407.52 313.10)">5m</text>
<text x="418.31" y="313.10" font-size="4.0" fill="#555" text-anchor="end" transform="rotate(-45 418.31 313.10)">6m</text>
<text x="429.09" y="313.10" font-size="4.0" fill="#555" text-anchor="end" transform="rotate(-45 429.09 313.10)">8m</text>
<text x="439.88" y="313.10" font-size="4.0" fill="#555" text-anchor="end" transform="rotate(-45 439.88 313.10)">10m</text>
<text x="450.66" y="313.10" font-size="4.0" fill="#555" text-anchor="end" transform="rotate(-45 450.66 313.10)">12m</text>
<text x="461.45" y="313.10" font-size="4.0" fill="#555" text-anchor="end" transform="rotate(-45 461.45 313.10)">14m</text>
<text x="472.24" y="313.10" font-size="4.0" fill="#555" text-anchor="end" transform="rotate(-45 472.24 313.10)">16m</text>
<text x="483.02" y="313.10" font-size="4.0" fill="#555" text-anchor="end" transform="rotate(-45 483.02 313.10)">19m</text>
<text x="493.81" y="313.10" font-size="4.0" fill="#555" text-anchor="end" transform="rotate(-45 493.81 313.10)">21m</text>
<line x1="282.0" y1="174.3" x2="388.7" y2="174.3" stroke="#555" stroke-width="0.7"/>
<text x="335.3" y="172.00" font-size="5.4" fill="#333" text-anchor="middle">Total granulocytes</text>
<line x1="390.2" y1="174.3" x2="497.1" y2="174.3" stroke="#555" stroke-width="0.7"/>
<text x="444.0" y="172.00" font-size="5.4" fill="#333" text-anchor="middle" textLength="68" lengthAdjust="spacingAndGlyphs">Sorted FLAER<tspan font-size="3" dy="-1.8">neg</tspan><tspan dy="1.8"> granulocytes</tspan></text>
<line x1="14.5" y1="177.9" x2="14.5" y2="306.4" stroke="#111" stroke-width="0.9"/>
<line x1="24.0" y1="177.9" x2="24.0" y2="295.8" stroke="#8c8c8c" stroke-width="1.0"/>
<line x1="24.0" y1="299.4" x2="24.0" y2="306.2" stroke="#8c8c8c" stroke-width="1.0"/>
<text x="11.6" y="242.0" font-size="4.6" fill="#444" text-anchor="middle" textLength="28" lengthAdjust="spacingAndGlyphs" transform="rotate(-90 11.6 242.0)">Z.35 (Female)</text>
<text x="20.8" y="237.1" font-size="4.6" fill="#444" text-anchor="middle" textLength="14.7" lengthAdjust="spacingAndGlyphs" transform="rotate(-90 20.8 237.1)">INDELs</text>
<text x="19.6" y="303.0" font-size="4.0" fill="#444" text-anchor="middle" transform="rotate(-90 19.6 303.0)">WT</text>
<text x="30.0" y="313.1" font-size="4.4" fill="#555" font-family='"Liberation Sans", sans-serif' textLength="9.9" lengthAdjust="spacingAndGlyphs" >PAM</text>
<path d="M50.10,306.50 L52.40,312.90 L47.80,312.90 Z" fill="#a8232f"/>
<path d="M166.60,306.50 L168.90,312.90 L164.30,312.90 Z" fill="#a8232f"/>
<path d="M209.00,306.50 L211.30,312.90 L206.70,312.90 Z" fill="#a8232f"/>
<text x="166.3" y="318.9" font-size="4.6" fill="#444" font-family='"Liberation Sans", sans-serif' text-anchor="middle" textLength="25.5" lengthAdjust="spacingAndGlyphs" >Cas9 cut site</text>
<line x1="109.8" y1="347.4" x2="175.3" y2="347.4" stroke="#555" stroke-width="0.7"/>
<text x="142.5" y="344.40" font-size="4.6" fill="#555" text-anchor="middle">gRNA#2</text>
<line x1="198.6" y1="347.4" x2="266.0" y2="347.4" stroke="#555" stroke-width="0.7"/>
<text x="233.2" y="344.40" font-size="4.6" fill="#555" text-anchor="middle">gRNA#3</text>
<text x="110.70 113.97 117.24 120.51 123.78 127.05 130.32 133.59 136.86 140.13 143.40 146.67 149.94 153.21 156.48 159.75 163.02 166.29 169.56 172.83 176.10 179.37 182.64" y="354.51" font-size="5.6" fill="#111" font-family='"Liberation Mono", monospace' font-weight="bold" stroke="#111" stroke-width="0.15">CTACCCAAATATGGGAGGCGTGG</text>
<line x1="176.10" y1="354.71" x2="185.91" y2="354.71" stroke="#555" stroke-width="0.55"/>
<rect x="186.35" y="353.51" width="0.8" height="0.8" fill="#555"/>
<rect x="187.85" y="353.51" width="0.8" height="0.8" fill="#555"/>
<rect x="189.35" y="353.51" width="0.8" height="0.8" fill="#555"/>
<line x1="191.05" y1="352.81" x2="193.37" y2="352.81" stroke="#cc4656" stroke-width="1.0"/>
<line x1="194.32" y1="352.81" x2="196.64" y2="352.81" stroke="#cc4656" stroke-width="1.0"/>
<line x1="197.59" y1="352.81" x2="199.91" y2="352.81" stroke="#cc4656" stroke-width="1.0"/>
<line x1="200.86" y1="352.81" x2="203.18" y2="352.81" stroke="#cc4656" stroke-width="1.0"/>
<line x1="204.13" y1="352.81" x2="206.45" y2="352.81" stroke="#cc4656" stroke-width="1.0"/>
<line x1="207.40" y1="352.81" x2="209.72" y2="352.81" stroke="#cc4656" stroke-width="1.0"/>
<line x1="210.67" y1="352.81" x2="212.99" y2="352.81" stroke="#cc4656" stroke-width="1.0"/>
<line x1="213.94" y1="352.81" x2="216.26" y2="352.81" stroke="#cc4656" stroke-width="1.0"/>
<line x1="217.21" y1="352.81" x2="219.53" y2="352.81" stroke="#cc4656" stroke-width="1.0"/>
<line x1="220.48" y1="352.81" x2="222.80" y2="352.81" stroke="#cc4656" stroke-width="1.0"/>
<line x1="223.75" y1="352.81" x2="226.07" y2="352.81" stroke="#cc4656" stroke-width="1.0"/>
<text x="226.67 229.94 233.21 236.48 239.75 243.02 246.29 249.56 252.83 256.10 259.37 262.64" y="354.51" font-size="5.6" fill="#111" font-family='"Liberation Mono", monospace' font-weight="bold" stroke="#111" stroke-width="0.15">CTAATGGCCTCA</text>
<text x="110.70 113.97 117.24 120.51 123.78 127.05 130.32 133.59 136.86 140.13 143.40 146.67 149.94 153.21 156.48 159.75 163.02 166.29 169.56 172.83 176.10 179.37 182.64" y="361.43" font-size="5.6" fill="#111" font-family='"Liberation Mono", monospace' font-weight="bold" stroke="#111" stroke-width="0.15">CTACCCAAATATGGGAGGCGTGG</text>
<line x1="176.10" y1="361.62" x2="185.91" y2="361.62" stroke="#555" stroke-width="0.55"/>
<rect x="186.35" y="360.43" width="0.8" height="0.8" fill="#555"/>
<rect x="187.85" y="360.43" width="0.8" height="0.8" fill="#555"/>
<rect x="189.35" y="360.43" width="0.8" height="0.8" fill="#555"/>
<line x1="191.05" y1="359.73" x2="193.37" y2="359.73" stroke="#cc4656" stroke-width="1.0"/>
<line x1="194.32" y1="359.73" x2="196.64" y2="359.73" stroke="#cc4656" stroke-width="1.0"/>
<line x1="197.59" y1="359.73" x2="199.91" y2="359.73" stroke="#cc4656" stroke-width="1.0"/>
<line x1="200.86" y1="359.73" x2="203.18" y2="359.73" stroke="#cc4656" stroke-width="1.0"/>
<line x1="204.13" y1="359.73" x2="206.45" y2="359.73" stroke="#cc4656" stroke-width="1.0"/>
<line x1="207.40" y1="359.73" x2="209.72" y2="359.73" stroke="#cc4656" stroke-width="1.0"/>
<text x="210.32 213.59 216.86 220.13 223.40 226.67 229.94 233.21 236.48 239.75 243.02 246.29 249.56 252.83 256.10 259.37 262.64" y="361.43" font-size="5.6" fill="#111" font-family='"Liberation Mono", monospace' font-weight="bold" stroke="#111" stroke-width="0.15">CCTCACTAATGGCCTCA</text>
<text x="110.70 113.97 117.24 120.51 123.78 127.05 130.32 133.59 136.86 140.13 143.40 146.67 149.94 153.21 156.48 159.75 163.02 166.29 169.56 172.83 176.10 179.37 182.64" y="368.34" font-size="5.6" fill="#111" font-family='"Liberation Mono", monospace' font-weight="bold" stroke="#111" stroke-width="0.15">CTACCCAAATATGGGAGGCGTGG</text>
<line x1="176.10" y1="368.54" x2="185.91" y2="368.54" stroke="#555" stroke-width="0.55"/>
<rect x="186.35" y="367.34" width="0.8" height="0.8" fill="#555"/>
<rect x="187.85" y="367.34" width="0.8" height="0.8" fill="#555"/>
<rect x="189.35" y="367.34" width="0.8" height="0.8" fill="#555"/>
<line x1="210.67" y1="366.64" x2="212.99" y2="366.64" stroke="#cc4656" stroke-width="1.0"/>
<line x1="213.94" y1="366.64" x2="216.26" y2="366.64" stroke="#cc4656" stroke-width="1.0"/>
<line x1="217.21" y1="366.64" x2="219.53" y2="366.64" stroke="#cc4656" stroke-width="1.0"/>
<line x1="220.48" y1="366.64" x2="222.80" y2="366.64" stroke="#cc4656" stroke-width="1.0"/>
<line x1="223.75" y1="366.64" x2="226.07" y2="366.64" stroke="#cc4656" stroke-width="1.0"/>
<line x1="227.02" y1="366.64" x2="229.34" y2="366.64" stroke="#cc4656" stroke-width="1.0"/>
<line x1="230.29" y1="366.64" x2="232.61" y2="366.64" stroke="#cc4656" stroke-width="1.0"/>
<text x="190.70 193.97 197.24 200.51 203.78 207.05 233.21 236.48 239.75 243.02 246.29 249.56 252.83 256.10 259.37 262.64" y="368.34" font-size="5.6" fill="#111" font-family='"Liberation Mono", monospace' font-weight="bold" stroke="#111" stroke-width="0.15">CCGTTAAATGGCCTCA</text>
<line x1="190.70" y1="368.54" x2="200.51" y2="368.54" stroke="#555" stroke-width="0.55"/>
<text x="110.70 113.97 117.24 120.51 123.78 127.05 130.32 133.59 136.86 140.13 143.40 146.67 149.94 153.21 156.48 159.75 163.02 166.29 169.56 172.83 176.10 179.37 182.64" y="375.26" font-size="5.6" fill="#111" font-family='"Liberation Mono", monospace' font-weight="bold" stroke="#111" stroke-width="0.15">CTACCCAAATATGGGAGGCGTGG</text>
<line x1="176.10" y1="375.46" x2="185.91" y2="375.46" stroke="#555" stroke-width="0.55"/>
<rect x="186.35" y="374.26" width="0.8" height="0.8" fill="#555"/>
<rect x="187.85" y="374.26" width="0.8" height="0.8" fill="#555"/>
<rect x="189.35" y="374.26" width="0.8" height="0.8" fill="#555"/>
<text x="190.70 193.97 197.24 200.51 203.78 207.05" y="375.26" font-size="5.6" fill="#111" font-family='"Liberation Mono", monospace' font-weight="bold" stroke="#111" stroke-width="0.15">CCGTTA</text>
<text x="210.32" y="375.26" font-size="5.6" fill="#c8323c" font-family='"Liberation Mono", monospace' font-weight="bold" stroke="#c8323c" stroke-width="0.15">C</text>
<text x="213.59 216.86 220.13 223.40 226.67 229.94 233.21 236.48 239.75 243.02 246.29 249.56 252.83 256.10 259.37 262.64" y="375.26" font-size="5.6" fill="#111" font-family='"Liberation Mono", monospace' font-weight="bold" stroke="#111" stroke-width="0.15">CCTCACTAATGGCCTC</text>
<line x1="190.70" y1="375.46" x2="200.51" y2="375.46" stroke="#555" stroke-width="0.55"/>
<text x="110.70 113.97 117.24 120.51 123.78 127.05 130.32 133.59 136.86 140.13 143.40 146.67 149.94 153.21 156.48 159.75 163.02 166.29 169.56 172.83 176.10 179.37 182.64" y="382.18" font-size="5.6" fill="#111" font-family='"Liberation Mono", monospace' font-weight="bold" stroke="#111" stroke-width="0.15">CTACCCAAATATGGGAGGCGTGG</text>
<line x1="176.10" y1="382.38" x2="185.91" y2="382.38" stroke="#555" stroke-width="0.55"/>
<rect x="186.35" y="381.18" width="0.8" height="0.8" fill="#555"/>
<rect x="187.85" y="381.18" width="0.8" height="0.8" fill="#555"/>
<rect x="189.35" y="381.18" width="0.8" height="0.8" fill="#555"/>
<text x="190.70 193.97 197.24 200.51 203.78 207.05 210.32 213.59 216.86 220.13 223.40 226.67 229.94" y="382.18" font-size="5.6" fill="#111" font-family='"Liberation Mono", monospace' font-weight="bold" stroke="#111" stroke-width="0.15">CCGTTACCTCACT</text>
<text x="233.21 236.48" y="382.18" font-size="5.6" fill="#c8323c" font-family='"Liberation Mono", monospace' font-weight="bold" stroke="#c8323c" stroke-width="0.15">CC</text>
<text x="239.75" y="382.18" font-size="5.6" fill="#111" font-family='"Liberation Mono", monospace' font-weight="bold" stroke="#111" stroke-width="0.15">T</text>
<text x="243.02 246.29 249.56 252.83 256.10 259.37 262.64" y="382.18" font-size="5.6" fill="#c8323c" font-family='"Liberation Mono", monospace' font-weight="bold" stroke="#c8323c" stroke-width="0.15">CACTAAT</text>
<line x1="190.70" y1="382.38" x2="200.51" y2="382.38" stroke="#555" stroke-width="0.55"/>
<text x="110.70 113.97 117.24 120.51 123.78 127.05 130.32 133.59 136.86 140.13 143.40 146.67 149.94 153.21 156.48 159.75 163.02 166.29 169.56 172.83 176.10 179.37 182.64" y="389.09" font-size="5.6" fill="#111" font-family='"Liberation Mono", monospace' font-weight="bold" stroke="#111" stroke-width="0.15">CTACCCAAATATGGGAGGCGTGG</text>
<line x1="176.10" y1="389.29" x2="185.91" y2="389.29" stroke="#555" stroke-width="0.55"/>
<rect x="186.35" y="388.09" width="0.8" height="0.8" fill="#555"/>
<rect x="187.85" y="388.09" width="0.8" height="0.8" fill="#555"/>
<rect x="189.35" y="388.09" width="0.8" height="0.8" fill="#555"/>
<line x1="210.67" y1="387.39" x2="212.99" y2="387.39" stroke="#cc4656" stroke-width="1.0"/>
<line x1="213.94" y1="387.39" x2="216.26" y2="387.39" stroke="#cc4656" stroke-width="1.0"/>
<line x1="217.21" y1="387.39" x2="219.53" y2="387.39" stroke="#cc4656" stroke-width="1.0"/>
<line x1="220.48" y1="387.39" x2="222.80" y2="387.39" stroke="#cc4656" stroke-width="1.0"/>
<line x1="223.75" y1="387.39" x2="226.07" y2="387.39" stroke="#cc4656" stroke-width="1.0"/>
<line x1="227.02" y1="387.39" x2="229.34" y2="387.39" stroke="#cc4656" stroke-width="1.0"/>
<text x="190.70 193.97 197.24 200.51 203.78 207.05 229.94 233.21 236.48 239.75 243.02 246.29 249.56 252.83 256.10 259.37 262.64" y="389.09" font-size="5.6" fill="#111" font-family='"Liberation Mono", monospace' font-weight="bold" stroke="#111" stroke-width="0.15">CCGTTATAATGGCCTCA</text>
<line x1="190.70" y1="389.29" x2="200.51" y2="389.29" stroke="#555" stroke-width="0.55"/>
<text x="110.70 113.97 117.24 120.51 123.78 127.05 130.32 133.59 136.86 140.13 143.40 146.67 149.94 153.21 156.48 159.75 163.02 166.29 169.56 172.83 176.10 179.37 182.64" y="396.01" font-size="5.6" fill="#111" font-family='"Liberation Mono", monospace' font-weight="bold" stroke="#111" stroke-width="0.15">CTACCCAAATATGGGAGGCGTGG</text>
<line x1="176.10" y1="396.21" x2="185.91" y2="396.21" stroke="#555" stroke-width="0.55"/>
<rect x="186.35" y="395.01" width="0.8" height="0.8" fill="#555"/>
<rect x="187.85" y="395.01" width="0.8" height="0.8" fill="#555"/>
<rect x="189.35" y="395.01" width="0.8" height="0.8" fill="#555"/>
<text x="190.70 193.97 197.24 200.51 203.78 207.05" y="396.01" font-size="5.6" fill="#111" font-family='"Liberation Mono", monospace' font-weight="bold" stroke="#111" stroke-width="0.15">CCGTTA</text>
<text x="210.32" y="396.01" font-size="5.6" fill="#c8323c" font-family='"Liberation Mono", monospace' font-weight="bold" stroke="#c8323c" stroke-width="0.15">A</text>
<text x="213.59 216.86 220.13 223.40 226.67 229.94 233.21 236.48 239.75 243.02 246.29 249.56 252.83 256.10 259.37 262.64" y="396.01" font-size="5.6" fill="#111" font-family='"Liberation Mono", monospace' font-weight="bold" stroke="#111" stroke-width="0.15">CCTCACTAATGGCCTC</text>
<line x1="190.70" y1="396.21" x2="200.51" y2="396.21" stroke="#555" stroke-width="0.55"/>
<text x="110.70 113.97 117.24 120.51 123.78 127.05 130.32 133.59 136.86 140.13 143.40 146.67 149.94 153.21 156.48 159.75 163.02 166.29 169.56 172.83 176.10 179.37 182.64" y="402.93" font-size="5.6" fill="#111" font-family='"Liberation Mono", monospace' font-weight="bold" stroke="#111" stroke-width="0.15">CTACCCAAATATGGGAGGCGTGG</text>
<line x1="176.10" y1="403.12" x2="185.91" y2="403.12" stroke="#555" stroke-width="0.55"/>
<rect x="186.35" y="401.93" width="0.8" height="0.8" fill="#555"/>
<rect x="187.85" y="401.93" width="0.8" height="0.8" fill="#555"/>
<rect x="189.35" y="401.93" width="0.8" height="0.8" fill="#555"/>
<line x1="210.67" y1="401.23" x2="212.99" y2="401.23" stroke="#cc4656" stroke-width="1.0"/>
<text x="190.70 193.97 197.24 200.51 203.78 207.05" y="402.93" font-size="5.6" fill="#111" font-family='"Liberation Mono", monospace' font-weight="bold" stroke="#111" stroke-width="0.15">CCGTTA</text>
<text x="213.59" y="402.93" font-size="5.6" fill="#c8323c" font-family='"Liberation Mono", monospace' font-weight="bold" stroke="#c8323c" stroke-width="0.15">T</text>
<text x="216.86 220.13 223.40 226.67 229.94 233.21 236.48 239.75 243.02 246.29 249.56 252.83 256.10 259.37 262.64" y="402.93" font-size="5.6" fill="#111" font-family='"Liberation Mono", monospace' font-weight="bold" stroke="#111" stroke-width="0.15">TCACTAATGGCCTCA</text>
<line x1="190.70" y1="403.12" x2="200.51" y2="403.12" stroke="#555" stroke-width="0.55"/>
<line x1="163.37" y1="408.14" x2="165.69" y2="408.14" stroke="#cc4656" stroke-width="1.0"/>
<text x="110.70 113.97 117.24 120.51 123.78 127.05 130.32 133.59 136.86 140.13 143.40 146.67 149.94 153.21 156.48 159.75 166.29 169.56 172.83 176.10 179.37 182.64" y="409.84" font-size="5.6" fill="#111" font-family='"Liberation Mono", monospace' font-weight="bold" stroke="#111" stroke-width="0.15">CTACCCAAATATGGGAGCGTGG</text>
<line x1="176.10" y1="410.04" x2="185.91" y2="410.04" stroke="#555" stroke-width="0.55"/>
<rect x="186.35" y="408.84" width="0.8" height="0.8" fill="#555"/>
<rect x="187.85" y="408.84" width="0.8" height="0.8" fill="#555"/>
<rect x="189.35" y="408.84" width="0.8" height="0.8" fill="#555"/>
<text x="190.70 193.97 197.24 200.51 203.78 207.05 210.32 213.59 216.86 220.13 223.40 226.67 229.94 233.21 236.48 239.75 243.02 246.29 249.56 252.83 256.10 259.37 262.64" y="409.84" font-size="5.6" fill="#111" font-family='"Liberation Mono", monospace' font-weight="bold" stroke="#111" stroke-width="0.15">CCGTTACCTCACTAATGGCCTCA</text>
<line x1="190.70" y1="410.04" x2="200.51" y2="410.04" stroke="#555" stroke-width="0.55"/>
<text x="110.70 113.97 117.24 120.51 123.78 127.05 130.32 133.59 136.86 140.13 143.40 146.67 149.94 153.21 156.48 159.75 163.02 166.29 169.56 172.83 176.10 179.37 182.64" y="416.76" font-size="5.6" fill="#111" font-family='"Liberation Mono", monospace' font-weight="bold" stroke="#111" stroke-width="0.15">CTACCCAAATATGGGAGGCGTGG</text>
<line x1="176.10" y1="416.96" x2="185.91" y2="416.96" stroke="#555" stroke-width="0.55"/>
<rect x="186.35" y="415.76" width="0.8" height="0.8" fill="#555"/>
<rect x="187.85" y="415.76" width="0.8" height="0.8" fill="#555"/>
<rect x="189.35" y="415.76" width="0.8" height="0.8" fill="#555"/>
<line x1="210.67" y1="415.06" x2="212.99" y2="415.06" stroke="#cc4656" stroke-width="1.0"/>
<line x1="213.94" y1="415.06" x2="216.26" y2="415.06" stroke="#cc4656" stroke-width="1.0"/>
<line x1="217.21" y1="415.06" x2="219.53" y2="415.06" stroke="#cc4656" stroke-width="1.0"/>
<line x1="220.48" y1="415.06" x2="222.80" y2="415.06" stroke="#cc4656" stroke-width="1.0"/>
<line x1="223.75" y1="415.06" x2="226.07" y2="415.06" stroke="#cc4656" stroke-width="1.0"/>
<line x1="227.02" y1="415.06" x2="229.34" y2="415.06" stroke="#cc4656" stroke-width="1.0"/>
<line x1="230.29" y1="415.06" x2="232.61" y2="415.06" stroke="#cc4656" stroke-width="1.0"/>
<line x1="233.56" y1="415.06" x2="235.88" y2="415.06" stroke="#cc4656" stroke-width="1.0"/>
<line x1="236.83" y1="415.06" x2="239.15" y2="415.06" stroke="#cc4656" stroke-width="1.0"/>
<line x1="240.10" y1="415.06" x2="242.42" y2="415.06" stroke="#cc4656" stroke-width="1.0"/>
<line x1="243.37" y1="415.06" x2="245.69" y2="415.06" stroke="#cc4656" stroke-width="1.0"/>
<line x1="246.64" y1="415.06" x2="248.96" y2="415.06" stroke="#cc4656" stroke-width="1.0"/>
<line x1="249.91" y1="415.06" x2="252.23" y2="415.06" stroke="#cc4656" stroke-width="1.0"/>
<text x="190.70 193.97 197.24 200.51 203.78 207.05 252.83 256.10 259.37 262.64" y="416.76" font-size="5.6" fill="#111" font-family='"Liberation Mono", monospace' font-weight="bold" stroke="#111" stroke-width="0.15">CCGTTACTCA</text>
<line x1="190.70" y1="416.96" x2="200.51" y2="416.96" stroke="#555" stroke-width="0.55"/>
<text x="110.70 113.97 117.24 120.51 123.78 127.05 130.32 133.59 136.86 140.13 143.40 146.67 149.94 153.21 156.48 159.75 163.02 166.29 169.56 172.83 176.10 179.37 182.64" y="423.68" font-size="5.6" fill="#111" font-family='"Liberation Mono", monospace' font-weight="bold" stroke="#111" stroke-width="0.15">CTACCCAAATATGGGAGGCGTGG</text>
<line x1="176.10" y1="423.88" x2="185.91" y2="423.88" stroke="#555" stroke-width="0.55"/>
<rect x="186.35" y="422.68" width="0.8" height="0.8" fill="#555"/>
<rect x="187.85" y="422.68" width="0.8" height="0.8" fill="#555"/>
<rect x="189.35" y="422.68" width="0.8" height="0.8" fill="#555"/>
<line x1="210.67" y1="421.98" x2="212.99" y2="421.98" stroke="#cc4656" stroke-width="1.0"/>
<line x1="213.94" y1="421.98" x2="216.26" y2="421.98" stroke="#cc4656" stroke-width="1.0"/>
<line x1="217.21" y1="421.98" x2="219.53" y2="421.98" stroke="#cc4656" stroke-width="1.0"/>
<text x="190.70 193.97 197.24 200.51 203.78 207.05 220.13 223.40 226.67 229.94 233.21 236.48 239.75 243.02 246.29 249.56 252.83 256.10 259.37 262.64" y="423.68" font-size="5.6" fill="#111" font-family='"Liberation Mono", monospace' font-weight="bold" stroke="#111" stroke-width="0.15">CCGTTACACTAATGGCCTCA</text>
<line x1="190.70" y1="423.88" x2="200.51" y2="423.88" stroke="#555" stroke-width="0.55"/>
<text x="110.70 113.97 117.24 120.51 123.78 127.05 130.32 133.59 136.86 140.13 143.40 146.67 149.94 153.21 156.48 159.75 163.02 166.29 169.56 172.83 176.10 179.37 182.64" y="430.59" font-size="5.6" fill="#111" font-family='"Liberation Mono", monospace' font-weight="bold" stroke="#111" stroke-width="0.15">CTACCCAAATATGGGAGGCGTGG</text>
<line x1="176.10" y1="430.79" x2="185.91" y2="430.79" stroke="#555" stroke-width="0.55"/>
<rect x="186.35" y="429.59" width="0.8" height="0.8" fill="#555"/>
<rect x="187.85" y="429.59" width="0.8" height="0.8" fill="#555"/>
<rect x="189.35" y="429.59" width="0.8" height="0.8" fill="#555"/>
<line x1="204.13" y1="428.89" x2="206.45" y2="428.89" stroke="#cc4656" stroke-width="1.0"/>
<line x1="207.40" y1="428.89" x2="209.72" y2="428.89" stroke="#cc4656" stroke-width="1.0"/>
<line x1="210.67" y1="428.89" x2="212.99" y2="428.89" stroke="#cc4656" stroke-width="1.0"/>
<line x1="213.94" y1="428.89" x2="216.26" y2="428.89" stroke="#cc4656" stroke-width="1.0"/>
<line x1="217.21" y1="428.89" x2="219.53" y2="428.89" stroke="#cc4656" stroke-width="1.0"/>
<line x1="220.48" y1="428.89" x2="222.80" y2="428.89" stroke="#cc4656" stroke-width="1.0"/>
<line x1="223.75" y1="428.89" x2="226.07" y2="428.89" stroke="#cc4656" stroke-width="1.0"/>
<line x1="227.02" y1="428.89" x2="229.34" y2="428.89" stroke="#cc4656" stroke-width="1.0"/>
<text x="190.70 193.97 197.24 200.51 229.94 233.21 236.48 239.75 243.02 246.29 249.56 252.83 256.10 259.37 262.64" y="430.59" font-size="5.6" fill="#111" font-family='"Liberation Mono", monospace' font-weight="bold" stroke="#111" stroke-width="0.15">CCGTTAATGGCCTCA</text>
<line x1="190.70" y1="430.79" x2="200.51" y2="430.79" stroke="#555" stroke-width="0.55"/>
<text x="110.70 113.97 117.24 120.51 123.78 127.05 130.32 133.59 136.86 140.13 143.40 146.67 149.94 153.21 156.48 159.75 163.02 166.29 169.56 172.83 176.10 179.37 182.64" y="437.51" font-size="5.6" fill="#111" font-family='"Liberation Mono", monospace' font-weight="bold" stroke="#111" stroke-width="0.15">CTACCCAAATATGGGAGGCGTGG</text>
<line x1="176.10" y1="437.71" x2="185.91" y2="437.71" stroke="#555" stroke-width="0.55"/>
<rect x="186.35" y="436.51" width="0.8" height="0.8" fill="#555"/>
<rect x="187.85" y="436.51" width="0.8" height="0.8" fill="#555"/>
<rect x="189.35" y="436.51" width="0.8" height="0.8" fill="#555"/>
<line x1="207.40" y1="435.81" x2="209.72" y2="435.81" stroke="#cc4656" stroke-width="1.0"/>
<line x1="210.67" y1="435.81" x2="212.99" y2="435.81" stroke="#cc4656" stroke-width="1.0"/>
<line x1="213.94" y1="435.81" x2="216.26" y2="435.81" stroke="#cc4656" stroke-width="1.0"/>
<line x1="217.21" y1="435.81" x2="219.53" y2="435.81" stroke="#cc4656" stroke-width="1.0"/>
<line x1="220.48" y1="435.81" x2="222.80" y2="435.81" stroke="#cc4656" stroke-width="1.0"/>
<text x="190.70 193.97 197.24 200.51 203.78 223.40 226.67 229.94 233.21 236.48 239.75 243.02 246.29 249.56 252.83 256.10 259.37 262.64" y="437.51" font-size="5.6" fill="#111" font-family='"Liberation Mono", monospace' font-weight="bold" stroke="#111" stroke-width="0.15">CCGTTACTAATGGCCTCA</text>
<line x1="190.70" y1="437.71" x2="200.51" y2="437.71" stroke="#555" stroke-width="0.55"/>
<text x="110.70 113.97 117.24 120.51 123.78 127.05 130.32 133.59 136.86 140.13 143.40 146.67 149.94 153.21 156.48 159.75 163.02 166.29 169.56 172.83 176.10 179.37 182.64" y="444.43" font-size="5.6" fill="#111" font-family='"Liberation Mono", monospace' font-weight="bold" stroke="#111" stroke-width="0.15">CTACCCAAATATGGGAGGCGTGG</text>
<line x1="176.10" y1="444.62" x2="185.91" y2="444.62" stroke="#555" stroke-width="0.55"/>
<rect x="186.35" y="443.43" width="0.8" height="0.8" fill="#555"/>
<rect x="187.85" y="443.43" width="0.8" height="0.8" fill="#555"/>
<rect x="189.35" y="443.43" width="0.8" height="0.8" fill="#555"/>
<line x1="207.40" y1="442.73" x2="209.72" y2="442.73" stroke="#cc4656" stroke-width="1.0"/>
<line x1="210.67" y1="442.73" x2="212.99" y2="442.73" stroke="#cc4656" stroke-width="1.0"/>
<line x1="213.94" y1="442.73" x2="216.26" y2="442.73" stroke="#cc4656" stroke-width="1.0"/>
<line x1="217.21" y1="442.73" x2="219.53" y2="442.73" stroke="#cc4656" stroke-width="1.0"/>
<line x1="220.48" y1="442.73" x2="222.80" y2="442.73" stroke="#cc4656" stroke-width="1.0"/>
<line x1="223.75" y1="442.73" x2="226.07" y2="442.73" stroke="#cc4656" stroke-width="1.0"/>
<line x1="227.02" y1="442.73" x2="229.34" y2="442.73" stroke="#cc4656" stroke-width="1.0"/>
<line x1="230.29" y1="442.73" x2="232.61" y2="442.73" stroke="#cc4656" stroke-width="1.0"/>
<line x1="233.56" y1="442.73" x2="235.88" y2="442.73" stroke="#cc4656" stroke-width="1.0"/>
<text x="190.70 193.97 197.24 200.51 203.78 236.48 239.75 243.02 246.29 249.56 252.83 256.10 259.37 262.64" y="444.43" font-size="5.6" fill="#111" font-family='"Liberation Mono", monospace' font-weight="bold" stroke="#111" stroke-width="0.15">CCGTTATGGCCTCA</text>
<line x1="190.70" y1="444.62" x2="200.51" y2="444.62" stroke="#555" stroke-width="0.55"/>
<text x="110.70 113.97 117.24 120.51 123.78 127.05 130.32 133.59 136.86 140.13 143.40 146.67 149.94 153.21 156.48 159.75 163.02 166.29 169.56 172.83 176.10 179.37 182.64" y="451.34" font-size="5.6" fill="#111" font-family='"Liberation Mono", monospace' font-weight="bold" stroke="#111" stroke-width="0.15">CTACCCAAATATGGGAGGCGTGG</text>
<line x1="176.10" y1="451.54" x2="185.91" y2="451.54" stroke="#555" stroke-width="0.55"/>
<rect x="186.35" y="450.34" width="0.8" height="0.8" fill="#555"/>
<rect x="187.85" y="450.34" width="0.8" height="0.8" fill="#555"/>
<rect x="189.35" y="450.34" width="0.8" height="0.8" fill="#555"/>
<text x="190.70 193.97 197.24 200.51 203.78 207.05" y="451.34" font-size="5.6" fill="#111" font-family='"Liberation Mono", monospace' font-weight="bold" stroke="#111" stroke-width="0.15">CCGTTA</text>
<text x="210.32" y="451.34" font-size="5.6" fill="#c8323c" font-family='"Liberation Mono", monospace' font-weight="bold" stroke="#c8323c" stroke-width="0.15">T</text>
<text x="213.59 216.86 220.13 223.40 226.67 229.94 233.21 236.48 239.75 243.02 246.29 249.56 252.83 256.10 259.37 262.64" y="451.34" font-size="5.6" fill="#111" font-family='"Liberation Mono", monospace' font-weight="bold" stroke="#111" stroke-width="0.15">CCTCACTAATGGCCTC</text>
<line x1="190.70" y1="451.54" x2="200.51" y2="451.54" stroke="#555" stroke-width="0.55"/>
<text x="110.70 113.97 117.24 120.51 123.78 127.05 130.32 133.59 136.86 140.13 143.40 146.67 149.94 153.21 156.48 159.75 163.02 166.29 169.56 172.83 176.10 179.37 182.64" y="458.26" font-size="5.6" fill="#111" font-family='"Liberation Mono", monospace' font-weight="bold" stroke="#111" stroke-width="0.15">CTACCCAAATATGGGAGGCGTGG</text>
<line x1="176.10" y1="458.46" x2="185.91" y2="458.46" stroke="#555" stroke-width="0.55"/>
<rect x="186.35" y="457.26" width="0.8" height="0.8" fill="#555"/>
<rect x="187.85" y="457.26" width="0.8" height="0.8" fill="#555"/>
<rect x="189.35" y="457.26" width="0.8" height="0.8" fill="#555"/>
<line x1="217.21" y1="456.56" x2="219.53" y2="456.56" stroke="#cc4656" stroke-width="1.0"/>
<line x1="220.48" y1="456.56" x2="222.80" y2="456.56" stroke="#cc4656" stroke-width="1.0"/>
<line x1="223.75" y1="456.56" x2="226.07" y2="456.56" stroke="#cc4656" stroke-width="1.0"/>
<text x="190.70 193.97 197.24 200.51 203.78 207.05 210.32 213.59 226.67 229.94 233.21 236.48 239.75 243.02 246.29 249.56 252.83 256.10 259.37 262.64" y="458.26" font-size="5.6" fill="#111" font-family='"Liberation Mono", monospace' font-weight="bold" stroke="#111" stroke-width="0.15">CCGTTACCCTAATGGCCTCA</text>
<line x1="190.70" y1="458.46" x2="200.51" y2="458.46" stroke="#555" stroke-width="0.55"/>
<text x="110.70 113.97 117.24 120.51 123.78 127.05 130.32 133.59 136.86 140.13 143.40 146.67 149.94 153.21 156.48 159.75 163.02 166.29 169.56 172.83 176.10 179.37 182.64" y="465.18" font-size="5.6" fill="#111" font-family='"Liberation Mono", monospace' font-weight="bold" stroke="#111" stroke-width="0.15">CTACCCAAATATGGGAGGCGTGG</text>
<line x1="176.10" y1="465.38" x2="185.91" y2="465.38" stroke="#555" stroke-width="0.55"/>
<rect x="186.35" y="464.18" width="0.8" height="0.8" fill="#555"/>
<rect x="187.85" y="464.18" width="0.8" height="0.8" fill="#555"/>
<rect x="189.35" y="464.18" width="0.8" height="0.8" fill="#555"/>
<text x="190.70 193.97 197.24 200.51 203.78 207.05 210.32 213.59 216.86 220.13 223.40 226.67 229.94" y="465.18" font-size="5.6" fill="#111" font-family='"Liberation Mono", monospace' font-weight="bold" stroke="#111" stroke-width="0.15">CCGTTACCTCACT</text>
<text x="233.21 236.48 239.75 243.02 246.29 249.56 252.83 256.10 259.37 262.64" y="465.18" font-size="5.6" fill="#c8323c" font-family='"Liberation Mono", monospace' font-weight="bold" stroke="#c8323c" stroke-width="0.15">CTCACTAATG</text>
<line x1="190.70" y1="465.38" x2="200.51" y2="465.38" stroke="#555" stroke-width="0.55"/>
<text x="110.70 113.97 117.24 120.51 123.78 127.05 130.32 133.59 136.86 140.13 143.40 146.67 149.94 153.21 156.48 159.75 163.02 166.29 169.56 172.83 176.10 179.37 182.64" y="472.09" font-size="5.6" fill="#111" font-family='"Liberation Mono", monospace' font-weight="bold" stroke="#111" stroke-width="0.15">CTACCCAAATATGGGAGGCGTGG</text>
<line x1="176.10" y1="472.29" x2="185.91" y2="472.29" stroke="#555" stroke-width="0.55"/>
<rect x="186.35" y="471.09" width="0.8" height="0.8" fill="#555"/>
<rect x="187.85" y="471.09" width="0.8" height="0.8" fill="#555"/>
<rect x="189.35" y="471.09" width="0.8" height="0.8" fill="#555"/>
<line x1="210.67" y1="470.39" x2="212.99" y2="470.39" stroke="#cc4656" stroke-width="1.0"/>
<line x1="213.94" y1="470.39" x2="216.26" y2="470.39" stroke="#cc4656" stroke-width="1.0"/>
<text x="190.70 193.97 197.24 200.51 203.78 207.05 216.86 220.13 223.40 226.67 229.94 233.21 236.48 239.75 243.02 246.29 249.56 252.83 256.10 259.37 262.64" y="472.09" font-size="5.6" fill="#111" font-family='"Liberation Mono", monospace' font-weight="bold" stroke="#111" stroke-width="0.15">CCGTTATCACTAATGGCCTCA</text>
<line x1="190.70" y1="472.29" x2="200.51" y2="472.29" stroke="#555" stroke-width="0.55"/>
<text x="110.70 113.97 117.24 120.51 123.78 127.05 130.32 133.59 136.86 140.13 143.40 146.67 149.94 153.21 156.48 159.75 163.02 166.29 169.56 172.83 176.10 179.37 182.64" y="479.01" font-size="5.6" fill="#111" font-family='"Liberation Mono", monospace' font-weight="bold" stroke="#111" stroke-width="0.15">CTACCCAAATATGGGAGGCGTGG</text>
<line x1="176.10" y1="479.21" x2="185.91" y2="479.21" stroke="#555" stroke-width="0.55"/>
<rect x="186.35" y="478.01" width="0.8" height="0.8" fill="#555"/>
<rect x="187.85" y="478.01" width="0.8" height="0.8" fill="#555"/>
<rect x="189.35" y="478.01" width="0.8" height="0.8" fill="#555"/>
<line x1="207.40" y1="477.31" x2="209.72" y2="477.31" stroke="#cc4656" stroke-width="1.0"/>
<text x="190.70 193.97 197.24 200.51 203.78 210.32 213.59 216.86 220.13 223.40 226.67 229.94 233.21 236.48 239.75 243.02 246.29 249.56 252.83 256.10 259.37 262.64" y="479.01" font-size="5.6" fill="#111" font-family='"Liberation Mono", monospace' font-weight="bold" stroke="#111" stroke-width="0.15">CCGTTCCTCACTAATGGCCTCA</text>
<line x1="190.70" y1="479.21" x2="200.51" y2="479.21" stroke="#555" stroke-width="0.55"/>
<text x="110.70 113.97 117.24 120.51 123.78 127.05 130.32 133.59 136.86 140.13 143.40 146.67 149.94 153.21 156.48 159.75 163.02 166.29 169.56 172.83 176.10 179.37 182.64" y="485.93" font-size="5.6" fill="#111" font-family='"Liberation Mono", monospace' font-weight="bold" stroke="#111" stroke-width="0.15">CTACCCAAATATGGGAGGCGTGG</text>
<line x1="176.10" y1="486.12" x2="185.91" y2="486.12" stroke="#555" stroke-width="0.55"/>
<rect x="186.35" y="484.93" width="0.8" height="0.8" fill="#555"/>
<rect x="187.85" y="484.93" width="0.8" height="0.8" fill="#555"/>
<rect x="189.35" y="484.93" width="0.8" height="0.8" fill="#555"/>
<line x1="210.67" y1="484.23" x2="212.99" y2="484.23" stroke="#cc4656" stroke-width="1.0"/>
<text x="190.70 193.97 197.24 200.51 203.78 207.05 213.59 216.86 220.13 223.40 226.67 229.94 233.21 236.48 239.75 243.02 246.29 249.56 252.83 256.10 259.37 262.64" y="485.93" font-size="5.6" fill="#111" font-family='"Liberation Mono", monospace' font-weight="bold" stroke="#111" stroke-width="0.15">CCGTTACTCACTAATGGCCTCA</text>
<line x1="190.70" y1="486.12" x2="200.51" y2="486.12" stroke="#555" stroke-width="0.55"/>
<text x="110.70 113.97 117.24 120.51 123.78 127.05 130.32 133.59 136.86 140.13 143.40 146.67 149.94 153.21 156.48 159.75 163.02 166.29 169.56 172.83 176.10 179.37 182.64" y="492.84" font-size="5.6" fill="#111" font-family='"Liberation Mono", monospace' font-weight="bold" stroke="#111" stroke-width="0.15">CTACCCAAATATGGGAGGCGTGG</text>
<line x1="176.10" y1="493.04" x2="185.91" y2="493.04" stroke="#555" stroke-width="0.55"/>
<rect x="186.35" y="491.84" width="0.8" height="0.8" fill="#555"/>
<rect x="187.85" y="491.84" width="0.8" height="0.8" fill="#555"/>
<rect x="189.35" y="491.84" width="0.8" height="0.8" fill="#555"/>
<text x="190.70 193.97 197.24 200.51 203.78 207.05 210.32 213.59 216.86 220.13 223.40 226.67 229.94 233.21 236.48 239.75 243.02 246.29 249.56 252.83 256.10 259.37 262.64" y="492.84" font-size="5.6" fill="#111" font-family='"Liberation Mono", monospace' font-weight="bold" stroke="#111" stroke-width="0.15">CCGTTACCTCACTAATGGCCTCA</text>
<line x1="190.70" y1="493.04" x2="200.51" y2="493.04" stroke="#555" stroke-width="0.55"/>
<rect x="271.25" y="349.25" width="17.84" height="6.92" fill="#8a9dc8"/>
<rect x="272.15" y="350.15" width="16.04" height="5.12" fill="none" stroke="#ffffff" stroke-opacity="0.22" stroke-width="0.6"/>
<text x="280.17" y="354.00" font-size="3.6" fill="#262626" text-anchor="middle">0%</text>
<rect x="289.09" y="349.25" width="17.84" height="6.92" fill="#8a9dc8"/>
<rect x="289.99" y="350.15" width="16.04" height="5.12" fill="none" stroke="#ffffff" stroke-opacity="0.22" stroke-width="0.6"/>
<text x="298.01" y="354.00" font-size="3.6" fill="#262626" text-anchor="middle">0%</text>
<rect x="306.93" y="349.25" width="17.84" height="6.92" fill="#8a9dc8"/>
<rect x="307.83" y="350.15" width="16.04" height="5.12" fill="none" stroke="#ffffff" stroke-opacity="0.22" stroke-width="0.6"/>
<text x="315.85" y="354.00" font-size="3.6" fill="#262626" text-anchor="middle">0%</text>
<rect x="324.77" y="349.25" width="17.84" height="6.92" fill="#8a9dc8"/>
<rect x="325.67" y="350.15" width="16.04" height="5.12" fill="none" stroke="#ffffff" stroke-opacity="0.22" stroke-width="0.6"/>
<text x="333.69" y="354.00" font-size="3.6" fill="#262626" text-anchor="middle">0%</text>
<rect x="342.61" y="349.25" width="17.84" height="6.92" fill="#a9bada"/>
<rect x="343.51" y="350.15" width="16.04" height="5.12" fill="none" stroke="#ffffff" stroke-opacity="0.22" stroke-width="0.6"/>
<text x="351.53" y="354.00" font-size="3.6" fill="#262626" text-anchor="middle">0.02%</text>
<rect x="360.45" y="349.25" width="17.84" height="6.92" fill="#98aad1"/>
<rect x="361.35" y="350.15" width="16.04" height="5.12" fill="none" stroke="#ffffff" stroke-opacity="0.22" stroke-width="0.6"/>
<text x="369.38" y="354.00" font-size="3.6" fill="#262626" text-anchor="middle">0.01%</text>
<rect x="378.30" y="349.25" width="17.84" height="6.92" fill="#8a9dc8"/>
<rect x="379.20" y="350.15" width="16.04" height="5.12" fill="none" stroke="#ffffff" stroke-opacity="0.22" stroke-width="0.6"/>
<text x="387.22" y="354.00" font-size="3.6" fill="#262626" text-anchor="middle">0%</text>
<rect x="396.14" y="349.25" width="17.84" height="6.92" fill="#f6e6bb"/>
<rect x="397.04" y="350.15" width="16.04" height="5.12" fill="none" stroke="#ffffff" stroke-opacity="0.22" stroke-width="0.6"/>
<text x="405.06" y="354.00" font-size="3.6" fill="#262626" text-anchor="middle">0.88%</text>
<rect x="413.98" y="349.25" width="17.84" height="6.92" fill="#ece9d2"/>
<rect x="414.88" y="350.15" width="16.04" height="5.12" fill="none" stroke="#ffffff" stroke-opacity="0.22" stroke-width="0.6"/>
<text x="422.90" y="354.00" font-size="3.6" fill="#262626" text-anchor="middle">0.45%</text>
<rect x="431.82" y="349.25" width="17.84" height="6.92" fill="#b4c4df"/>
<rect x="432.72" y="350.15" width="16.04" height="5.12" fill="none" stroke="#ffffff" stroke-opacity="0.22" stroke-width="0.6"/>
<text x="440.74" y="354.00" font-size="3.6" fill="#262626" text-anchor="middle">0.03%</text>
<rect x="449.66" y="349.25" width="17.84" height="6.92" fill="#f4e8c3"/>
<rect x="450.56" y="350.15" width="16.04" height="5.12" fill="none" stroke="#ffffff" stroke-opacity="0.22" stroke-width="0.6"/>
<text x="458.58" y="354.00" font-size="3.6" fill="#262626" text-anchor="middle">0.72%</text>
<rect x="271.25" y="356.17" width="17.84" height="6.92" fill="#8a9dc8"/>
<rect x="272.15" y="357.07" width="16.04" height="5.12" fill="none" stroke="#ffffff" stroke-opacity="0.22" stroke-width="0.6"/>
<text x="280.17" y="360.92" font-size="3.6" fill="#262626" text-anchor="middle">0%</text>
<rect x="289.09" y="356.17" width="17.84" height="6.92" fill="#8a9dc8"/>
<rect x="289.99" y="357.07" width="16.04" height="5.12" fill="none" stroke="#ffffff" stroke-opacity="0.22" stroke-width="0.6"/>
<text x="298.01" y="360.92" font-size="3.6" fill="#262626" text-anchor="middle">0%</text>
<rect x="306.93" y="356.17" width="17.84" height="6.92" fill="#8a9dc8"/>
<rect x="307.83" y="357.07" width="16.04" height="5.12" fill="none" stroke="#ffffff" stroke-opacity="0.22" stroke-width="0.6"/>
<text x="315.85" y="360.92" font-size="3.6" fill="#262626" text-anchor="middle">0%</text>
<rect x="324.77" y="356.17" width="17.84" height="6.92" fill="#a9bada"/>
<rect x="325.67" y="357.07" width="16.04" height="5.12" fill="none" stroke="#ffffff" stroke-opacity="0.22" stroke-width="0.6"/>
<text x="333.69" y="360.92" font-size="3.6" fill="#262626" text-anchor="middle">0.02%</text>
<rect x="342.61" y="356.17" width="17.84" height="6.92" fill="#8a9dc8"/>
<rect x="343.51" y="357.07" width="16.04" height="5.12" fill="none" stroke="#ffffff" stroke-opacity="0.22" stroke-width="0.6"/>
<text x="351.53" y="360.92" font-size="3.6" fill="#262626" text-anchor="middle">0%</text>
<rect x="360.45" y="356.17" width="17.84" height="6.92" fill="#8a9dc8"/>
<rect x="361.35" y="357.07" width="16.04" height="5.12" fill="none" stroke="#ffffff" stroke-opacity="0.22" stroke-width="0.6"/>
<text x="369.38" y="360.92" font-size="3.6" fill="#262626" text-anchor="middle">0%</text>
<rect x="378.30" y="356.17" width="17.84" height="6.92" fill="#8a9dc8"/>
<rect x="379.20" y="357.07" width="16.04" height="5.12" fill="none" stroke="#ffffff" stroke-opacity="0.22" stroke-width="0.6"/>
<text x="387.22" y="360.92" font-size="3.6" fill="#262626" text-anchor="middle">0%</text>
<rect x="396.14" y="356.17" width="17.84" height="6.92" fill="#e9e8d5"/>
<rect x="397.04" y="357.07" width="16.04" height="5.12" fill="none" stroke="#ffffff" stroke-opacity="0.22" stroke-width="0.6"/>
<text x="405.06" y="360.92" font-size="3.6" fill="#262626" text-anchor="middle">0.4%</text>
<rect x="413.98" y="356.17" width="17.84" height="6.92" fill="#cedbe9"/>
<rect x="414.88" y="357.07" width="16.04" height="5.12" fill="none" stroke="#ffffff" stroke-opacity="0.22" stroke-width="0.6"/>
<text x="422.90" y="360.92" font-size="3.6" fill="#262626" text-anchor="middle">0.14%</text>
<rect x="431.82" y="356.17" width="17.84" height="6.92" fill="#8a9dc8"/>
<rect x="432.72" y="357.07" width="16.04" height="5.12" fill="none" stroke="#ffffff" stroke-opacity="0.22" stroke-width="0.6"/>
<text x="440.74" y="360.92" font-size="3.6" fill="#262626" text-anchor="middle">0%</text>
<rect x="449.66" y="356.17" width="17.84" height="6.92" fill="#cbd9e9"/>
<rect x="450.56" y="357.07" width="16.04" height="5.12" fill="none" stroke="#ffffff" stroke-opacity="0.22" stroke-width="0.6"/>
<text x="458.58" y="360.92" font-size="3.6" fill="#262626" text-anchor="middle">0.12%</text>
<rect x="271.25" y="363.08" width="17.84" height="6.92" fill="#8a9dc8"/>
<rect x="272.15" y="363.98" width="16.04" height="5.12" fill="none" stroke="#ffffff" stroke-opacity="0.22" stroke-width="0.6"/>
<text x="280.17" y="367.84" font-size="3.6" fill="#262626" text-anchor="middle">0%</text>
<rect x="289.09" y="363.08" width="17.84" height="6.92" fill="#8a9dc8"/>
<rect x="289.99" y="363.98" width="16.04" height="5.12" fill="none" stroke="#ffffff" stroke-opacity="0.22" stroke-width="0.6"/>
<text x="298.01" y="367.84" font-size="3.6" fill="#262626" text-anchor="middle">0%</text>
<rect x="306.93" y="363.08" width="17.84" height="6.92" fill="#98aad1"/>
<rect x="307.83" y="363.98" width="16.04" height="5.12" fill="none" stroke="#ffffff" stroke-opacity="0.22" stroke-width="0.6"/>
<text x="315.85" y="367.84" font-size="3.6" fill="#262626" text-anchor="middle">0.01%</text>
<rect x="324.77" y="363.08" width="17.84" height="6.92" fill="#8a9dc8"/>
<rect x="325.67" y="363.98" width="16.04" height="5.12" fill="none" stroke="#ffffff" stroke-opacity="0.22" stroke-width="0.6"/>
<text x="333.69" y="367.84" font-size="3.6" fill="#262626" text-anchor="middle">0%</text>
<rect x="342.61" y="363.08" width="17.84" height="6.92" fill="#98aad1"/>
<rect x="343.51" y="363.98" width="16.04" height="5.12" fill="none" stroke="#ffffff" stroke-opacity="0.22" stroke-width="0.6"/>
<text x="351.53" y="367.84" font-size="3.6" fill="#262626" text-anchor="middle">0.01%</text>
<rect x="360.45" y="363.08" width="17.84" height="6.92" fill="#8a9dc8"/>
<rect x="361.35" y="363.98" width="16.04" height="5.12" fill="none" stroke="#ffffff" stroke-opacity="0.22" stroke-width="0.6"/>
<text x="369.38" y="367.84" font-size="3.6" fill="#262626" text-anchor="middle">0%</text>
<rect x="378.30" y="363.08" width="17.84" height="6.92" fill="#ebe9d3"/>
<rect x="379.20" y="363.98" width="16.04" height="5.12" fill="none" stroke="#ffffff" stroke-opacity="0.22" stroke-width="0.6"/>
<text x="387.22" y="367.84" font-size="3.6" fill="#262626" text-anchor="middle">0.44%</text>
<rect x="396.14" y="363.08" width="17.84" height="6.92" fill="#f6daac"/>
<rect x="397.04" y="363.98" width="16.04" height="5.12" fill="none" stroke="#ffffff" stroke-opacity="0.22" stroke-width="0.6"/>
<text x="405.06" y="367.84" font-size="3.6" fill="#262626" text-anchor="middle">1.35%</text>
<rect x="413.98" y="363.08" width="17.84" height="6.92" fill="#f6daac"/>
<rect x="414.88" y="363.98" width="16.04" height="5.12" fill="none" stroke="#ffffff" stroke-opacity="0.22" stroke-width="0.6"/>
<text x="422.90" y="367.84" font-size="3.6" fill="#262626" text-anchor="middle">1.35%</text>
<rect x="431.82" y="363.08" width="17.84" height="6.92" fill="#dee4e1"/>
<rect x="432.72" y="363.98" width="16.04" height="5.12" fill="none" stroke="#ffffff" stroke-opacity="0.22" stroke-width="0.6"/>
<text x="440.74" y="367.84" font-size="3.6" fill="#262626" text-anchor="middle">0.27%</text>
<rect x="449.66" y="363.08" width="17.84" height="6.92" fill="#eae9d3"/>
<rect x="450.56" y="363.98" width="16.04" height="5.12" fill="none" stroke="#ffffff" stroke-opacity="0.22" stroke-width="0.6"/>
<text x="458.58" y="367.84" font-size="3.6" fill="#262626" text-anchor="middle">0.43%</text>
<rect x="271.25" y="370.00" width="17.84" height="6.92" fill="#8a9dc8"/>
<rect x="272.15" y="370.90" width="16.04" height="5.12" fill="none" stroke="#ffffff" stroke-opacity="0.22" stroke-width="0.6"/>
<text x="280.17" y="374.75" font-size="3.6" fill="#262626" text-anchor="middle">0%</text>
<rect x="289.09" y="370.00" width="17.84" height="6.92" fill="#98aad1"/>
<rect x="289.99" y="370.90" width="16.04" height="5.12" fill="none" stroke="#ffffff" stroke-opacity="0.22" stroke-width="0.6"/>
<text x="298.01" y="374.75" font-size="3.6" fill="#262626" text-anchor="middle">0.01%</text>
<rect x="306.93" y="370.00" width="17.84" height="6.92" fill="#98aad1"/>
<rect x="307.83" y="370.90" width="16.04" height="5.12" fill="none" stroke="#ffffff" stroke-opacity="0.22" stroke-width="0.6"/>
<text x="315.85" y="374.75" font-size="3.6" fill="#262626" text-anchor="middle">0.01%</text>
<rect x="324.77" y="370.00" width="17.84" height="6.92" fill="#a9bada"/>
<rect x="325.67" y="370.90" width="16.04" height="5.12" fill="none" stroke="#ffffff" stroke-opacity="0.22" stroke-width="0.6"/>
<text x="333.69" y="374.75" font-size="3.6" fill="#262626" text-anchor="middle">0.02%</text>
<rect x="342.61" y="370.00" width="17.84" height="6.92" fill="#a9bada"/>
<rect x="343.51" y="370.90" width="16.04" height="5.12" fill="none" stroke="#ffffff" stroke-opacity="0.22" stroke-width="0.6"/>
<text x="351.53" y="374.75" font-size="3.6" fill="#262626" text-anchor="middle">0.02%</text>
<rect x="360.45" y="370.00" width="17.84" height="6.92" fill="#98aad1"/>
<rect x="361.35" y="370.90" width="16.04" height="5.12" fill="none" stroke="#ffffff" stroke-opacity="0.22" stroke-width="0.6"/>
<text x="369.38" y="374.75" font-size="3.6" fill="#262626" text-anchor="middle">0.01%</text>
<rect x="378.30" y="370.00" width="17.84" height="6.92" fill="#f5e8bf"/>
<rect x="379.20" y="370.90" width="16.04" height="5.12" fill="none" stroke="#ffffff" stroke-opacity="0.22" stroke-width="0.6"/>
<text x="387.22" y="374.75" font-size="3.6" fill="#262626" text-anchor="middle">0.78%</text>
<rect x="396.14" y="370.00" width="17.84" height="6.92" fill="#f5d3a6"/>
<rect x="397.04" y="370.90" width="16.04" height="5.12" fill="none" stroke="#ffffff" stroke-opacity="0.22" stroke-width="0.6"/>
<text x="405.06" y="374.75" font-size="3.6" fill="#262626" text-anchor="middle">1.66%</text>
<rect x="413.98" y="370.00" width="17.84" height="6.92" fill="#c7d6e8"/>
<rect x="414.88" y="370.90" width="16.04" height="5.12" fill="none" stroke="#ffffff" stroke-opacity="0.22" stroke-width="0.6"/>
<text x="422.90" y="374.75" font-size="3.6" fill="#262626" text-anchor="middle">0.1%</text>
<rect x="431.82" y="370.00" width="17.84" height="6.92" fill="#f4cca0"/>
<rect x="432.72" y="370.90" width="16.04" height="5.12" fill="none" stroke="#ffffff" stroke-opacity="0.22" stroke-width="0.6"/>
<text x="440.74" y="374.75" font-size="3.6" fill="#262626" text-anchor="middle">1.97%</text>
<rect x="449.66" y="370.00" width="17.84" height="6.92" fill="#f1ebcc"/>
<rect x="450.56" y="370.90" width="16.04" height="5.12" fill="none" stroke="#ffffff" stroke-opacity="0.22" stroke-width="0.6"/>
<text x="458.58" y="374.75" font-size="3.6" fill="#262626" text-anchor="middle">0.56%</text>
<rect x="271.25" y="376.92" width="17.84" height="6.92" fill="#8a9dc8"/>
<rect x="272.15" y="377.82" width="16.04" height="5.12" fill="none" stroke="#ffffff" stroke-opacity="0.22" stroke-width="0.6"/>
<text x="280.17" y="381.67" font-size="3.6" fill="#262626" text-anchor="middle">0%</text>
<rect x="289.09" y="376.92" width="17.84" height="6.92" fill="#98aad1"/>
<rect x="289.99" y="377.82" width="16.04" height="5.12" fill="none" stroke="#ffffff" stroke-opacity="0.22" stroke-width="0.6"/>
<text x="298.01" y="381.67" font-size="3.6" fill="#262626" text-anchor="middle">0.01%</text>
<rect x="306.93" y="376.92" width="17.84" height="6.92" fill="#98aad1"/>
<rect x="307.83" y="377.82" width="16.04" height="5.12" fill="none" stroke="#ffffff" stroke-opacity="0.22" stroke-width="0.6"/>
<text x="315.85" y="381.67" font-size="3.6" fill="#262626" text-anchor="middle">0.01%</text>
<rect x="324.77" y="376.92" width="17.84" height="6.92" fill="#8a9dc8"/>
<rect x="325.67" y="377.82" width="16.04" height="5.12" fill="none" stroke="#ffffff" stroke-opacity="0.22" stroke-width="0.6"/>
<text x="333.69" y="381.67" font-size="3.6" fill="#262626" text-anchor="middle">0%</text>
<rect x="342.61" y="376.92" width="17.84" height="6.92" fill="#8a9dc8"/>
<rect x="343.51" y="377.82" width="16.04" height="5.12" fill="none" stroke="#ffffff" stroke-opacity="0.22" stroke-width="0.6"/>
<text x="351.53" y="381.67" font-size="3.6" fill="#262626" text-anchor="middle">0%</text>
<rect x="360.45" y="376.92" width="17.84" height="6.92" fill="#8a9dc8"/>
<rect x="361.35" y="377.82" width="16.04" height="5.12" fill="none" stroke="#ffffff" stroke-opacity="0.22" stroke-width="0.6"/>
<text x="369.38" y="381.67" font-size="3.6" fill="#262626" text-anchor="middle">0%</text>
<rect x="378.30" y="376.92" width="17.84" height="6.92" fill="#f7e6b8"/>
<rect x="379.20" y="377.82" width="16.04" height="5.12" fill="none" stroke="#ffffff" stroke-opacity="0.22" stroke-width="0.6"/>
<text x="387.22" y="381.67" font-size="3.6" fill="#262626" text-anchor="middle">0.95%</text>
<rect x="396.14" y="376.92" width="17.84" height="6.92" fill="#c1d1e6"/>
<rect x="397.04" y="377.82" width="16.04" height="5.12" fill="none" stroke="#ffffff" stroke-opacity="0.22" stroke-width="0.6"/>
<text x="405.06" y="381.67" font-size="3.6" fill="#262626" text-anchor="middle">0.07%</text>
<rect x="413.98" y="376.92" width="17.84" height="6.92" fill="#b4c4df"/>
<rect x="414.88" y="377.82" width="16.04" height="5.12" fill="none" stroke="#ffffff" stroke-opacity="0.22" stroke-width="0.6"/>
<text x="422.90" y="381.67" font-size="3.6" fill="#262626" text-anchor="middle">0.03%</text>
<rect x="431.82" y="376.92" width="17.84" height="6.92" fill="#8a9dc8"/>
<rect x="432.72" y="377.82" width="16.04" height="5.12" fill="none" stroke="#ffffff" stroke-opacity="0.22" stroke-width="0.6"/>
<text x="440.74" y="381.67" font-size="3.6" fill="#262626" text-anchor="middle">0%</text>
<rect x="449.66" y="376.92" width="17.84" height="6.92" fill="#8a9dc8"/>
<rect x="450.56" y="377.82" width="16.04" height="5.12" fill="none" stroke="#ffffff" stroke-opacity="0.22" stroke-width="0.6"/>
<text x="458.58" y="381.67" font-size="3.6" fill="#262626" text-anchor="middle">0%</text>
<rect x="271.25" y="383.83" width="17.84" height="6.92" fill="#8a9dc8"/>
<rect x="272.15" y="384.73" width="16.04" height="5.12" fill="none" stroke="#ffffff" stroke-opacity="0.22" stroke-width="0.6"/>
<text x="280.17" y="388.59" font-size="3.6" fill="#262626" text-anchor="middle">0%</text>
<rect x="289.09" y="383.83" width="17.84" height="6.92" fill="#a9bada"/>
<rect x="289.99" y="384.73" width="16.04" height="5.12" fill="none" stroke="#ffffff" stroke-opacity="0.22" stroke-width="0.6"/>
<text x="298.01" y="388.59" font-size="3.6" fill="#262626" text-anchor="middle">0.02%</text>
<rect x="306.93" y="383.83" width="17.84" height="6.92" fill="#98aad1"/>
<rect x="307.83" y="384.73" width="16.04" height="5.12" fill="none" stroke="#ffffff" stroke-opacity="0.22" stroke-width="0.6"/>
<text x="315.85" y="388.59" font-size="3.6" fill="#262626" text-anchor="middle">0.01%</text>
<rect x="324.77" y="383.83" width="17.84" height="6.92" fill="#8a9dc8"/>
<rect x="325.67" y="384.73" width="16.04" height="5.12" fill="none" stroke="#ffffff" stroke-opacity="0.22" stroke-width="0.6"/>
<text x="333.69" y="388.59" font-size="3.6" fill="#262626" text-anchor="middle">0%</text>
<rect x="342.61" y="383.83" width="17.84" height="6.92" fill="#8a9dc8"/>
<rect x="343.51" y="384.73" width="16.04" height="5.12" fill="none" stroke="#ffffff" stroke-opacity="0.22" stroke-width="0.6"/>
<text x="351.53" y="388.59" font-size="3.6" fill="#262626" text-anchor="middle">0%</text>
<rect x="360.45" y="383.83" width="17.84" height="6.92" fill="#8a9dc8"/>
<rect x="361.35" y="384.73" width="16.04" height="5.12" fill="none" stroke="#ffffff" stroke-opacity="0.22" stroke-width="0.6"/>
<text x="369.38" y="388.59" font-size="3.6" fill="#262626" text-anchor="middle">0%</text>
<rect x="378.30" y="383.83" width="17.84" height="6.92" fill="#8a9dc8"/>
<rect x="379.20" y="384.73" width="16.04" height="5.12" fill="none" stroke="#ffffff" stroke-opacity="0.22" stroke-width="0.6"/>
<text x="387.22" y="388.59" font-size="3.6" fill="#262626" text-anchor="middle">0%</text>
<rect x="396.14" y="383.83" width="17.84" height="6.92" fill="#f3e9c6"/>
<rect x="397.04" y="384.73" width="16.04" height="5.12" fill="none" stroke="#ffffff" stroke-opacity="0.22" stroke-width="0.6"/>
<text x="405.06" y="388.59" font-size="3.6" fill="#262626" text-anchor="middle">0.66%</text>
<rect x="413.98" y="383.83" width="17.84" height="6.92" fill="#cfdce9"/>
<rect x="414.88" y="384.73" width="16.04" height="5.12" fill="none" stroke="#ffffff" stroke-opacity="0.22" stroke-width="0.6"/>
<text x="422.90" y="388.59" font-size="3.6" fill="#262626" text-anchor="middle">0.15%</text>
<rect x="431.82" y="383.83" width="17.84" height="6.92" fill="#8a9dc8"/>
<rect x="432.72" y="384.73" width="16.04" height="5.12" fill="none" stroke="#ffffff" stroke-opacity="0.22" stroke-width="0.6"/>
<text x="440.74" y="388.59" font-size="3.6" fill="#262626" text-anchor="middle">0%</text>
<rect x="449.66" y="383.83" width="17.84" height="6.92" fill="#bfcee4"/>
<rect x="450.56" y="384.73" width="16.04" height="5.12" fill="none" stroke="#ffffff" stroke-opacity="0.22" stroke-width="0.6"/>
<text x="458.58" y="388.59" font-size="3.6" fill="#262626" text-anchor="middle">0.06%</text>
<rect x="271.25" y="390.75" width="17.84" height="6.92" fill="#b9c8e2"/>
<rect x="272.15" y="391.65" width="16.04" height="5.12" fill="none" stroke="#ffffff" stroke-opacity="0.22" stroke-width="0.6"/>
<text x="280.17" y="395.50" font-size="3.6" fill="#262626" text-anchor="middle">0.04%</text>
<rect x="289.09" y="390.75" width="17.84" height="6.92" fill="#8a9dc8"/>
<rect x="289.99" y="391.65" width="16.04" height="5.12" fill="none" stroke="#ffffff" stroke-opacity="0.22" stroke-width="0.6"/>
<text x="298.01" y="395.50" font-size="3.6" fill="#262626" text-anchor="middle">0%</text>
<rect x="306.93" y="390.75" width="17.84" height="6.92" fill="#98aad1"/>
<rect x="307.83" y="391.65" width="16.04" height="5.12" fill="none" stroke="#ffffff" stroke-opacity="0.22" stroke-width="0.6"/>
<text x="315.85" y="395.50" font-size="3.6" fill="#262626" text-anchor="middle">0.01%</text>
<rect x="324.77" y="390.75" width="17.84" height="6.92" fill="#8a9dc8"/>
<rect x="325.67" y="391.65" width="16.04" height="5.12" fill="none" stroke="#ffffff" stroke-opacity="0.22" stroke-width="0.6"/>
<text x="333.69" y="395.50" font-size="3.6" fill="#262626" text-anchor="middle">0%</text>
<rect x="342.61" y="390.75" width="17.84" height="6.92" fill="#8a9dc8"/>
<rect x="343.51" y="391.65" width="16.04" height="5.12" fill="none" stroke="#ffffff" stroke-opacity="0.22" stroke-width="0.6"/>
<text x="351.53" y="395.50" font-size="3.6" fill="#262626" text-anchor="middle">0%</text>
<rect x="360.45" y="390.75" width="17.84" height="6.92" fill="#8a9dc8"/>
<rect x="361.35" y="391.65" width="16.04" height="5.12" fill="none" stroke="#ffffff" stroke-opacity="0.22" stroke-width="0.6"/>
<text x="369.38" y="395.50" font-size="3.6" fill="#262626" text-anchor="middle">0%</text>
<rect x="378.30" y="390.75" width="17.84" height="6.92" fill="#d1dde9"/>
<rect x="379.20" y="391.65" width="16.04" height="5.12" fill="none" stroke="#ffffff" stroke-opacity="0.22" stroke-width="0.6"/>
<text x="387.22" y="395.50" font-size="3.6" fill="#262626" text-anchor="middle">0.16%</text>
<rect x="396.14" y="390.75" width="17.84" height="6.92" fill="#ede9d1"/>
<rect x="397.04" y="391.65" width="16.04" height="5.12" fill="none" stroke="#ffffff" stroke-opacity="0.22" stroke-width="0.6"/>
<text x="405.06" y="395.50" font-size="3.6" fill="#262626" text-anchor="middle">0.47%</text>
<rect x="413.98" y="390.75" width="17.84" height="6.92" fill="#eae8d4"/>
<rect x="414.88" y="391.65" width="16.04" height="5.12" fill="none" stroke="#ffffff" stroke-opacity="0.22" stroke-width="0.6"/>
<text x="422.90" y="395.50" font-size="3.6" fill="#262626" text-anchor="middle">0.42%</text>
<rect x="431.82" y="390.75" width="17.84" height="6.92" fill="#f4e8c3"/>
<rect x="432.72" y="391.65" width="16.04" height="5.12" fill="none" stroke="#ffffff" stroke-opacity="0.22" stroke-width="0.6"/>
<text x="440.74" y="395.50" font-size="3.6" fill="#262626" text-anchor="middle">0.72%</text>
<rect x="449.66" y="390.75" width="17.84" height="6.92" fill="#e9e8d5"/>
<rect x="450.56" y="391.65" width="16.04" height="5.12" fill="none" stroke="#ffffff" stroke-opacity="0.22" stroke-width="0.6"/>
<text x="458.58" y="395.50" font-size="3.6" fill="#262626" text-anchor="middle">0.41%</text>
<rect x="271.25" y="397.67" width="17.84" height="6.92" fill="#c5d4e7"/>
<rect x="272.15" y="398.57" width="16.04" height="5.12" fill="none" stroke="#ffffff" stroke-opacity="0.22" stroke-width="0.6"/>
<text x="280.17" y="402.42" font-size="3.6" fill="#262626" text-anchor="middle">0.09%</text>
<rect x="289.09" y="397.67" width="17.84" height="6.92" fill="#8a9dc8"/>
<rect x="289.99" y="398.57" width="16.04" height="5.12" fill="none" stroke="#ffffff" stroke-opacity="0.22" stroke-width="0.6"/>
<text x="298.01" y="402.42" font-size="3.6" fill="#262626" text-anchor="middle">0%</text>
<rect x="306.93" y="397.67" width="17.84" height="6.92" fill="#98aad1"/>
<rect x="307.83" y="398.57" width="16.04" height="5.12" fill="none" stroke="#ffffff" stroke-opacity="0.22" stroke-width="0.6"/>
<text x="315.85" y="402.42" font-size="3.6" fill="#262626" text-anchor="middle">0.01%</text>
<rect x="324.77" y="397.67" width="17.84" height="6.92" fill="#8a9dc8"/>
<rect x="325.67" y="398.57" width="16.04" height="5.12" fill="none" stroke="#ffffff" stroke-opacity="0.22" stroke-width="0.6"/>
<text x="333.69" y="402.42" font-size="3.6" fill="#262626" text-anchor="middle">0%</text>
<rect x="342.61" y="397.67" width="17.84" height="6.92" fill="#8a9dc8"/>
<rect x="343.51" y="398.57" width="16.04" height="5.12" fill="none" stroke="#ffffff" stroke-opacity="0.22" stroke-width="0.6"/>
<text x="351.53" y="402.42" font-size="3.6" fill="#262626" text-anchor="middle">0%</text>
<rect x="360.45" y="397.67" width="17.84" height="6.92" fill="#8a9dc8"/>
<rect x="361.35" y="398.57" width="16.04" height="5.12" fill="none" stroke="#ffffff" stroke-opacity="0.22" stroke-width="0.6"/>
<text x="369.38" y="402.42" font-size="3.6" fill="#262626" text-anchor="middle">0%</text>
<rect x="378.30" y="397.67" width="17.84" height="6.92" fill="#8a9dc8"/>
<rect x="379.20" y="398.57" width="16.04" height="5.12" fill="none" stroke="#ffffff" stroke-opacity="0.22" stroke-width="0.6"/>
<text x="387.22" y="402.42" font-size="3.6" fill="#262626" text-anchor="middle">0%</text>
<rect x="396.14" y="397.67" width="17.84" height="6.92" fill="#ece9d2"/>
<rect x="397.04" y="398.57" width="16.04" height="5.12" fill="none" stroke="#ffffff" stroke-opacity="0.22" stroke-width="0.6"/>
<text x="405.06" y="402.42" font-size="3.6" fill="#262626" text-anchor="middle">0.45%</text>
<rect x="413.98" y="397.67" width="17.84" height="6.92" fill="#e2e6dd"/>
<rect x="414.88" y="398.57" width="16.04" height="5.12" fill="none" stroke="#ffffff" stroke-opacity="0.22" stroke-width="0.6"/>
<text x="422.90" y="402.42" font-size="3.6" fill="#262626" text-anchor="middle">0.31%</text>
<rect x="431.82" y="397.67" width="17.84" height="6.92" fill="#f7deb0"/>
<rect x="432.72" y="398.57" width="16.04" height="5.12" fill="none" stroke="#ffffff" stroke-opacity="0.22" stroke-width="0.6"/>
<text x="440.74" y="402.42" font-size="3.6" fill="#262626" text-anchor="middle">1.22%</text>
<rect x="449.66" y="397.67" width="17.84" height="6.92" fill="#bfcee4"/>
<rect x="450.56" y="398.57" width="16.04" height="5.12" fill="none" stroke="#ffffff" stroke-opacity="0.22" stroke-width="0.6"/>
<text x="458.58" y="402.42" font-size="3.6" fill="#262626" text-anchor="middle">0.06%</text>
<rect x="271.25" y="404.58" width="17.84" height="6.92" fill="#d1dde9"/>
<rect x="272.15" y="405.48" width="16.04" height="5.12" fill="none" stroke="#ffffff" stroke-opacity="0.22" stroke-width="0.6"/>
<text x="280.17" y="409.34" font-size="3.6" fill="#262626" text-anchor="middle">0.16%</text>
<rect x="289.09" y="404.58" width="17.84" height="6.92" fill="#98aad1"/>
<rect x="289.99" y="405.48" width="16.04" height="5.12" fill="none" stroke="#ffffff" stroke-opacity="0.22" stroke-width="0.6"/>
<text x="298.01" y="409.34" font-size="3.6" fill="#262626" text-anchor="middle">0.01%</text>
<rect x="306.93" y="404.58" width="17.84" height="6.92" fill="#98aad1"/>
<rect x="307.83" y="405.48" width="16.04" height="5.12" fill="none" stroke="#ffffff" stroke-opacity="0.22" stroke-width="0.6"/>
<text x="315.85" y="409.34" font-size="3.6" fill="#262626" text-anchor="middle">0.01%</text>
<rect x="324.77" y="404.58" width="17.84" height="6.92" fill="#8a9dc8"/>
<rect x="325.67" y="405.48" width="16.04" height="5.12" fill="none" stroke="#ffffff" stroke-opacity="0.22" stroke-width="0.6"/>
<text x="333.69" y="409.34" font-size="3.6" fill="#262626" text-anchor="middle">0%</text>
<rect x="342.61" y="404.58" width="17.84" height="6.92" fill="#8a9dc8"/>
<rect x="343.51" y="405.48" width="16.04" height="5.12" fill="none" stroke="#ffffff" stroke-opacity="0.22" stroke-width="0.6"/>
<text x="351.53" y="409.34" font-size="3.6" fill="#262626" text-anchor="middle">0%</text>
<rect x="360.45" y="404.58" width="17.84" height="6.92" fill="#8a9dc8"/>
<rect x="361.35" y="405.48" width="16.04" height="5.12" fill="none" stroke="#ffffff" stroke-opacity="0.22" stroke-width="0.6"/>
<text x="369.38" y="409.34" font-size="3.6" fill="#262626" text-anchor="middle">0%</text>
<rect x="378.30" y="404.58" width="17.84" height="6.92" fill="#f6e7bd"/>
<rect x="379.20" y="405.48" width="16.04" height="5.12" fill="none" stroke="#ffffff" stroke-opacity="0.22" stroke-width="0.6"/>
<text x="387.22" y="409.34" font-size="3.6" fill="#262626" text-anchor="middle">0.84%</text>
<rect x="396.14" y="404.58" width="17.84" height="6.92" fill="#bccce3"/>
<rect x="397.04" y="405.48" width="16.04" height="5.12" fill="none" stroke="#ffffff" stroke-opacity="0.22" stroke-width="0.6"/>
<text x="405.06" y="409.34" font-size="3.6" fill="#262626" text-anchor="middle">0.05%</text>
<rect x="413.98" y="404.58" width="17.84" height="6.92" fill="#cedbe9"/>
<rect x="414.88" y="405.48" width="16.04" height="5.12" fill="none" stroke="#ffffff" stroke-opacity="0.22" stroke-width="0.6"/>
<text x="422.90" y="409.34" font-size="3.6" fill="#262626" text-anchor="middle">0.14%</text>
<rect x="431.82" y="404.58" width="17.84" height="6.92" fill="#d4e0ea"/>
<rect x="432.72" y="405.48" width="16.04" height="5.12" fill="none" stroke="#ffffff" stroke-opacity="0.22" stroke-width="0.6"/>
<text x="440.74" y="409.34" font-size="3.6" fill="#262626" text-anchor="middle">0.19%</text>
<rect x="449.66" y="404.58" width="17.84" height="6.92" fill="#8a9dc8"/>
<rect x="450.56" y="405.48" width="16.04" height="5.12" fill="none" stroke="#ffffff" stroke-opacity="0.22" stroke-width="0.6"/>
<text x="458.58" y="409.34" font-size="3.6" fill="#262626" text-anchor="middle">0%</text>
<rect x="271.25" y="411.50" width="17.84" height="6.92" fill="#d5e1ea"/>
<rect x="272.15" y="412.40" width="16.04" height="5.12" fill="none" stroke="#ffffff" stroke-opacity="0.22" stroke-width="0.6"/>
<text x="280.17" y="416.25" font-size="3.6" fill="#262626" text-anchor="middle">0.2%</text>
<rect x="289.09" y="411.50" width="17.84" height="6.92" fill="#a9bada"/>
<rect x="289.99" y="412.40" width="16.04" height="5.12" fill="none" stroke="#ffffff" stroke-opacity="0.22" stroke-width="0.6"/>
<text x="298.01" y="416.25" font-size="3.6" fill="#262626" text-anchor="middle">0.02%</text>
<rect x="306.93" y="411.50" width="17.84" height="6.92" fill="#98aad1"/>
<rect x="307.83" y="412.40" width="16.04" height="5.12" fill="none" stroke="#ffffff" stroke-opacity="0.22" stroke-width="0.6"/>
<text x="315.85" y="416.25" font-size="3.6" fill="#262626" text-anchor="middle">0.01%</text>
<rect x="324.77" y="411.50" width="17.84" height="6.92" fill="#98aad1"/>
<rect x="325.67" y="412.40" width="16.04" height="5.12" fill="none" stroke="#ffffff" stroke-opacity="0.22" stroke-width="0.6"/>
<text x="333.69" y="416.25" font-size="3.6" fill="#262626" text-anchor="middle">0.01%</text>
<rect x="342.61" y="411.50" width="17.84" height="6.92" fill="#98aad1"/>
<rect x="343.51" y="412.40" width="16.04" height="5.12" fill="none" stroke="#ffffff" stroke-opacity="0.22" stroke-width="0.6"/>
<text x="351.53" y="416.25" font-size="3.6" fill="#262626" text-anchor="middle">0.01%</text>
<rect x="360.45" y="411.50" width="17.84" height="6.92" fill="#8a9dc8"/>
<rect x="361.35" y="412.40" width="16.04" height="5.12" fill="none" stroke="#ffffff" stroke-opacity="0.22" stroke-width="0.6"/>
<text x="369.38" y="416.25" font-size="3.6" fill="#262626" text-anchor="middle">0%</text>
<rect x="378.30" y="411.50" width="17.84" height="6.92" fill="#f8e4b5"/>
<rect x="379.20" y="412.40" width="16.04" height="5.12" fill="none" stroke="#ffffff" stroke-opacity="0.22" stroke-width="0.6"/>
<text x="387.22" y="416.25" font-size="3.6" fill="#262626" text-anchor="middle">1.02%</text>
<rect x="396.14" y="411.50" width="17.84" height="6.92" fill="#f5d5a8"/>
<rect x="397.04" y="412.40" width="16.04" height="5.12" fill="none" stroke="#ffffff" stroke-opacity="0.22" stroke-width="0.6"/>
<text x="405.06" y="416.25" font-size="3.6" fill="#262626" text-anchor="middle">1.57%</text>
<rect x="413.98" y="411.50" width="17.84" height="6.92" fill="#f3c69b"/>
<rect x="414.88" y="412.40" width="16.04" height="5.12" fill="none" stroke="#ffffff" stroke-opacity="0.22" stroke-width="0.6"/>
<text x="422.90" y="416.25" font-size="3.6" fill="#262626" text-anchor="middle">2.2%</text>
<rect x="431.82" y="411.50" width="17.84" height="6.92" fill="#f2c398"/>
<rect x="432.72" y="412.40" width="16.04" height="5.12" fill="none" stroke="#ffffff" stroke-opacity="0.22" stroke-width="0.6"/>
<text x="440.74" y="416.25" font-size="3.6" fill="#262626" text-anchor="middle">2.35%</text>
<rect x="449.66" y="411.50" width="17.84" height="6.92" fill="#f3e9c4"/>
<rect x="450.56" y="412.40" width="16.04" height="5.12" fill="none" stroke="#ffffff" stroke-opacity="0.22" stroke-width="0.6"/>
<text x="458.58" y="416.25" font-size="3.6" fill="#262626" text-anchor="middle">0.69%</text>
<rect x="271.25" y="418.42" width="17.84" height="6.92" fill="#d7e2e8"/>
<rect x="272.15" y="419.32" width="16.04" height="5.12" fill="none" stroke="#ffffff" stroke-opacity="0.22" stroke-width="0.6"/>
<text x="280.17" y="423.17" font-size="3.6" fill="#262626" text-anchor="middle">0.21%</text>
<rect x="289.09" y="418.42" width="17.84" height="6.92" fill="#a9bada"/>
<rect x="289.99" y="419.32" width="16.04" height="5.12" fill="none" stroke="#ffffff" stroke-opacity="0.22" stroke-width="0.6"/>
<text x="298.01" y="423.17" font-size="3.6" fill="#262626" text-anchor="middle">0.02%</text>
<rect x="306.93" y="418.42" width="17.84" height="6.92" fill="#98aad1"/>
<rect x="307.83" y="419.32" width="16.04" height="5.12" fill="none" stroke="#ffffff" stroke-opacity="0.22" stroke-width="0.6"/>
<text x="315.85" y="423.17" font-size="3.6" fill="#262626" text-anchor="middle">0.01%</text>
<rect x="324.77" y="418.42" width="17.84" height="6.92" fill="#98aad1"/>
<rect x="325.67" y="419.32" width="16.04" height="5.12" fill="none" stroke="#ffffff" stroke-opacity="0.22" stroke-width="0.6"/>
<text x="333.69" y="423.17" font-size="3.6" fill="#262626" text-anchor="middle">0.01%</text>
<rect x="342.61" y="418.42" width="17.84" height="6.92" fill="#98aad1"/>
<rect x="343.51" y="419.32" width="16.04" height="5.12" fill="none" stroke="#ffffff" stroke-opacity="0.22" stroke-width="0.6"/>
<text x="351.53" y="423.17" font-size="3.6" fill="#262626" text-anchor="middle">0.01%</text>
<rect x="360.45" y="418.42" width="17.84" height="6.92" fill="#8a9dc8"/>
<rect x="361.35" y="419.32" width="16.04" height="5.12" fill="none" stroke="#ffffff" stroke-opacity="0.22" stroke-width="0.6"/>
<text x="369.38" y="423.17" font-size="3.6" fill="#262626" text-anchor="middle">0%</text>
<rect x="378.30" y="418.42" width="17.84" height="6.92" fill="#f6e7bc"/>
<rect x="379.20" y="419.32" width="16.04" height="5.12" fill="none" stroke="#ffffff" stroke-opacity="0.22" stroke-width="0.6"/>
<text x="387.22" y="423.17" font-size="3.6" fill="#262626" text-anchor="middle">0.85%</text>
<rect x="396.14" y="418.42" width="17.84" height="6.92" fill="#f8e5b7"/>
<rect x="397.04" y="419.32" width="16.04" height="5.12" fill="none" stroke="#ffffff" stroke-opacity="0.22" stroke-width="0.6"/>
<text x="405.06" y="423.17" font-size="3.6" fill="#262626" text-anchor="middle">0.98%</text>
<rect x="413.98" y="418.42" width="17.84" height="6.92" fill="#f7deb0"/>
<rect x="414.88" y="419.32" width="16.04" height="5.12" fill="none" stroke="#ffffff" stroke-opacity="0.22" stroke-width="0.6"/>
<text x="422.90" y="423.17" font-size="3.6" fill="#262626" text-anchor="middle">1.22%</text>
<rect x="431.82" y="418.42" width="17.84" height="6.92" fill="#f7e0b2"/>
<rect x="432.72" y="419.32" width="16.04" height="5.12" fill="none" stroke="#ffffff" stroke-opacity="0.22" stroke-width="0.6"/>
<text x="440.74" y="423.17" font-size="3.6" fill="#262626" text-anchor="middle">1.15%</text>
<rect x="449.66" y="418.42" width="17.84" height="6.92" fill="#eeead0"/>
<rect x="450.56" y="419.32" width="16.04" height="5.12" fill="none" stroke="#ffffff" stroke-opacity="0.22" stroke-width="0.6"/>
<text x="458.58" y="423.17" font-size="3.6" fill="#262626" text-anchor="middle">0.49%</text>
<rect x="271.25" y="425.33" width="17.84" height="6.92" fill="#dbe3e4"/>
<rect x="272.15" y="426.23" width="16.04" height="5.12" fill="none" stroke="#ffffff" stroke-opacity="0.22" stroke-width="0.6"/>
<text x="280.17" y="430.09" font-size="3.6" fill="#262626" text-anchor="middle">0.24%</text>
<rect x="289.09" y="425.33" width="17.84" height="6.92" fill="#98aad1"/>
<rect x="289.99" y="426.23" width="16.04" height="5.12" fill="none" stroke="#ffffff" stroke-opacity="0.22" stroke-width="0.6"/>
<text x="298.01" y="430.09" font-size="3.6" fill="#262626" text-anchor="middle">0.01%</text>
<rect x="306.93" y="425.33" width="17.84" height="6.92" fill="#98aad1"/>
<rect x="307.83" y="426.23" width="16.04" height="5.12" fill="none" stroke="#ffffff" stroke-opacity="0.22" stroke-width="0.6"/>
<text x="315.85" y="430.09" font-size="3.6" fill="#262626" text-anchor="middle">0.01%</text>
<rect x="324.77" y="425.33" width="17.84" height="6.92" fill="#98aad1"/>
<rect x="325.67" y="426.23" width="16.04" height="5.12" fill="none" stroke="#ffffff" stroke-opacity="0.22" stroke-width="0.6"/>
<text x="333.69" y="430.09" font-size="3.6" fill="#262626" text-anchor="middle">0.01%</text>
<rect x="342.61" y="425.33" width="17.84" height="6.92" fill="#8a9dc8"/>
<rect x="343.51" y="426.23" width="16.04" height="5.12" fill="none" stroke="#ffffff" stroke-opacity="0.22" stroke-width="0.6"/>
<text x="351.53" y="430.09" font-size="3.6" fill="#262626" text-anchor="middle">0%</text>
<rect x="360.45" y="425.33" width="17.84" height="6.92" fill="#8a9dc8"/>
<rect x="361.35" y="426.23" width="16.04" height="5.12" fill="none" stroke="#ffffff" stroke-opacity="0.22" stroke-width="0.6"/>
<text x="369.38" y="430.09" font-size="3.6" fill="#262626" text-anchor="middle">0%</text>
<rect x="378.30" y="425.33" width="17.84" height="6.92" fill="#8a9dc8"/>
<rect x="379.20" y="426.23" width="16.04" height="5.12" fill="none" stroke="#ffffff" stroke-opacity="0.22" stroke-width="0.6"/>
<text x="387.22" y="430.09" font-size="3.6" fill="#262626" text-anchor="middle">0%</text>
<rect x="396.14" y="425.33" width="17.84" height="6.92" fill="#f3eac7"/>
<rect x="397.04" y="426.23" width="16.04" height="5.12" fill="none" stroke="#ffffff" stroke-opacity="0.22" stroke-width="0.6"/>
<text x="405.06" y="430.09" font-size="3.6" fill="#262626" text-anchor="middle">0.64%</text>
<rect x="413.98" y="425.33" width="17.84" height="6.92" fill="#ece9d2"/>
<rect x="414.88" y="426.23" width="16.04" height="5.12" fill="none" stroke="#ffffff" stroke-opacity="0.22" stroke-width="0.6"/>
<text x="422.90" y="430.09" font-size="3.6" fill="#262626" text-anchor="middle">0.46%</text>
<rect x="431.82" y="425.33" width="17.84" height="6.92" fill="#e5e7da"/>
<rect x="432.72" y="426.23" width="16.04" height="5.12" fill="none" stroke="#ffffff" stroke-opacity="0.22" stroke-width="0.6"/>
<text x="440.74" y="430.09" font-size="3.6" fill="#262626" text-anchor="middle">0.34%</text>
<rect x="449.66" y="425.33" width="17.84" height="6.92" fill="#c9d8e8"/>
<rect x="450.56" y="426.23" width="16.04" height="5.12" fill="none" stroke="#ffffff" stroke-opacity="0.22" stroke-width="0.6"/>
<text x="458.58" y="430.09" font-size="3.6" fill="#262626" text-anchor="middle">0.11%</text>
<rect x="271.25" y="432.25" width="17.84" height="6.92" fill="#e1e5de"/>
<rect x="272.15" y="433.15" width="16.04" height="5.12" fill="none" stroke="#ffffff" stroke-opacity="0.22" stroke-width="0.6"/>
<text x="280.17" y="437.00" font-size="3.6" fill="#262626" text-anchor="middle">0.3%</text>
<rect x="289.09" y="432.25" width="17.84" height="6.92" fill="#98aad1"/>
<rect x="289.99" y="433.15" width="16.04" height="5.12" fill="none" stroke="#ffffff" stroke-opacity="0.22" stroke-width="0.6"/>
<text x="298.01" y="437.00" font-size="3.6" fill="#262626" text-anchor="middle">0.01%</text>
<rect x="306.93" y="432.25" width="17.84" height="6.92" fill="#98aad1"/>
<rect x="307.83" y="433.15" width="16.04" height="5.12" fill="none" stroke="#ffffff" stroke-opacity="0.22" stroke-width="0.6"/>
<text x="315.85" y="437.00" font-size="3.6" fill="#262626" text-anchor="middle">0.01%</text>
<rect x="324.77" y="432.25" width="17.84" height="6.92" fill="#8a9dc8"/>
<rect x="325.67" y="433.15" width="16.04" height="5.12" fill="none" stroke="#ffffff" stroke-opacity="0.22" stroke-width="0.6"/>
<text x="333.69" y="437.00" font-size="3.6" fill="#262626" text-anchor="middle">0%</text>
<rect x="342.61" y="432.25" width="17.84" height="6.92" fill="#98aad1"/>
<rect x="343.51" y="433.15" width="16.04" height="5.12" fill="none" stroke="#ffffff" stroke-opacity="0.22" stroke-width="0.6"/>
<text x="351.53" y="437.00" font-size="3.6" fill="#262626" text-anchor="middle">0.01%</text>
<rect x="360.45" y="432.25" width="17.84" height="6.92" fill="#8a9dc8"/>
<rect x="361.35" y="433.15" width="16.04" height="5.12" fill="none" stroke="#ffffff" stroke-opacity="0.22" stroke-width="0.6"/>
<text x="369.38" y="437.00" font-size="3.6" fill="#262626" text-anchor="middle">0%</text>
<rect x="378.30" y="432.25" width="17.84" height="6.92" fill="#f7dcae"/>
<rect x="379.20" y="433.15" width="16.04" height="5.12" fill="none" stroke="#ffffff" stroke-opacity="0.22" stroke-width="0.6"/>
<text x="387.22" y="437.00" font-size="3.6" fill="#262626" text-anchor="middle">1.28%</text>
<rect x="396.14" y="432.25" width="17.84" height="6.92" fill="#f8e3b4"/>
<rect x="397.04" y="433.15" width="16.04" height="5.12" fill="none" stroke="#ffffff" stroke-opacity="0.22" stroke-width="0.6"/>
<text x="405.06" y="437.00" font-size="3.6" fill="#262626" text-anchor="middle">1.07%</text>
<rect x="413.98" y="432.25" width="17.84" height="6.92" fill="#f5d3a6"/>
<rect x="414.88" y="433.15" width="16.04" height="5.12" fill="none" stroke="#ffffff" stroke-opacity="0.22" stroke-width="0.6"/>
<text x="422.90" y="437.00" font-size="3.6" fill="#262626" text-anchor="middle">1.64%</text>
<rect x="431.82" y="432.25" width="17.84" height="6.92" fill="#f2eaca"/>
<rect x="432.72" y="433.15" width="16.04" height="5.12" fill="none" stroke="#ffffff" stroke-opacity="0.22" stroke-width="0.6"/>
<text x="440.74" y="437.00" font-size="3.6" fill="#262626" text-anchor="middle">0.6%</text>
<rect x="449.66" y="432.25" width="17.84" height="6.92" fill="#f7e6b9"/>
<rect x="450.56" y="433.15" width="16.04" height="5.12" fill="none" stroke="#ffffff" stroke-opacity="0.22" stroke-width="0.6"/>
<text x="458.58" y="437.00" font-size="3.6" fill="#262626" text-anchor="middle">0.93%</text>
<rect x="271.25" y="439.17" width="17.84" height="6.92" fill="#e1e5de"/>
<rect x="272.15" y="440.07" width="16.04" height="5.12" fill="none" stroke="#ffffff" stroke-opacity="0.22" stroke-width="0.6"/>
<text x="280.17" y="443.92" font-size="3.6" fill="#262626" text-anchor="middle">0.3%</text>
<rect x="289.09" y="439.17" width="17.84" height="6.92" fill="#b4c4df"/>
<rect x="289.99" y="440.07" width="16.04" height="5.12" fill="none" stroke="#ffffff" stroke-opacity="0.22" stroke-width="0.6"/>
<text x="298.01" y="443.92" font-size="3.6" fill="#262626" text-anchor="middle">0.03%</text>
<rect x="306.93" y="439.17" width="17.84" height="6.92" fill="#98aad1"/>
<rect x="307.83" y="440.07" width="16.04" height="5.12" fill="none" stroke="#ffffff" stroke-opacity="0.22" stroke-width="0.6"/>
<text x="315.85" y="443.92" font-size="3.6" fill="#262626" text-anchor="middle">0.01%</text>
<rect x="324.77" y="439.17" width="17.84" height="6.92" fill="#8a9dc8"/>
<rect x="325.67" y="440.07" width="16.04" height="5.12" fill="none" stroke="#ffffff" stroke-opacity="0.22" stroke-width="0.6"/>
<text x="333.69" y="443.92" font-size="3.6" fill="#262626" text-anchor="middle">0%</text>
<rect x="342.61" y="439.17" width="17.84" height="6.92" fill="#a9bada"/>
<rect x="343.51" y="440.07" width="16.04" height="5.12" fill="none" stroke="#ffffff" stroke-opacity="0.22" stroke-width="0.6"/>
<text x="351.53" y="443.92" font-size="3.6" fill="#262626" text-anchor="middle">0.02%</text>
<rect x="360.45" y="439.17" width="17.84" height="6.92" fill="#98aad1"/>
<rect x="361.35" y="440.07" width="16.04" height="5.12" fill="none" stroke="#ffffff" stroke-opacity="0.22" stroke-width="0.6"/>
<text x="369.38" y="443.92" font-size="3.6" fill="#262626" text-anchor="middle">0.01%</text>
<rect x="378.30" y="439.17" width="17.84" height="6.92" fill="#f8e2b4"/>
<rect x="379.20" y="440.07" width="16.04" height="5.12" fill="none" stroke="#ffffff" stroke-opacity="0.22" stroke-width="0.6"/>
<text x="387.22" y="443.92" font-size="3.6" fill="#262626" text-anchor="middle">1.08%</text>
<rect x="396.14" y="439.17" width="17.84" height="6.92" fill="#f3eac7"/>
<rect x="397.04" y="440.07" width="16.04" height="5.12" fill="none" stroke="#ffffff" stroke-opacity="0.22" stroke-width="0.6"/>
<text x="405.06" y="443.92" font-size="3.6" fill="#262626" text-anchor="middle">0.64%</text>
<rect x="413.98" y="439.17" width="17.84" height="6.92" fill="#dbe3e4"/>
<rect x="414.88" y="440.07" width="16.04" height="5.12" fill="none" stroke="#ffffff" stroke-opacity="0.22" stroke-width="0.6"/>
<text x="422.90" y="443.92" font-size="3.6" fill="#262626" text-anchor="middle">0.24%</text>
<rect x="431.82" y="439.17" width="17.84" height="6.92" fill="#8a9dc8"/>
<rect x="432.72" y="440.07" width="16.04" height="5.12" fill="none" stroke="#ffffff" stroke-opacity="0.22" stroke-width="0.6"/>
<text x="440.74" y="443.92" font-size="3.6" fill="#262626" text-anchor="middle">0%</text>
<rect x="449.66" y="439.17" width="17.84" height="6.92" fill="#bfcee4"/>
<rect x="450.56" y="440.07" width="16.04" height="5.12" fill="none" stroke="#ffffff" stroke-opacity="0.22" stroke-width="0.6"/>
<text x="458.58" y="443.92" font-size="3.6" fill="#262626" text-anchor="middle">0.06%</text>
<rect x="271.25" y="446.08" width="17.84" height="6.92" fill="#e5e7d9"/>
<rect x="272.15" y="446.98" width="16.04" height="5.12" fill="none" stroke="#ffffff" stroke-opacity="0.22" stroke-width="0.6"/>
<text x="280.17" y="450.84" font-size="3.6" fill="#262626" text-anchor="middle">0.35%</text>
<rect x="289.09" y="446.08" width="17.84" height="6.92" fill="#98aad1"/>
<rect x="289.99" y="446.98" width="16.04" height="5.12" fill="none" stroke="#ffffff" stroke-opacity="0.22" stroke-width="0.6"/>
<text x="298.01" y="450.84" font-size="3.6" fill="#262626" text-anchor="middle">0.01%</text>
<rect x="306.93" y="446.08" width="17.84" height="6.92" fill="#98aad1"/>
<rect x="307.83" y="446.98" width="16.04" height="5.12" fill="none" stroke="#ffffff" stroke-opacity="0.22" stroke-width="0.6"/>
<text x="315.85" y="450.84" font-size="3.6" fill="#262626" text-anchor="middle">0.01%</text>
<rect x="324.77" y="446.08" width="17.84" height="6.92" fill="#a9bada"/>
<rect x="325.67" y="446.98" width="16.04" height="5.12" fill="none" stroke="#ffffff" stroke-opacity="0.22" stroke-width="0.6"/>
<text x="333.69" y="450.84" font-size="3.6" fill="#262626" text-anchor="middle">0.02%</text>
<rect x="342.61" y="446.08" width="17.84" height="6.92" fill="#b9c8e2"/>
<rect x="343.51" y="446.98" width="16.04" height="5.12" fill="none" stroke="#ffffff" stroke-opacity="0.22" stroke-width="0.6"/>
<text x="351.53" y="450.84" font-size="3.6" fill="#262626" text-anchor="middle">0.04%</text>
<rect x="360.45" y="446.08" width="17.84" height="6.92" fill="#a9bada"/>
<rect x="361.35" y="446.98" width="16.04" height="5.12" fill="none" stroke="#ffffff" stroke-opacity="0.22" stroke-width="0.6"/>
<text x="369.38" y="450.84" font-size="3.6" fill="#262626" text-anchor="middle">0.02%</text>
<rect x="378.30" y="446.08" width="17.84" height="6.92" fill="#d1dde9"/>
<rect x="379.20" y="446.98" width="16.04" height="5.12" fill="none" stroke="#ffffff" stroke-opacity="0.22" stroke-width="0.6"/>
<text x="387.22" y="450.84" font-size="3.6" fill="#262626" text-anchor="middle">0.16%</text>
<rect x="396.14" y="446.08" width="17.84" height="6.92" fill="#ecae88"/>
<rect x="397.04" y="446.98" width="16.04" height="5.12" fill="none" stroke="#ffffff" stroke-opacity="0.22" stroke-width="0.6"/>
<text x="405.06" y="450.84" font-size="3.6" fill="#262626" text-anchor="middle">3.35%</text>
<rect x="413.98" y="446.08" width="17.84" height="6.92" fill="#e39273"/>
<rect x="414.88" y="446.98" width="16.04" height="5.12" fill="none" stroke="#ffffff" stroke-opacity="0.22" stroke-width="0.6"/>
<text x="422.90" y="450.84" font-size="3.6" fill="#262626" text-anchor="middle">4.9%</text>
<rect x="431.82" y="446.08" width="17.84" height="6.92" fill="#d6715b"/>
<rect x="432.72" y="446.98" width="16.04" height="5.12" fill="none" stroke="#ffffff" stroke-opacity="0.22" stroke-width="0.6"/>
<text x="440.74" y="450.84" font-size="3.6" fill="#262626" text-anchor="middle">7.17%</text>
<rect x="449.66" y="446.08" width="17.84" height="6.92" fill="#ebaa85"/>
<rect x="450.56" y="446.98" width="16.04" height="5.12" fill="none" stroke="#ffffff" stroke-opacity="0.22" stroke-width="0.6"/>
<text x="458.58" y="450.84" font-size="3.6" fill="#262626" text-anchor="middle">3.61%</text>
<rect x="271.25" y="453.00" width="17.84" height="6.92" fill="#e5e7d9"/>
<rect x="272.15" y="453.90" width="16.04" height="5.12" fill="none" stroke="#ffffff" stroke-opacity="0.22" stroke-width="0.6"/>
<text x="280.17" y="457.75" font-size="3.6" fill="#262626" text-anchor="middle">0.35%</text>
<rect x="289.09" y="453.00" width="17.84" height="6.92" fill="#d9e3e6"/>
<rect x="289.99" y="453.90" width="16.04" height="5.12" fill="none" stroke="#ffffff" stroke-opacity="0.22" stroke-width="0.6"/>
<text x="298.01" y="457.75" font-size="3.6" fill="#262626" text-anchor="middle">0.23%</text>
<rect x="306.93" y="453.00" width="17.84" height="6.92" fill="#dce3e3"/>
<rect x="307.83" y="453.90" width="16.04" height="5.12" fill="none" stroke="#ffffff" stroke-opacity="0.22" stroke-width="0.6"/>
<text x="315.85" y="457.75" font-size="3.6" fill="#262626" text-anchor="middle">0.25%</text>
<rect x="324.77" y="453.00" width="17.84" height="6.92" fill="#dee4e1"/>
<rect x="325.67" y="453.90" width="16.04" height="5.12" fill="none" stroke="#ffffff" stroke-opacity="0.22" stroke-width="0.6"/>
<text x="333.69" y="457.75" font-size="3.6" fill="#262626" text-anchor="middle">0.27%</text>
<rect x="342.61" y="453.00" width="17.84" height="6.92" fill="#d1dde9"/>
<rect x="343.51" y="453.90" width="16.04" height="5.12" fill="none" stroke="#ffffff" stroke-opacity="0.22" stroke-width="0.6"/>
<text x="351.53" y="457.75" font-size="3.6" fill="#262626" text-anchor="middle">0.16%</text>
<rect x="360.45" y="453.00" width="17.84" height="6.92" fill="#cedbe9"/>
<rect x="361.35" y="453.90" width="16.04" height="5.12" fill="none" stroke="#ffffff" stroke-opacity="0.22" stroke-width="0.6"/>
<text x="369.38" y="457.75" font-size="3.6" fill="#262626" text-anchor="middle">0.14%</text>
<rect x="378.30" y="453.00" width="17.84" height="6.92" fill="#af4738"/>
<rect x="379.20" y="453.90" width="16.04" height="5.12" fill="none" stroke="#ffffff" stroke-opacity="0.22" stroke-width="0.6"/>
<text x="387.22" y="457.75" font-size="3.6" fill="#262626" text-anchor="middle">19.70%</text>
<rect x="396.14" y="453.00" width="17.84" height="6.92" fill="#a74133"/>
<rect x="397.04" y="453.90" width="16.04" height="5.12" fill="none" stroke="#ffffff" stroke-opacity="0.22" stroke-width="0.6"/>
<text x="405.06" y="457.75" font-size="3.6" fill="#262626" text-anchor="middle">23.98%</text>
<rect x="413.98" y="453.00" width="17.84" height="6.92" fill="#a43f32"/>
<rect x="414.88" y="453.90" width="16.04" height="5.12" fill="none" stroke="#ffffff" stroke-opacity="0.22" stroke-width="0.6"/>
<text x="422.90" y="457.75" font-size="3.6" fill="#262626" text-anchor="middle">26.45%</text>
<rect x="431.82" y="453.00" width="17.84" height="6.92" fill="#ac4537"/>
<rect x="432.72" y="453.90" width="16.04" height="5.12" fill="none" stroke="#ffffff" stroke-opacity="0.22" stroke-width="0.6"/>
<text x="440.74" y="457.75" font-size="3.6" fill="#262626" text-anchor="middle">21.06%</text>
<rect x="449.66" y="453.00" width="17.84" height="6.92" fill="#c15343"/>
<rect x="450.56" y="453.90" width="16.04" height="5.12" fill="none" stroke="#ffffff" stroke-opacity="0.22" stroke-width="0.6"/>
<text x="458.58" y="457.75" font-size="3.6" fill="#262626" text-anchor="middle">12.87%</text>
<rect x="271.25" y="459.92" width="17.84" height="6.92" fill="#eae9d3"/>
<rect x="272.15" y="460.82" width="16.04" height="5.12" fill="none" stroke="#ffffff" stroke-opacity="0.22" stroke-width="0.6"/>
<text x="280.17" y="464.67" font-size="3.6" fill="#262626" text-anchor="middle">0.43%</text>
<rect x="289.09" y="459.92" width="17.84" height="6.92" fill="#b4c4df"/>
<rect x="289.99" y="460.82" width="16.04" height="5.12" fill="none" stroke="#ffffff" stroke-opacity="0.22" stroke-width="0.6"/>
<text x="298.01" y="464.67" font-size="3.6" fill="#262626" text-anchor="middle">0.03%</text>
<rect x="306.93" y="459.92" width="17.84" height="6.92" fill="#a9bada"/>
<rect x="307.83" y="460.82" width="16.04" height="5.12" fill="none" stroke="#ffffff" stroke-opacity="0.22" stroke-width="0.6"/>
<text x="315.85" y="464.67" font-size="3.6" fill="#262626" text-anchor="middle">0.02%</text>
<rect x="324.77" y="459.92" width="17.84" height="6.92" fill="#a9bada"/>
<rect x="325.67" y="460.82" width="16.04" height="5.12" fill="none" stroke="#ffffff" stroke-opacity="0.22" stroke-width="0.6"/>
<text x="333.69" y="464.67" font-size="3.6" fill="#262626" text-anchor="middle">0.02%</text>
<rect x="342.61" y="459.92" width="17.84" height="6.92" fill="#a9bada"/>
<rect x="343.51" y="460.82" width="16.04" height="5.12" fill="none" stroke="#ffffff" stroke-opacity="0.22" stroke-width="0.6"/>
<text x="351.53" y="464.67" font-size="3.6" fill="#262626" text-anchor="middle">0.02%</text>
<rect x="360.45" y="459.92" width="17.84" height="6.92" fill="#8a9dc8"/>
<rect x="361.35" y="460.82" width="16.04" height="5.12" fill="none" stroke="#ffffff" stroke-opacity="0.22" stroke-width="0.6"/>
<text x="369.38" y="464.67" font-size="3.6" fill="#262626" text-anchor="middle">0%</text>
<rect x="378.30" y="459.92" width="17.84" height="6.92" fill="#f5d2a5"/>
<rect x="379.20" y="460.82" width="16.04" height="5.12" fill="none" stroke="#ffffff" stroke-opacity="0.22" stroke-width="0.6"/>
<text x="387.22" y="464.67" font-size="3.6" fill="#262626" text-anchor="middle">1.68%</text>
<rect x="396.14" y="459.92" width="17.84" height="6.92" fill="#f5d4a7"/>
<rect x="397.04" y="460.82" width="16.04" height="5.12" fill="none" stroke="#ffffff" stroke-opacity="0.22" stroke-width="0.6"/>
<text x="405.06" y="464.67" font-size="3.6" fill="#262626" text-anchor="middle">1.6%</text>
<rect x="413.98" y="459.92" width="17.84" height="6.92" fill="#f7e2b3"/>
<rect x="414.88" y="460.82" width="16.04" height="5.12" fill="none" stroke="#ffffff" stroke-opacity="0.22" stroke-width="0.6"/>
<text x="422.90" y="464.67" font-size="3.6" fill="#262626" text-anchor="middle">1.1%</text>
<rect x="431.82" y="459.92" width="17.84" height="6.92" fill="#f8e2b3"/>
<rect x="432.72" y="460.82" width="16.04" height="5.12" fill="none" stroke="#ffffff" stroke-opacity="0.22" stroke-width="0.6"/>
<text x="440.74" y="464.67" font-size="3.6" fill="#262626" text-anchor="middle">1.09%</text>
<rect x="449.66" y="459.92" width="17.84" height="6.92" fill="#f3e9c4"/>
<rect x="450.56" y="460.82" width="16.04" height="5.12" fill="none" stroke="#ffffff" stroke-opacity="0.22" stroke-width="0.6"/>
<text x="458.58" y="464.67" font-size="3.6" fill="#262626" text-anchor="middle">0.69%</text>
<rect x="271.25" y="466.83" width="17.84" height="6.92" fill="#efeace"/>
<rect x="272.15" y="467.73" width="16.04" height="5.12" fill="none" stroke="#ffffff" stroke-opacity="0.22" stroke-width="0.6"/>
<text x="280.17" y="471.59" font-size="3.6" fill="#262626" text-anchor="middle">0.52%</text>
<rect x="289.09" y="466.83" width="17.84" height="6.92" fill="#bfcee4"/>
<rect x="289.99" y="467.73" width="16.04" height="5.12" fill="none" stroke="#ffffff" stroke-opacity="0.22" stroke-width="0.6"/>
<text x="298.01" y="471.59" font-size="3.6" fill="#262626" text-anchor="middle">0.06%</text>
<rect x="306.93" y="466.83" width="17.84" height="6.92" fill="#bfcee4"/>
<rect x="307.83" y="467.73" width="16.04" height="5.12" fill="none" stroke="#ffffff" stroke-opacity="0.22" stroke-width="0.6"/>
<text x="315.85" y="471.59" font-size="3.6" fill="#262626" text-anchor="middle">0.06%</text>
<rect x="324.77" y="466.83" width="17.84" height="6.92" fill="#b9c8e2"/>
<rect x="325.67" y="467.73" width="16.04" height="5.12" fill="none" stroke="#ffffff" stroke-opacity="0.22" stroke-width="0.6"/>
<text x="333.69" y="471.59" font-size="3.6" fill="#262626" text-anchor="middle">0.04%</text>
<rect x="342.61" y="466.83" width="17.84" height="6.92" fill="#b9c8e2"/>
<rect x="343.51" y="467.73" width="16.04" height="5.12" fill="none" stroke="#ffffff" stroke-opacity="0.22" stroke-width="0.6"/>
<text x="351.53" y="471.59" font-size="3.6" fill="#262626" text-anchor="middle">0.04%</text>
<rect x="360.45" y="466.83" width="17.84" height="6.92" fill="#bccce3"/>
<rect x="361.35" y="467.73" width="16.04" height="5.12" fill="none" stroke="#ffffff" stroke-opacity="0.22" stroke-width="0.6"/>
<text x="369.38" y="471.59" font-size="3.6" fill="#262626" text-anchor="middle">0.05%</text>
<rect x="378.30" y="466.83" width="17.84" height="6.92" fill="#e29172"/>
<rect x="379.20" y="467.73" width="16.04" height="5.12" fill="none" stroke="#ffffff" stroke-opacity="0.22" stroke-width="0.6"/>
<text x="387.22" y="471.59" font-size="3.6" fill="#262626" text-anchor="middle">4.95%</text>
<rect x="396.14" y="466.83" width="17.84" height="6.92" fill="#cb624f"/>
<rect x="397.04" y="467.73" width="16.04" height="5.12" fill="none" stroke="#ffffff" stroke-opacity="0.22" stroke-width="0.6"/>
<text x="405.06" y="471.59" font-size="3.6" fill="#262626" text-anchor="middle">9.7%</text>
<rect x="413.98" y="466.83" width="17.84" height="6.92" fill="#c75c4a"/>
<rect x="414.88" y="467.73" width="16.04" height="5.12" fill="none" stroke="#ffffff" stroke-opacity="0.22" stroke-width="0.6"/>
<text x="422.90" y="471.59" font-size="3.6" fill="#262626" text-anchor="middle">10.82%</text>
<rect x="431.82" y="466.83" width="17.84" height="6.92" fill="#f1bf95"/>
<rect x="432.72" y="467.73" width="16.04" height="5.12" fill="none" stroke="#ffffff" stroke-opacity="0.22" stroke-width="0.6"/>
<text x="440.74" y="471.59" font-size="3.6" fill="#262626" text-anchor="middle">2.51%</text>
<rect x="449.66" y="466.83" width="17.84" height="6.92" fill="#eeb58d"/>
<rect x="450.56" y="467.73" width="16.04" height="5.12" fill="none" stroke="#ffffff" stroke-opacity="0.22" stroke-width="0.6"/>
<text x="458.58" y="471.59" font-size="3.6" fill="#262626" text-anchor="middle">2.99%</text>
<rect x="271.25" y="473.75" width="17.84" height="6.92" fill="#f4e9c3"/>
<rect x="272.15" y="474.65" width="16.04" height="5.12" fill="none" stroke="#ffffff" stroke-opacity="0.22" stroke-width="0.6"/>
<text x="280.17" y="478.50" font-size="3.6" fill="#262626" text-anchor="middle">0.71%</text>
<rect x="289.09" y="473.75" width="17.84" height="6.92" fill="#8a9dc8"/>
<rect x="289.99" y="474.65" width="16.04" height="5.12" fill="none" stroke="#ffffff" stroke-opacity="0.22" stroke-width="0.6"/>
<text x="298.01" y="478.50" font-size="3.6" fill="#262626" text-anchor="middle">0%</text>
<rect x="306.93" y="473.75" width="17.84" height="6.92" fill="#8a9dc8"/>
<rect x="307.83" y="474.65" width="16.04" height="5.12" fill="none" stroke="#ffffff" stroke-opacity="0.22" stroke-width="0.6"/>
<text x="315.85" y="478.50" font-size="3.6" fill="#262626" text-anchor="middle">0%</text>
<rect x="324.77" y="473.75" width="17.84" height="6.92" fill="#8a9dc8"/>
<rect x="325.67" y="474.65" width="16.04" height="5.12" fill="none" stroke="#ffffff" stroke-opacity="0.22" stroke-width="0.6"/>
<text x="333.69" y="478.50" font-size="3.6" fill="#262626" text-anchor="middle">0%</text>
<rect x="342.61" y="473.75" width="17.84" height="6.92" fill="#8a9dc8"/>
<rect x="343.51" y="474.65" width="16.04" height="5.12" fill="none" stroke="#ffffff" stroke-opacity="0.22" stroke-width="0.6"/>
<text x="351.53" y="478.50" font-size="3.6" fill="#262626" text-anchor="middle">0%</text>
<rect x="360.45" y="473.75" width="17.84" height="6.92" fill="#8a9dc8"/>
<rect x="361.35" y="474.65" width="16.04" height="5.12" fill="none" stroke="#ffffff" stroke-opacity="0.22" stroke-width="0.6"/>
<text x="369.38" y="478.50" font-size="3.6" fill="#262626" text-anchor="middle">0%</text>
<rect x="378.30" y="473.75" width="17.84" height="6.92" fill="#f7ddaf"/>
<rect x="379.20" y="474.65" width="16.04" height="5.12" fill="none" stroke="#ffffff" stroke-opacity="0.22" stroke-width="0.6"/>
<text x="387.22" y="478.50" font-size="3.6" fill="#262626" text-anchor="middle">1.24%</text>
<rect x="396.14" y="473.75" width="17.84" height="6.92" fill="#e7e7d8"/>
<rect x="397.04" y="474.65" width="16.04" height="5.12" fill="none" stroke="#ffffff" stroke-opacity="0.22" stroke-width="0.6"/>
<text x="405.06" y="478.50" font-size="3.6" fill="#262626" text-anchor="middle">0.37%</text>
<rect x="413.98" y="473.75" width="17.84" height="6.92" fill="#c7d6e8"/>
<rect x="414.88" y="474.65" width="16.04" height="5.12" fill="none" stroke="#ffffff" stroke-opacity="0.22" stroke-width="0.6"/>
<text x="422.90" y="478.50" font-size="3.6" fill="#262626" text-anchor="middle">0.1%</text>
<rect x="431.82" y="473.75" width="17.84" height="6.92" fill="#8a9dc8"/>
<rect x="432.72" y="474.65" width="16.04" height="5.12" fill="none" stroke="#ffffff" stroke-opacity="0.22" stroke-width="0.6"/>
<text x="440.74" y="478.50" font-size="3.6" fill="#262626" text-anchor="middle">0%</text>
<rect x="449.66" y="473.75" width="17.84" height="6.92" fill="#d4e0ea"/>
<rect x="450.56" y="474.65" width="16.04" height="5.12" fill="none" stroke="#ffffff" stroke-opacity="0.22" stroke-width="0.6"/>
<text x="458.58" y="478.50" font-size="3.6" fill="#262626" text-anchor="middle">0.19%</text>
<rect x="271.25" y="480.67" width="17.84" height="6.92" fill="#f8e2b4"/>
<rect x="272.15" y="481.57" width="16.04" height="5.12" fill="none" stroke="#ffffff" stroke-opacity="0.22" stroke-width="0.6"/>
<text x="280.17" y="485.42" font-size="3.6" fill="#262626" text-anchor="middle">1.08%</text>
<rect x="289.09" y="480.67" width="17.84" height="6.92" fill="#e8e8d6"/>
<rect x="289.99" y="481.57" width="16.04" height="5.12" fill="none" stroke="#ffffff" stroke-opacity="0.22" stroke-width="0.6"/>
<text x="298.01" y="485.42" font-size="3.6" fill="#262626" text-anchor="middle">0.39%</text>
<rect x="306.93" y="480.67" width="17.84" height="6.92" fill="#e7e7d8"/>
<rect x="307.83" y="481.57" width="16.04" height="5.12" fill="none" stroke="#ffffff" stroke-opacity="0.22" stroke-width="0.6"/>
<text x="315.85" y="485.42" font-size="3.6" fill="#262626" text-anchor="middle">0.37%</text>
<rect x="324.77" y="480.67" width="17.84" height="6.92" fill="#efeace"/>
<rect x="325.67" y="481.57" width="16.04" height="5.12" fill="none" stroke="#ffffff" stroke-opacity="0.22" stroke-width="0.6"/>
<text x="333.69" y="485.42" font-size="3.6" fill="#262626" text-anchor="middle">0.52%</text>
<rect x="342.61" y="480.67" width="17.84" height="6.92" fill="#e4e6db"/>
<rect x="343.51" y="481.57" width="16.04" height="5.12" fill="none" stroke="#ffffff" stroke-opacity="0.22" stroke-width="0.6"/>
<text x="351.53" y="485.42" font-size="3.6" fill="#262626" text-anchor="middle">0.33%</text>
<rect x="360.45" y="480.67" width="17.84" height="6.92" fill="#e4e6db"/>
<rect x="361.35" y="481.57" width="16.04" height="5.12" fill="none" stroke="#ffffff" stroke-opacity="0.22" stroke-width="0.6"/>
<text x="369.38" y="485.42" font-size="3.6" fill="#262626" text-anchor="middle">0.33%</text>
<rect x="378.30" y="480.67" width="17.84" height="6.92" fill="#a13e31"/>
<rect x="379.20" y="481.57" width="16.04" height="5.12" fill="none" stroke="#ffffff" stroke-opacity="0.22" stroke-width="0.6"/>
<text x="387.22" y="485.42" font-size="3.6" fill="#262626" text-anchor="middle">30.16%</text>
<rect x="396.14" y="480.67" width="17.84" height="6.92" fill="#99392e"/>
<rect x="397.04" y="481.57" width="16.04" height="5.12" fill="none" stroke="#ffffff" stroke-opacity="0.22" stroke-width="0.6"/>
<text x="405.06" y="485.42" font-size="3.6" fill="#262626" text-anchor="middle">43.58%</text>
<rect x="413.98" y="480.67" width="17.84" height="6.92" fill="#993a2e"/>
<rect x="414.88" y="481.57" width="16.04" height="5.12" fill="none" stroke="#ffffff" stroke-opacity="0.22" stroke-width="0.6"/>
<text x="422.90" y="485.42" font-size="3.6" fill="#262626" text-anchor="middle">42.18%</text>
<rect x="431.82" y="480.67" width="17.84" height="6.92" fill="#a43f32"/>
<rect x="432.72" y="481.57" width="16.04" height="5.12" fill="none" stroke="#ffffff" stroke-opacity="0.22" stroke-width="0.6"/>
<text x="440.74" y="485.42" font-size="3.6" fill="#262626" text-anchor="middle">26.32%</text>
<rect x="449.66" y="480.67" width="17.84" height="6.92" fill="#af4738"/>
<rect x="450.56" y="481.57" width="16.04" height="5.12" fill="none" stroke="#ffffff" stroke-opacity="0.22" stroke-width="0.6"/>
<text x="458.58" y="485.42" font-size="3.6" fill="#262626" text-anchor="middle">19.92%</text>
<rect x="271.25" y="487.58" width="17.84" height="6.92" fill="#873028"/>
<rect x="272.15" y="488.48" width="16.04" height="5.12" fill="none" stroke="#ffffff" stroke-opacity="0.22" stroke-width="0.6"/>
<text x="280.17" y="492.34" font-size="3.6" fill="#262626" text-anchor="middle">95.01%</text>
<rect x="289.09" y="487.58" width="17.84" height="6.92" fill="#862f28"/>
<rect x="289.99" y="488.48" width="16.04" height="5.12" fill="none" stroke="#ffffff" stroke-opacity="0.22" stroke-width="0.6"/>
<text x="298.01" y="492.34" font-size="3.6" fill="#262626" text-anchor="middle">99.16%</text>
<rect x="306.93" y="487.58" width="17.84" height="6.92" fill="#862f28"/>
<rect x="307.83" y="488.48" width="16.04" height="5.12" fill="none" stroke="#ffffff" stroke-opacity="0.22" stroke-width="0.6"/>
<text x="315.85" y="492.34" font-size="3.6" fill="#262626" text-anchor="middle">99.17%</text>
<rect x="324.77" y="487.58" width="17.84" height="6.92" fill="#862f28"/>
<rect x="325.67" y="488.48" width="16.04" height="5.12" fill="none" stroke="#ffffff" stroke-opacity="0.22" stroke-width="0.6"/>
<text x="333.69" y="492.34" font-size="3.6" fill="#262626" text-anchor="middle">99.05%</text>
<rect x="342.61" y="487.58" width="17.84" height="6.92" fill="#862f28"/>
<rect x="343.51" y="488.48" width="16.04" height="5.12" fill="none" stroke="#ffffff" stroke-opacity="0.22" stroke-width="0.6"/>
<text x="351.53" y="492.34" font-size="3.6" fill="#262626" text-anchor="middle">99.29%</text>
<rect x="360.45" y="487.58" width="17.84" height="6.92" fill="#862f28"/>
<rect x="361.35" y="488.48" width="16.04" height="5.12" fill="none" stroke="#ffffff" stroke-opacity="0.22" stroke-width="0.6"/>
<text x="369.38" y="492.34" font-size="3.6" fill="#262626" text-anchor="middle">99.41%</text>
<rect x="378.30" y="487.58" width="17.84" height="6.92" fill="#9e3c30"/>
<rect x="379.20" y="488.48" width="16.04" height="5.12" fill="none" stroke="#ffffff" stroke-opacity="0.22" stroke-width="0.6"/>
<text x="387.22" y="492.34" font-size="3.6" fill="#262626" text-anchor="middle">34.73%</text>
<rect x="396.14" y="487.58" width="17.84" height="6.92" fill="#d5715b"/>
<rect x="397.04" y="488.48" width="16.04" height="5.12" fill="none" stroke="#ffffff" stroke-opacity="0.22" stroke-width="0.6"/>
<text x="405.06" y="492.34" font-size="3.6" fill="#262626" text-anchor="middle">7.28%</text>
<rect x="413.98" y="487.58" width="17.84" height="6.92" fill="#eaa581"/>
<rect x="414.88" y="488.48" width="16.04" height="5.12" fill="none" stroke="#ffffff" stroke-opacity="0.22" stroke-width="0.6"/>
<text x="422.90" y="492.34" font-size="3.6" fill="#262626" text-anchor="middle">3.9%</text>
<rect x="431.82" y="487.58" width="17.84" height="6.92" fill="#a94334"/>
<rect x="432.72" y="488.48" width="16.04" height="5.12" fill="none" stroke="#ffffff" stroke-opacity="0.22" stroke-width="0.6"/>
<text x="440.74" y="492.34" font-size="3.6" fill="#262626" text-anchor="middle">22.96%</text>
<rect x="449.66" y="487.58" width="17.84" height="6.92" fill="#93362c"/>
<rect x="450.56" y="488.48" width="16.04" height="5.12" fill="none" stroke="#ffffff" stroke-opacity="0.22" stroke-width="0.6"/>
<text x="458.58" y="492.34" font-size="3.6" fill="#262626" text-anchor="middle">55.00%</text>
<line x1="271.25" y1="349.25" x2="271.25" y2="494.50" stroke="#1e2026" stroke-opacity="0.72" stroke-width="0.9"/>
<line x1="289.09" y1="349.25" x2="289.09" y2="494.50" stroke="#1e2026" stroke-opacity="0.72" stroke-width="0.9"/>
<line x1="306.93" y1="349.25" x2="306.93" y2="494.50" stroke="#1e2026" stroke-opacity="0.72" stroke-width="0.9"/>
<line x1="324.77" y1="349.25" x2="324.77" y2="494.50" stroke="#1e2026" stroke-opacity="0.72" stroke-width="0.9"/>
<line x1="342.61" y1="349.25" x2="342.61" y2="494.50" stroke="#1e2026" stroke-opacity="0.72" stroke-width="0.9"/>
<line x1="360.45" y1="349.25" x2="360.45" y2="494.50" stroke="#1e2026" stroke-opacity="0.72" stroke-width="0.9"/>
<line x1="378.30" y1="349.25" x2="378.30" y2="494.50" stroke="#1e2026" stroke-opacity="0.72" stroke-width="0.9"/>
<line x1="396.14" y1="349.25" x2="396.14" y2="494.50" stroke="#1e2026" stroke-opacity="0.72" stroke-width="0.9"/>
<line x1="413.98" y1="349.25" x2="413.98" y2="494.50" stroke="#1e2026" stroke-opacity="0.72" stroke-width="0.9"/>
<line x1="431.82" y1="349.25" x2="431.82" y2="494.50" stroke="#1e2026" stroke-opacity="0.72" stroke-width="0.9"/>
<line x1="449.66" y1="349.25" x2="449.66" y2="494.50" stroke="#1e2026" stroke-opacity="0.72" stroke-width="0.9"/>
<line x1="467.50" y1="349.25" x2="467.50" y2="494.50" stroke="#1e2026" stroke-opacity="0.72" stroke-width="0.9"/>
<line x1="271.25" y1="349.25" x2="467.50" y2="349.25" stroke="#1e2026" stroke-opacity="0.72" stroke-width="0.9"/>
<line x1="271.25" y1="356.17" x2="467.50" y2="356.17" stroke="#1e2026" stroke-opacity="0.72" stroke-width="0.9"/>
<line x1="271.25" y1="363.08" x2="467.50" y2="363.08" stroke="#1e2026" stroke-opacity="0.72" stroke-width="0.9"/>
<line x1="271.25" y1="370.00" x2="467.50" y2="370.00" stroke="#1e2026" stroke-opacity="0.72" stroke-width="0.9"/>
<line x1="271.25" y1="376.92" x2="467.50" y2="376.92" stroke="#1e2026" stroke-opacity="0.72" stroke-width="0.9"/>
<line x1="271.25" y1="383.83" x2="467.50" y2="383.83" stroke="#1e2026" stroke-opacity="0.72" stroke-width="0.9"/>
<line x1="271.25" y1="390.75" x2="467.50" y2="390.75" stroke="#1e2026" stroke-opacity="0.72" stroke-width="0.9"/>
<line x1="271.25" y1="397.67" x2="467.50" y2="397.67" stroke="#1e2026" stroke-opacity="0.72" stroke-width="0.9"/>
<line x1="271.25" y1="404.58" x2="467.50" y2="404.58" stroke="#1e2026" stroke-opacity="0.72" stroke-width="0.9"/>
<line x1="271.25" y1="411.50" x2="467.50" y2="411.50" stroke="#1e2026" stroke-opacity="0.72" stroke-width="0.9"/>
<line x1="271.25" y1="418.42" x2="467.50" y2="418.42" stroke="#1e2026" stroke-opacity="0.72" stroke-width="0.9"/>
<line x1="271.25" y1="425.33" x2="467.50" y2="425.33" stroke="#1e2026" stroke-opacity="0.72" stroke-width="0.9"/>
<line x1="271.25" y1="432.25" x2="467.50" y2="432.25" stroke="#1e2026" stroke-opacity="0.72" stroke-width="0.9"/>
<line x1="271.25" y1="439.17" x2="467.50" y2="439.17" stroke="#1e2026" stroke-opacity="0.72" stroke-width="0.9"/>
<line x1="271.25" y1="446.08" x2="467.50" y2="446.08" stroke="#1e2026" stroke-opacity="0.72" stroke-width="0.9"/>
<line x1="271.25" y1="453.00" x2="467.50" y2="453.00" stroke="#1e2026" stroke-opacity="0.72" stroke-width="0.9"/>
<line x1="271.25" y1="459.92" x2="467.50" y2="459.92" stroke="#1e2026" stroke-opacity="0.72" stroke-width="0.9"/>
<line x1="271.25" y1="466.83" x2="467.50" y2="466.83" stroke="#1e2026" stroke-opacity="0.72" stroke-width="0.9"/>
<line x1="271.25" y1="473.75" x2="467.50" y2="473.75" stroke="#1e2026" stroke-opacity="0.72" stroke-width="0.9"/>
<line x1="271.25" y1="480.67" x2="467.50" y2="480.67" stroke="#1e2026" stroke-opacity="0.72" stroke-width="0.9"/>
<line x1="271.25" y1="487.58" x2="467.50" y2="487.58" stroke="#1e2026" stroke-opacity="0.72" stroke-width="0.9"/>
<line x1="271.25" y1="494.50" x2="467.50" y2="494.50" stroke="#1e2026" stroke-opacity="0.72" stroke-width="0.9"/>
<text x="281.67" y="498.90" font-size="4.2" fill="#555" text-anchor="end" transform="rotate(-45 281.67 498.90)">0</text>
<text x="299.51" y="498.90" font-size="4.2" fill="#555" text-anchor="end" transform="rotate(-45 299.51 498.90)">1m</text>
<text x="317.35" y="498.90" font-size="4.2" fill="#555" text-anchor="end" transform="rotate(-45 317.35 498.90)">2m</text>
<text x="335.19" y="498.90" font-size="4.2" fill="#555" text-anchor="end" transform="rotate(-45 335.19 498.90)">3m</text>
<text x="353.03" y="498.90" font-size="4.2" fill="#555" text-anchor="end" transform="rotate(-45 353.03 498.90)">12m</text>
<text x="370.88" y="498.90" font-size="4.2" fill="#555" text-anchor="end" transform="rotate(-45 370.88 498.90)">14m</text>
<text x="388.72" y="498.90" font-size="4.2" fill="#555" text-anchor="end" transform="rotate(-45 388.72 498.90)">1m</text>
<text x="406.56" y="498.90" font-size="4.2" fill="#555" text-anchor="end" transform="rotate(-45 406.56 498.90)">2m</text>
<text x="424.40" y="498.90" font-size="4.2" fill="#555" text-anchor="end" transform="rotate(-45 424.40 498.90)">3m</text>
<text x="442.24" y="498.90" font-size="4.2" fill="#555" text-anchor="end" transform="rotate(-45 442.24 498.90)">12m</text>
<text x="460.08" y="498.90" font-size="4.2" fill="#555" text-anchor="end" transform="rotate(-45 460.08 498.90)">14m</text>
<line x1="290.0" y1="347.5" x2="377.5" y2="347.5" stroke="#555" stroke-width="0.7"/>
<text x="333.8" y="345.20" font-size="5.4" fill="#333" text-anchor="middle">Total granulocytes</text>
<line x1="390.0" y1="347.5" x2="466.0" y2="347.5" stroke="#555" stroke-width="0.7"/>
<text x="422.5" y="345.20" font-size="5.4" fill="#333" text-anchor="middle">Sorted FLAER<tspan font-size="3" dy="-1.8">neg</tspan><tspan dy="1.8"> granulocytes</tspan></text>
<line x1="14.6" y1="350.2" x2="14.6" y2="492.3" stroke="#111" stroke-width="0.9"/>
<line x1="24.3" y1="350.2" x2="24.3" y2="482.0" stroke="#8c8c8c" stroke-width="1.0"/>
<line x1="24.3" y1="485.8" x2="24.3" y2="492.3" stroke="#8c8c8c" stroke-width="1.0"/>
<text x="11.6" y="421.3" font-size="4.6" fill="#444" text-anchor="middle" textLength="24.6" lengthAdjust="spacingAndGlyphs" transform="rotate(-90 11.6 421.3)">Z.119 (Male)</text>
<text x="20.8" y="416.4" font-size="4.6" fill="#444" text-anchor="middle" textLength="14.8" lengthAdjust="spacingAndGlyphs" transform="rotate(-90 20.8 416.4)">INDELs</text>
<text x="20.4" y="489.6" font-size="4.0" fill="#444" text-anchor="middle" transform="rotate(-90 20.4 489.6)">WT</text>
<path d="M163.10,495.60 L165.20,500.90 L161.00,500.90 Z" fill="#a8232f"/>
<path d="M209.30,495.60 L211.40,500.90 L207.20,500.90 Z" fill="#a8232f"/>
<text x="180.75" y="499.7" font-size="4.4" fill="#555" font-family='"Liberation Sans", sans-serif' text-anchor="middle" textLength="9.5" lengthAdjust="spacingAndGlyphs" >PAM</text>
<text x="209.7" y="507.7" font-size="4.6" fill="#444" font-family='"Liberation Sans", sans-serif' text-anchor="middle" textLength="26" lengthAdjust="spacingAndGlyphs" >Cas9 cut site</text>
<defs><linearGradient id="cb" x1="0" y1="0" x2="0" y2="1">
<stop offset="0" stop-color="#6e1a1c"/>
<stop offset="0.02" stop-color="#7a1f20"/>
<stop offset="0.157" stop-color="#c0503a"/>
<stop offset="0.225" stop-color="#eab070"/>
<stop offset="0.294" stop-color="#f6edc4"/>
<stop offset="0.433" stop-color="#c8d8ea"/>
<stop offset="0.64" stop-color="#a6badb"/>
<stop offset="0.93" stop-color="#7b96c8"/>
<stop offset="1" stop-color="#7290c6"/>
</linearGradient></defs>
<rect x="472.3" y="372.3" width="5.0" height="105.1" fill="url(#cb)"/>
<rect x="472.3" y="470.6" width="5.0" height="6.8" fill="#7090c6"/>
<text x="472.4" y="370.2" font-size="3.8" fill="#555" font-family='"Liberation Sans", sans-serif' >Size</text>
<text x="478.6" y="375.50" font-size="3.7" fill="#555" font-family='"Liberation Sans", sans-serif' >100%</text>
<text x="478.6" y="390.10" font-size="3.7" fill="#555" font-family='"Liberation Sans", sans-serif' >10%</text>
<text x="478.6" y="404.50" font-size="3.7" fill="#555" font-family='"Liberation Sans", sans-serif' >1%</text>
<text x="478.6" y="419.10" font-size="3.7" fill="#555" font-family='"Liberation Sans", sans-serif' >0.1%</text>
<text x="478.6" y="470.80" font-size="3.7" fill="#555" font-family='"Liberation Sans", sans-serif' >0.0025%</text>
<text x="478.6" y="476.80" font-size="3.7" fill="#555" font-family='"Liberation Sans", sans-serif' >Defined 0</text>
<text x="8.0" y="536.1" font-size="12.4" fill="#111" font-family='"Liberation Sans", sans-serif'>C</text>
<text x="148.6" y="534.8" font-size="12.4" fill="#111" font-family='"Liberation Sans", sans-serif'>D</text>
<text x="324.6" y="535.0" font-size="12.4" fill="#111" font-family='"Liberation Sans", sans-serif'>E</text>
<line x1="34.0" y1="566.0" x2="34.0" y2="630.0" stroke="#111" stroke-width="1.0"/>
<line x1="33.5" y1="629.5" x2="127.6" y2="629.5" stroke="#111" stroke-width="1.0"/>
<line x1="30.7" y1="629.50" x2="34.0" y2="629.50" stroke="#111" stroke-width="0.9"/>
<text x="28.9" y="631.20" font-size="5.0" fill="#4a4a4a" text-anchor="end">0.0</text>
<line x1="30.7" y1="617.40" x2="34.0" y2="617.40" stroke="#111" stroke-width="0.9"/>
<text x="28.9" y="619.10" font-size="5.0" fill="#4a4a4a" text-anchor="end">0.2</text>
<line x1="30.7" y1="605.30" x2="34.0" y2="605.30" stroke="#111" stroke-width="0.9"/>
<text x="28.9" y="607.00" font-size="5.0" fill="#4a4a4a" text-anchor="end">0.4</text>
<line x1="30.7" y1="593.20" x2="34.0" y2="593.20" stroke="#111" stroke-width="0.9"/>
<text x="28.9" y="594.90" font-size="5.0" fill="#4a4a4a" text-anchor="end">0.6</text>
<line x1="30.7" y1="581.10" x2="34.0" y2="581.10" stroke="#111" stroke-width="0.9"/>
<text x="28.9" y="582.80" font-size="5.0" fill="#4a4a4a" text-anchor="end">0.8</text>
<line x1="30.7" y1="569.00" x2="34.0" y2="569.00" stroke="#111" stroke-width="0.9"/>
<text x="28.9" y="570.70" font-size="5.0" fill="#4a4a4a" text-anchor="end">1.0</text>
<line x1="33.50" y1="629.5" x2="33.50" y2="632.7" stroke="#111" stroke-width="0.9"/>
<text x="34.50" y="638.2" font-size="4.9" fill="#333" stroke="#333" stroke-width="0.12" text-anchor="end" transform="rotate(-45 34.50 638.2)">0</text>
<line x1="40.48" y1="629.5" x2="40.48" y2="632.7" stroke="#111" stroke-width="0.9"/>
<text x="41.48" y="638.2" font-size="4.9" fill="#333" stroke="#333" stroke-width="0.12" text-anchor="end" transform="rotate(-45 41.48 638.2)">2</text>
<line x1="47.46" y1="629.5" x2="47.46" y2="632.7" stroke="#111" stroke-width="0.9"/>
<text x="48.46" y="638.2" font-size="4.9" fill="#333" stroke="#333" stroke-width="0.12" text-anchor="end" transform="rotate(-45 48.46 638.2)">4</text>
<line x1="54.44" y1="629.5" x2="54.44" y2="632.7" stroke="#111" stroke-width="0.9"/>
<text x="55.44" y="638.2" font-size="4.9" fill="#333" stroke="#333" stroke-width="0.12" text-anchor="end" transform="rotate(-45 55.44 638.2)">6</text>
<line x1="61.42" y1="629.5" x2="61.42" y2="632.7" stroke="#111" stroke-width="0.9"/>
<text x="62.42" y="638.2" font-size="4.9" fill="#333" stroke="#333" stroke-width="0.12" text-anchor="end" transform="rotate(-45 62.42 638.2)">8</text>
<line x1="68.40" y1="629.5" x2="68.40" y2="632.7" stroke="#111" stroke-width="0.9"/>
<text x="69.40" y="638.2" font-size="4.9" fill="#333" stroke="#333" stroke-width="0.12" text-anchor="end" transform="rotate(-45 69.40 638.2)">10</text>
<line x1="75.38" y1="629.5" x2="75.38" y2="632.7" stroke="#111" stroke-width="0.9"/>
<text x="76.38" y="638.2" font-size="4.9" fill="#333" stroke="#333" stroke-width="0.12" text-anchor="end" transform="rotate(-45 76.38 638.2)">12</text>
<line x1="82.36" y1="629.5" x2="82.36" y2="632.7" stroke="#111" stroke-width="0.9"/>
<text x="83.36" y="638.2" font-size="4.9" fill="#333" stroke="#333" stroke-width="0.12" text-anchor="end" transform="rotate(-45 83.36 638.2)">14</text>
<line x1="89.34" y1="629.5" x2="89.34" y2="632.7" stroke="#111" stroke-width="0.9"/>
<text x="90.34" y="638.2" font-size="4.9" fill="#333" stroke="#333" stroke-width="0.12" text-anchor="end" transform="rotate(-45 90.34 638.2)">16</text>
<line x1="96.32" y1="629.5" x2="96.32" y2="632.7" stroke="#111" stroke-width="0.9"/>
<text x="97.32" y="638.2" font-size="4.9" fill="#333" stroke="#333" stroke-width="0.12" text-anchor="end" transform="rotate(-45 97.32 638.2)">18</text>
<line x1="103.30" y1="629.5" x2="103.30" y2="632.7" stroke="#111" stroke-width="0.9"/>
<text x="104.30" y="638.2" font-size="4.9" fill="#333" stroke="#333" stroke-width="0.12" text-anchor="end" transform="rotate(-45 104.30 638.2)">20</text>
<line x1="110.28" y1="629.5" x2="110.28" y2="632.7" stroke="#111" stroke-width="0.9"/>
<text x="111.28" y="638.2" font-size="4.9" fill="#333" stroke="#333" stroke-width="0.12" text-anchor="end" transform="rotate(-45 111.28 638.2)">22</text>
<line x1="117.26" y1="629.5" x2="117.26" y2="632.7" stroke="#111" stroke-width="0.9"/>
<text x="118.26" y="638.2" font-size="4.9" fill="#333" stroke="#333" stroke-width="0.12" text-anchor="end" transform="rotate(-45 118.26 638.2)">24</text>
<line x1="124.24" y1="629.5" x2="124.24" y2="632.7" stroke="#111" stroke-width="0.9"/>
<text x="125.24" y="638.2" font-size="4.9" fill="#333" stroke="#333" stroke-width="0.12" text-anchor="end" transform="rotate(-45 125.24 638.2)">26</text>
<text x="80.50" y="551.0" font-size="6.6" fill="#1a1a1a" stroke="#1a1a1a" stroke-width="0.18" text-anchor="middle" textLength="95.80" lengthAdjust="spacingAndGlyphs">Granulocyte INDEL frequency</text>
<text x="80.50" y="559.8" font-size="6.6" fill="#1a1a1a" stroke="#1a1a1a" stroke-width="0.18" text-anchor="middle" textLength="86.00" lengthAdjust="spacingAndGlyphs">: Targeted deep sequencing</text>
<text x="13.0" y="599.5" font-size="7.4" fill="#1a1a1a" stroke="#1a1a1a" stroke-width="0.14" font-family='"Liberation Sans", sans-serif' text-anchor="middle" textLength="63.0" lengthAdjust="spacingAndGlyphs" transform="rotate(-90 13.0 599.5)">INDEL frequency (%)</text>
<text x="80.75" y="649.7" font-size="7.4" fill="#1a1a1a" stroke="#1a1a1a" stroke-width="0.18" font-family='"Liberation Sans", sans-serif' text-anchor="middle" textLength="93.70" lengthAdjust="spacingAndGlyphs">Months after transplantation</text>
<polyline points="36.6,578.3 40.4,578.8 50.8,571.6 75.6,586.0 82.8,593.5" fill="none" stroke="#2f5790" stroke-width="1.05" stroke-linejoin="round"/>
<circle cx="36.6" cy="578.3" r="1.15" fill="#2f5790"/>
<circle cx="40.4" cy="578.8" r="1.15" fill="#2f5790"/>
<circle cx="50.8" cy="571.6" r="1.15" fill="#2f5790"/>
<circle cx="75.6" cy="586.0" r="1.15" fill="#2f5790"/>
<circle cx="82.8" cy="593.5" r="1.15" fill="#2f5790"/>
<polyline points="36.6,601.3 40.4,601.3 50.8,616.9 54.8,614.3 82.8,622.4 93.2,622.4 100.1,622.1 107.3,619.2 114.5,623.8 121.1,623.0" fill="none" stroke="#b0283c" stroke-width="1.05" stroke-linejoin="round"/>
<circle cx="36.6" cy="601.3" r="1.15" fill="#b0283c"/>
<circle cx="40.4" cy="601.3" r="1.15" fill="#b0283c"/>
<circle cx="50.8" cy="616.9" r="1.15" fill="#b0283c"/>
<circle cx="54.8" cy="614.3" r="1.15" fill="#b0283c"/>
<circle cx="82.8" cy="622.4" r="1.15" fill="#b0283c"/>
<circle cx="93.2" cy="622.4" r="1.15" fill="#b0283c"/>
<circle cx="100.1" cy="622.1" r="1.15" fill="#b0283c"/>
<circle cx="107.3" cy="619.2" r="1.15" fill="#b0283c"/>
<circle cx="114.5" cy="623.8" r="1.15" fill="#b0283c"/>
<circle cx="121.1" cy="623.0" r="1.15" fill="#b0283c"/>
<line x1="174.8" y1="566.0" x2="174.8" y2="629.8" stroke="#111" stroke-width="1.0"/>
<line x1="174.3" y1="629.3" x2="268.6" y2="629.3" stroke="#111" stroke-width="1.0"/>
<line x1="171.5" y1="629.30" x2="174.8" y2="629.30" stroke="#111" stroke-width="0.9"/>
<text x="171.1" y="631.00" font-size="5.0" fill="#4a4a4a" text-anchor="end">0</text>
<line x1="171.5" y1="617.24" x2="174.8" y2="617.24" stroke="#111" stroke-width="0.9"/>
<text x="171.1" y="618.94" font-size="5.0" fill="#4a4a4a" text-anchor="end">20</text>
<line x1="171.5" y1="605.18" x2="174.8" y2="605.18" stroke="#111" stroke-width="0.9"/>
<text x="171.1" y="606.88" font-size="5.0" fill="#4a4a4a" text-anchor="end">40</text>
<line x1="171.5" y1="593.12" x2="174.8" y2="593.12" stroke="#111" stroke-width="0.9"/>
<text x="171.1" y="594.82" font-size="5.0" fill="#4a4a4a" text-anchor="end">60</text>
<line x1="171.5" y1="581.06" x2="174.8" y2="581.06" stroke="#111" stroke-width="0.9"/>
<text x="171.1" y="582.76" font-size="5.0" fill="#4a4a4a" text-anchor="end">80</text>
<line x1="171.5" y1="569.00" x2="174.8" y2="569.00" stroke="#111" stroke-width="0.9"/>
<text x="171.1" y="570.70" font-size="5.0" fill="#4a4a4a" text-anchor="end">100</text>
<line x1="174.60" y1="629.3" x2="174.60" y2="632.5" stroke="#111" stroke-width="0.9"/>
<text x="175.60" y="638.2" font-size="4.9" fill="#333" stroke="#333" stroke-width="0.12" text-anchor="end" transform="rotate(-45 175.60 638.2)">0</text>
<line x1="181.58" y1="629.3" x2="181.58" y2="632.5" stroke="#111" stroke-width="0.9"/>
<text x="182.58" y="638.2" font-size="4.9" fill="#333" stroke="#333" stroke-width="0.12" text-anchor="end" transform="rotate(-45 182.58 638.2)">2</text>
<line x1="188.56" y1="629.3" x2="188.56" y2="632.5" stroke="#111" stroke-width="0.9"/>
<text x="189.56" y="638.2" font-size="4.9" fill="#333" stroke="#333" stroke-width="0.12" text-anchor="end" transform="rotate(-45 189.56 638.2)">4</text>
<line x1="195.54" y1="629.3" x2="195.54" y2="632.5" stroke="#111" stroke-width="0.9"/>
<text x="196.54" y="638.2" font-size="4.9" fill="#333" stroke="#333" stroke-width="0.12" text-anchor="end" transform="rotate(-45 196.54 638.2)">6</text>
<line x1="202.52" y1="629.3" x2="202.52" y2="632.5" stroke="#111" stroke-width="0.9"/>
<text x="203.52" y="638.2" font-size="4.9" fill="#333" stroke="#333" stroke-width="0.12" text-anchor="end" transform="rotate(-45 203.52 638.2)">8</text>
<line x1="209.50" y1="629.3" x2="209.50" y2="632.5" stroke="#111" stroke-width="0.9"/>
<text x="210.50" y="638.2" font-size="4.9" fill="#333" stroke="#333" stroke-width="0.12" text-anchor="end" transform="rotate(-45 210.50 638.2)">10</text>
<line x1="216.48" y1="629.3" x2="216.48" y2="632.5" stroke="#111" stroke-width="0.9"/>
<text x="217.48" y="638.2" font-size="4.9" fill="#333" stroke="#333" stroke-width="0.12" text-anchor="end" transform="rotate(-45 217.48 638.2)">12</text>
<line x1="223.46" y1="629.3" x2="223.46" y2="632.5" stroke="#111" stroke-width="0.9"/>
<text x="224.46" y="638.2" font-size="4.9" fill="#333" stroke="#333" stroke-width="0.12" text-anchor="end" transform="rotate(-45 224.46 638.2)">14</text>
<line x1="230.44" y1="629.3" x2="230.44" y2="632.5" stroke="#111" stroke-width="0.9"/>
<text x="231.44" y="638.2" font-size="4.9" fill="#333" stroke="#333" stroke-width="0.12" text-anchor="end" transform="rotate(-45 231.44 638.2)">16</text>
<line x1="237.42" y1="629.3" x2="237.42" y2="632.5" stroke="#111" stroke-width="0.9"/>
<text x="238.42" y="638.2" font-size="4.9" fill="#333" stroke="#333" stroke-width="0.12" text-anchor="end" transform="rotate(-45 238.42 638.2)">18</text>
<line x1="244.40" y1="629.3" x2="244.40" y2="632.5" stroke="#111" stroke-width="0.9"/>
<text x="245.40" y="638.2" font-size="4.9" fill="#333" stroke="#333" stroke-width="0.12" text-anchor="end" transform="rotate(-45 245.40 638.2)">20</text>
<line x1="251.38" y1="629.3" x2="251.38" y2="632.5" stroke="#111" stroke-width="0.9"/>
<text x="252.38" y="638.2" font-size="4.9" fill="#333" stroke="#333" stroke-width="0.12" text-anchor="end" transform="rotate(-45 252.38 638.2)">22</text>
<line x1="258.36" y1="629.3" x2="258.36" y2="632.5" stroke="#111" stroke-width="0.9"/>
<text x="259.36" y="638.2" font-size="4.9" fill="#333" stroke="#333" stroke-width="0.12" text-anchor="end" transform="rotate(-45 259.36 638.2)">24</text>
<line x1="265.34" y1="629.3" x2="265.34" y2="632.5" stroke="#111" stroke-width="0.9"/>
<text x="266.34" y="638.2" font-size="4.9" fill="#333" stroke="#333" stroke-width="0.12" text-anchor="end" transform="rotate(-45 266.34 638.2)">26</text>
<text x="222.0" y="551.3" font-size="6.6" fill="#1a1a1a" stroke="#1a1a1a" stroke-width="0.18" text-anchor="middle" textLength="116" lengthAdjust="spacingAndGlyphs">INDEL frequency in sorted FLAER<tspan font-size="4.2" dy="-3.2">neg</tspan></text>
<text x="222.00" y="560.6" font-size="6.6" fill="#1a1a1a" stroke="#1a1a1a" stroke-width="0.18" text-anchor="middle" textLength="134.40" lengthAdjust="spacingAndGlyphs">granulocytes : Targeted deep sequencing</text>
<text x="153.8" y="598.2" font-size="7.4" fill="#1a1a1a" stroke="#1a1a1a" stroke-width="0.14" font-family='"Liberation Sans", sans-serif' text-anchor="middle" textLength="66.0" lengthAdjust="spacingAndGlyphs" transform="rotate(-90 153.8 598.2)">INDEL frequency (%)</text>
<text x="222.45" y="649.7" font-size="7.4" fill="#1a1a1a" stroke="#1a1a1a" stroke-width="0.18" font-family='"Liberation Sans", sans-serif' text-anchor="middle" textLength="92.30" lengthAdjust="spacingAndGlyphs">Months after transplantation</text>
<polyline points="178.2,589.8 181.8,572.9 192.3,570.8 216.9,582.8 224.0,602.2" fill="none" stroke="#2f5790" stroke-width="1.05" stroke-linejoin="round"/>
<circle cx="178.2" cy="589.8" r="1.15" fill="#2f5790"/>
<circle cx="181.8" cy="572.9" r="1.15" fill="#2f5790"/>
<circle cx="192.3" cy="570.8" r="1.15" fill="#2f5790"/>
<circle cx="216.9" cy="582.8" r="1.15" fill="#2f5790"/>
<circle cx="224.0" cy="602.2" r="1.15" fill="#2f5790"/>
<polyline points="181.8,624.6 185.2,622.5 192.3,619.7 196.0,619.1 210.2,620.6 234.8,617.5 241.5,616.9 248.9,620.0 256.0,622.5 263.1,617.8" fill="none" stroke="#b0283c" stroke-width="1.05" stroke-linejoin="round"/>
<circle cx="181.8" cy="624.6" r="1.15" fill="#b0283c"/>
<circle cx="185.2" cy="622.5" r="1.15" fill="#b0283c"/>
<circle cx="192.3" cy="619.7" r="1.15" fill="#b0283c"/>
<circle cx="196.0" cy="619.1" r="1.15" fill="#b0283c"/>
<circle cx="210.2" cy="620.6" r="1.15" fill="#b0283c"/>
<circle cx="234.8" cy="617.5" r="1.15" fill="#b0283c"/>
<circle cx="241.5" cy="616.9" r="1.15" fill="#b0283c"/>
<circle cx="248.9" cy="620.0" r="1.15" fill="#b0283c"/>
<circle cx="256.0" cy="622.5" r="1.15" fill="#b0283c"/>
<circle cx="263.1" cy="617.8" r="1.15" fill="#b0283c"/>
<line x1="270.1" y1="572.5" x2="277.1" y2="572.5" stroke="#b0283c" stroke-width="0.9"/>
<circle cx="273.6" cy="572.5" r="1.1" fill="#b0283c"/>
<text x="280.2" y="573.95" font-size="4.2" fill="#555" textLength="24.6" lengthAdjust="spacingAndGlyphs">Z.35 (Female)</text>
<line x1="270.1" y1="581.1" x2="277.1" y2="581.1" stroke="#2f5790" stroke-width="0.9"/>
<circle cx="273.6" cy="581.1" r="1.1" fill="#2f5790"/>
<text x="280.2" y="582.55" font-size="4.2" fill="#555" textLength="21.3" lengthAdjust="spacingAndGlyphs">Z.119 (Male)</text>
<line x1="348.5" y1="566.0" x2="348.5" y2="629.7" stroke="#111" stroke-width="1.0"/>
<line x1="348.0" y1="629.2" x2="443.3" y2="629.2" stroke="#111" stroke-width="1.0"/>
<line x1="345.2" y1="629.20" x2="348.5" y2="629.20" stroke="#111" stroke-width="0.9"/>
<text x="344.8" y="630.90" font-size="5.0" fill="#4a4a4a" text-anchor="end">0</text>
<line x1="345.2" y1="617.16" x2="348.5" y2="617.16" stroke="#111" stroke-width="0.9"/>
<text x="344.8" y="618.86" font-size="5.0" fill="#4a4a4a" text-anchor="end">20</text>
<line x1="345.2" y1="605.12" x2="348.5" y2="605.12" stroke="#111" stroke-width="0.9"/>
<text x="344.8" y="606.82" font-size="5.0" fill="#4a4a4a" text-anchor="end">40</text>
<line x1="345.2" y1="593.08" x2="348.5" y2="593.08" stroke="#111" stroke-width="0.9"/>
<text x="344.8" y="594.78" font-size="5.0" fill="#4a4a4a" text-anchor="end">60</text>
<line x1="345.2" y1="581.04" x2="348.5" y2="581.04" stroke="#111" stroke-width="0.9"/>
<text x="344.8" y="582.74" font-size="5.0" fill="#4a4a4a" text-anchor="end">80</text>
<line x1="345.2" y1="569.00" x2="348.5" y2="569.00" stroke="#111" stroke-width="0.9"/>
<text x="344.8" y="570.70" font-size="5.0" fill="#4a4a4a" text-anchor="end">100</text>
<line x1="348.50" y1="629.2" x2="348.50" y2="632.4000000000001" stroke="#111" stroke-width="0.9"/>
<text x="349.50" y="638.2" font-size="4.9" fill="#333" stroke="#333" stroke-width="0.12" text-anchor="end" transform="rotate(-45 349.50 638.2)">0</text>
<line x1="355.33" y1="629.2" x2="355.33" y2="632.4000000000001" stroke="#111" stroke-width="0.9"/>
<text x="356.33" y="638.2" font-size="4.9" fill="#333" stroke="#333" stroke-width="0.12" text-anchor="end" transform="rotate(-45 356.33 638.2)">2</text>
<line x1="362.16" y1="629.2" x2="362.16" y2="632.4000000000001" stroke="#111" stroke-width="0.9"/>
<text x="363.16" y="638.2" font-size="4.9" fill="#333" stroke="#333" stroke-width="0.12" text-anchor="end" transform="rotate(-45 363.16 638.2)">4</text>
<line x1="368.99" y1="629.2" x2="368.99" y2="632.4000000000001" stroke="#111" stroke-width="0.9"/>
<text x="369.99" y="638.2" font-size="4.9" fill="#333" stroke="#333" stroke-width="0.12" text-anchor="end" transform="rotate(-45 369.99 638.2)">6</text>
<line x1="375.82" y1="629.2" x2="375.82" y2="632.4000000000001" stroke="#111" stroke-width="0.9"/>
<text x="376.82" y="638.2" font-size="4.9" fill="#333" stroke="#333" stroke-width="0.12" text-anchor="end" transform="rotate(-45 376.82 638.2)">8</text>
<line x1="382.65" y1="629.2" x2="382.65" y2="632.4000000000001" stroke="#111" stroke-width="0.9"/>
<text x="383.65" y="638.2" font-size="4.9" fill="#333" stroke="#333" stroke-width="0.12" text-anchor="end" transform="rotate(-45 383.65 638.2)">10</text>
<line x1="389.48" y1="629.2" x2="389.48" y2="632.4000000000001" stroke="#111" stroke-width="0.9"/>
<text x="390.48" y="638.2" font-size="4.9" fill="#333" stroke="#333" stroke-width="0.12" text-anchor="end" transform="rotate(-45 390.48 638.2)">12</text>
<line x1="396.31" y1="629.2" x2="396.31" y2="632.4000000000001" stroke="#111" stroke-width="0.9"/>
<text x="397.31" y="638.2" font-size="4.9" fill="#333" stroke="#333" stroke-width="0.12" text-anchor="end" transform="rotate(-45 397.31 638.2)">14</text>
<line x1="403.14" y1="629.2" x2="403.14" y2="632.4000000000001" stroke="#111" stroke-width="0.9"/>
<text x="404.14" y="638.2" font-size="4.9" fill="#333" stroke="#333" stroke-width="0.12" text-anchor="end" transform="rotate(-45 404.14 638.2)">16</text>
<line x1="409.97" y1="629.2" x2="409.97" y2="632.4000000000001" stroke="#111" stroke-width="0.9"/>
<text x="410.97" y="638.2" font-size="4.9" fill="#333" stroke="#333" stroke-width="0.12" text-anchor="end" transform="rotate(-45 410.97 638.2)">18</text>
<line x1="416.80" y1="629.2" x2="416.80" y2="632.4000000000001" stroke="#111" stroke-width="0.9"/>
<text x="417.80" y="638.2" font-size="4.9" fill="#333" stroke="#333" stroke-width="0.12" text-anchor="end" transform="rotate(-45 417.80 638.2)">20</text>
<line x1="423.63" y1="629.2" x2="423.63" y2="632.4000000000001" stroke="#111" stroke-width="0.9"/>
<text x="424.63" y="638.2" font-size="4.9" fill="#333" stroke="#333" stroke-width="0.12" text-anchor="end" transform="rotate(-45 424.63 638.2)">22</text>
<line x1="430.46" y1="629.2" x2="430.46" y2="632.4000000000001" stroke="#111" stroke-width="0.9"/>
<text x="431.46" y="638.2" font-size="4.9" fill="#333" stroke="#333" stroke-width="0.12" text-anchor="end" transform="rotate(-45 431.46 638.2)">24</text>
<line x1="437.29" y1="629.2" x2="437.29" y2="632.4000000000001" stroke="#111" stroke-width="0.9"/>
<text x="438.29" y="638.2" font-size="4.9" fill="#333" stroke="#333" stroke-width="0.12" text-anchor="end" transform="rotate(-45 438.29 638.2)">26</text>
<text x="396.25" y="551.3" font-size="6.6" fill="#1a1a1a" stroke="#1a1a1a" stroke-width="0.18" text-anchor="middle" textLength="115.50" lengthAdjust="spacingAndGlyphs">INDEL frequency in sorted FLAER<tspan font-size="4.2" dy="-3.2">neg</tspan></text>
<text x="395.50" y="560.6" font-size="6.6" fill="#1a1a1a" stroke="#1a1a1a" stroke-width="0.18" text-anchor="middle" textLength="130.60" lengthAdjust="spacingAndGlyphs">lineage cells : Targeted deep sequencing</text>
<text x="327.5" y="598.2" font-size="7.4" fill="#1a1a1a" stroke="#1a1a1a" stroke-width="0.14" font-family='"Liberation Sans", sans-serif' text-anchor="middle" textLength="66.0" lengthAdjust="spacingAndGlyphs" transform="rotate(-90 327.5 598.2)">INDEL frequency (%)</text>
<text x="395.85" y="649.7" font-size="7.4" fill="#1a1a1a" stroke="#1a1a1a" stroke-width="0.18" font-family='"Liberation Sans", sans-serif' text-anchor="middle" textLength="93.30" lengthAdjust="spacingAndGlyphs">Months after transplantation</text>
<polyline points="352.1,598.7 359.0,574.8 366.4,577.6 380.2,605.7" fill="none" stroke="#6db33f" stroke-width="1.05" stroke-linejoin="round"/>
<circle cx="352.1" cy="598.7" r="1.15" fill="#6db33f"/>
<circle cx="359.0" cy="574.8" r="1.15" fill="#6db33f"/>
<circle cx="366.4" cy="577.6" r="1.15" fill="#6db33f"/>
<circle cx="380.2" cy="605.7" r="1.15" fill="#6db33f"/>
<polyline points="352.1,603.6 359.0,599.8 366.4,589.6 380.2,576.1 390.8,590.0 397.8,593.4" fill="none" stroke="#b0283c" stroke-width="1.05" stroke-linejoin="round"/>
<circle cx="352.1" cy="603.6" r="1.15" fill="#b0283c"/>
<circle cx="359.0" cy="599.8" r="1.15" fill="#b0283c"/>
<circle cx="366.4" cy="589.6" r="1.15" fill="#b0283c"/>
<circle cx="380.2" cy="576.1" r="1.15" fill="#b0283c"/>
<circle cx="390.8" cy="590.0" r="1.15" fill="#b0283c"/>
<circle cx="397.8" cy="593.4" r="1.15" fill="#b0283c"/>
<polyline points="366.4,592.8 380.2,573.1 390.8,582.8 397.8,573.8" fill="none" stroke="#2f5790" stroke-width="1.05" stroke-linejoin="round"/>
<circle cx="366.4" cy="592.8" r="1.15" fill="#2f5790"/>
<circle cx="380.2" cy="573.1" r="1.15" fill="#2f5790"/>
<circle cx="390.8" cy="582.8" r="1.15" fill="#2f5790"/>
<circle cx="397.8" cy="573.8" r="1.15" fill="#2f5790"/>
<polyline points="359.0,623.9 366.4,623.9 383.4,623.9 407.7,622.4 422.5,620.9 436.3,620.3" fill="none" stroke="#6db33f" stroke-width="1.05" stroke-linejoin="round" stroke-dasharray="3.2,1.6"/>
<circle cx="359.0" cy="623.9" r="1.15" fill="#6db33f"/>
<circle cx="366.4" cy="623.9" r="1.15" fill="#6db33f"/>
<circle cx="383.4" cy="623.9" r="1.15" fill="#6db33f"/>
<circle cx="407.7" cy="622.4" r="1.15" fill="#6db33f"/>
<circle cx="422.5" cy="620.9" r="1.15" fill="#6db33f"/>
<circle cx="436.3" cy="620.3" r="1.15" fill="#6db33f"/>
<polyline points="366.4,626.0 383.4,615.6 397.1,619.7 407.7,622.8 422.5,620.3 436.3,619.9" fill="none" stroke="#b0283c" stroke-width="1.05" stroke-linejoin="round" stroke-dasharray="3.2,1.6"/>
<circle cx="366.4" cy="626.0" r="1.15" fill="#b0283c"/>
<circle cx="383.4" cy="615.6" r="1.15" fill="#b0283c"/>
<circle cx="397.1" cy="619.7" r="1.15" fill="#b0283c"/>
<circle cx="407.7" cy="622.8" r="1.15" fill="#b0283c"/>
<circle cx="422.5" cy="620.3" r="1.15" fill="#b0283c"/>
<circle cx="436.3" cy="619.9" r="1.15" fill="#b0283c"/>
<polyline points="383.4,622.8 397.1,619.7 407.7,619.0 422.5,617.1 436.3,617.1" fill="none" stroke="#2f5790" stroke-width="1.05" stroke-linejoin="round" stroke-dasharray="3.2,1.6"/>
<circle cx="383.4" cy="622.8" r="1.15" fill="#2f5790"/>
<circle cx="397.1" cy="619.7" r="1.15" fill="#2f5790"/>
<circle cx="407.7" cy="619.0" r="1.15" fill="#2f5790"/>
<circle cx="422.5" cy="617.1" r="1.15" fill="#2f5790"/>
<circle cx="436.3" cy="617.1" r="1.15" fill="#2f5790"/>
<line x1="444.0" y1="571.4" x2="450.1" y2="571.4" stroke="#6db33f" stroke-width="0.9" stroke-dasharray="1.6,1.0"/>
<circle cx="447.0" cy="571.4" r="1.0" fill="#6db33f"/>
<text x="453.9" y="572.85" font-size="4.2" fill="#555" textLength="25.1" lengthAdjust="spacingAndGlyphs">CD14+FLAER-</text>
<line x1="444.0" y1="579.2" x2="450.1" y2="579.2" stroke="#2f5790" stroke-width="0.9" stroke-dasharray="1.6,1.0"/>
<circle cx="447.0" cy="579.2" r="1.0" fill="#2f5790"/>
<text x="453.9" y="580.65" font-size="4.2" fill="#555" textLength="23.2" lengthAdjust="spacingAndGlyphs">CD3+FLAER-</text>
<line x1="444.0" y1="587.3" x2="450.1" y2="587.3" stroke="#b0283c" stroke-width="0.9" stroke-dasharray="1.6,1.0"/>
<circle cx="447.0" cy="587.3" r="1.0" fill="#b0283c"/>
<text x="453.9" y="588.75" font-size="4.2" fill="#555" textLength="25.1" lengthAdjust="spacingAndGlyphs">CD20+FLAER-</text>
<line x1="444.0" y1="598.3" x2="450.1" y2="598.3" stroke="#6db33f" stroke-width="0.9"/>
<circle cx="447.0" cy="598.3" r="1.0" fill="#6db33f"/>
<text x="453.9" y="599.75" font-size="4.2" fill="#555" textLength="25.1" lengthAdjust="spacingAndGlyphs">CD14+FLAER-</text>
<line x1="444.0" y1="606.4" x2="450.1" y2="606.4" stroke="#2f5790" stroke-width="0.9"/>
<circle cx="447.0" cy="606.4" r="1.0" fill="#2f5790"/>
<text x="453.9" y="607.85" font-size="4.2" fill="#555" textLength="23.2" lengthAdjust="spacingAndGlyphs">CD3+FLAER-</text>
<line x1="444.0" y1="614.8" x2="450.1" y2="614.8" stroke="#b0283c" stroke-width="0.9"/>
<circle cx="447.0" cy="614.8" r="1.0" fill="#b0283c"/>
<text x="453.9" y="616.25" font-size="4.2" fill="#555" textLength="25.1" lengthAdjust="spacingAndGlyphs">CD20+FLAER-</text>
<path d="M486.4,569.0 L489.5,569.0 L489.5,590.3 L486.4,590.3" fill="none" stroke="#333" stroke-width="0.9"/>
<text x="492.6" y="581.00" font-size="4.3" fill="#555" textLength="7.4" lengthAdjust="spacingAndGlyphs">Z.35</text>
<path d="M486.4,596.7 L489.5,596.7 L489.5,617.2 L486.4,617.2" fill="none" stroke="#333" stroke-width="0.9"/>
<text x="492.6" y="607.90" font-size="4.3" fill="#555" textLength="9.4" lengthAdjust="spacingAndGlyphs">Z.119</text>
</svg>
</body></html>
